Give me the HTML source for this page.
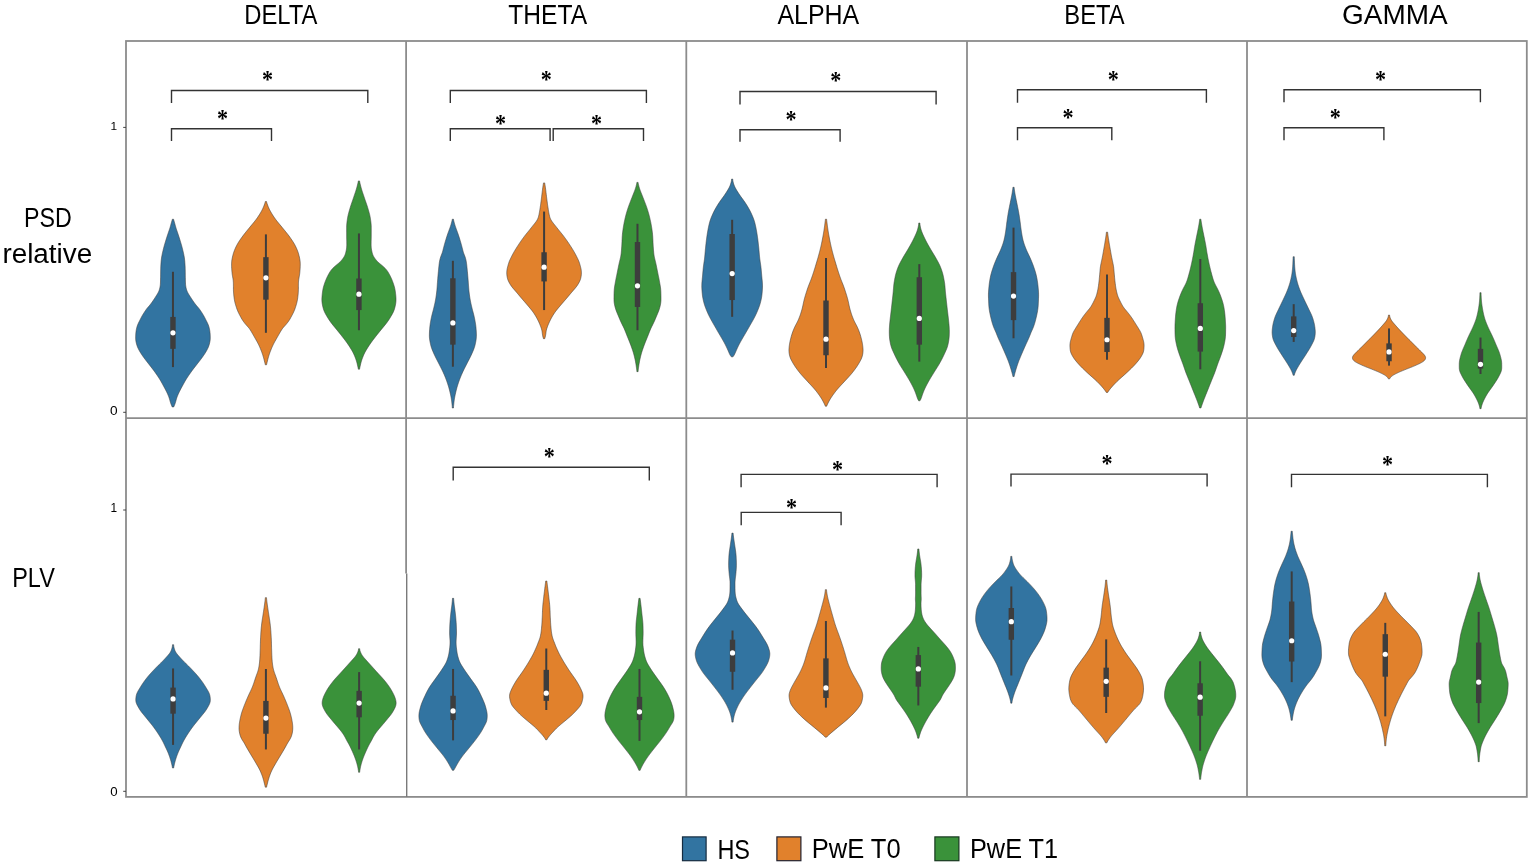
<!DOCTYPE html><html><head><meta charset="utf-8"><title>Violin plots</title><style>html,body{margin:0;padding:0;background:#fff;}svg{display:block;}</style></head><body>
<svg width="1535" height="866" viewBox="0 0 1535 866">
<rect x="0" y="0" width="1535" height="866" fill="#fff"/>
<path d="M173.56 219.23 L173.83 220.23 L174.12 221.23 L174.41 222.23 L174.69 223.23 L174.96 224.23 L175.30 225.48 L175.58 226.48 L175.86 227.48 L176.17 228.48 L176.50 229.48 L176.92 230.73 L177.27 231.73 L177.61 232.73 L177.95 233.73 L178.28 234.73 L178.68 235.98 L179.00 236.98 L179.32 237.98 L179.63 238.98 L179.94 239.98 L180.33 241.23 L180.63 242.23 L180.93 243.23 L181.23 244.23 L181.52 245.23 L181.87 246.48 L182.14 247.48 L182.40 248.48 L182.65 249.48 L182.89 250.48 L183.18 251.73 L183.41 252.73 L183.62 253.73 L183.82 254.73 L184.01 255.73 L184.23 256.98 L184.39 257.98 L184.52 258.98 L184.64 259.98 L184.74 260.98 L184.85 262.23 L184.93 263.23 L185.00 264.23 L185.06 265.23 L185.11 266.23 L185.16 267.23 L185.20 268.48 L185.23 269.48 L185.26 270.48 L185.27 271.48 L185.29 272.48 L185.30 273.73 L185.31 274.73 L185.32 275.73 L185.33 276.73 L185.34 277.73 L185.36 278.98 L185.37 279.98 L185.39 280.98 L185.42 281.98 L185.46 282.98 L185.54 284.23 L185.64 285.23 L185.78 286.23 L185.95 287.23 L186.17 288.23 L186.50 289.48 L186.82 290.48 L187.22 291.48 L187.70 292.48 L188.24 293.48 L188.99 294.73 L189.62 295.73 L190.26 296.73 L190.90 297.73 L191.54 298.73 L192.36 299.98 L193.03 300.98 L193.72 301.98 L194.44 302.98 L195.19 303.98 L196.20 305.23 L197.05 306.23 L197.92 307.23 L198.76 308.23 L199.53 309.23 L200.41 310.48 L201.08 311.48 L201.73 312.48 L202.37 313.48 L202.99 314.48 L203.58 315.48 L204.28 316.73 L204.80 317.73 L205.31 318.73 L205.81 319.73 L206.31 320.73 L206.94 321.98 L207.43 322.98 L207.89 323.98 L208.30 324.98 L208.66 325.98 L209.04 327.23 L209.29 328.23 L209.51 329.23 L209.70 330.23 L209.85 331.23 L210.01 332.48 L210.11 333.48 L210.18 334.48 L210.23 335.48 L210.26 336.48 L210.28 337.73 L210.25 338.73 L210.19 339.73 L210.07 340.73 L209.90 341.73 L209.62 342.98 L209.37 343.98 L209.08 344.98 L208.75 345.98 L208.38 346.98 L207.83 348.23 L207.35 349.23 L206.83 350.23 L206.28 351.23 L205.69 352.23 L204.91 353.48 L204.26 354.48 L203.59 355.48 L202.90 356.48 L202.18 357.48 L201.26 358.73 L200.50 359.73 L199.73 360.73 L198.96 361.73 L198.18 362.73 L197.40 363.73 L196.41 364.98 L195.63 365.98 L194.85 366.98 L194.07 367.98 L193.31 368.98 L192.38 370.23 L191.65 371.23 L190.93 372.23 L190.22 373.23 L189.52 374.23 L188.66 375.48 L187.99 376.48 L187.33 377.48 L186.68 378.48 L186.06 379.48 L185.31 380.73 L184.74 381.73 L184.18 382.73 L183.62 383.73 L183.07 384.73 L182.39 385.98 L181.84 386.98 L181.30 387.98 L180.77 388.98 L180.25 389.98 L179.62 391.23 L179.13 392.23 L178.66 393.23 L178.20 394.23 L177.77 395.23 L177.27 396.48 L176.92 397.48 L176.59 398.48 L176.30 399.48 L176.03 400.48 L175.68 401.73 L175.37 402.73 L175.04 403.73 L174.66 404.73 L174.25 405.73 L173.68 406.98 L172.23 406.98 L171.66 405.73 L171.25 404.73 L170.87 403.73 L170.54 402.73 L170.23 401.73 L169.88 400.48 L169.61 399.48 L169.32 398.48 L168.99 397.48 L168.64 396.48 L168.14 395.23 L167.71 394.23 L167.25 393.23 L166.78 392.23 L166.29 391.23 L165.66 389.98 L165.14 388.98 L164.61 387.98 L164.07 386.98 L163.52 385.98 L162.84 384.73 L162.29 383.73 L161.73 382.73 L161.17 381.73 L160.60 380.73 L159.85 379.48 L159.23 378.48 L158.58 377.48 L157.92 376.48 L157.25 375.48 L156.39 374.23 L155.69 373.23 L154.98 372.23 L154.26 371.23 L153.53 370.23 L152.60 368.98 L151.84 367.98 L151.06 366.98 L150.28 365.98 L149.50 364.98 L148.51 363.73 L147.73 362.73 L146.95 361.73 L146.18 360.73 L145.41 359.73 L144.65 358.73 L143.73 357.48 L143.01 356.48 L142.32 355.48 L141.65 354.48 L141.00 353.48 L140.22 352.23 L139.63 351.23 L139.08 350.23 L138.56 349.23 L138.08 348.23 L137.53 346.98 L137.16 345.98 L136.83 344.98 L136.54 343.98 L136.29 342.98 L136.01 341.73 L135.84 340.73 L135.72 339.73 L135.66 338.73 L135.63 337.73 L135.65 336.48 L135.68 335.48 L135.73 334.48 L135.80 333.48 L135.90 332.48 L136.06 331.23 L136.21 330.23 L136.40 329.23 L136.62 328.23 L136.87 327.23 L137.25 325.98 L137.61 324.98 L138.02 323.98 L138.48 322.98 L138.97 321.98 L139.60 320.73 L140.10 319.73 L140.60 318.73 L141.11 317.73 L141.63 316.73 L142.33 315.48 L142.92 314.48 L143.54 313.48 L144.18 312.48 L144.83 311.48 L145.50 310.48 L146.38 309.23 L147.15 308.23 L147.99 307.23 L148.86 306.23 L149.72 305.23 L150.72 303.98 L151.47 302.98 L152.19 301.98 L152.88 300.98 L153.55 299.98 L154.37 298.73 L155.01 297.73 L155.65 296.73 L156.29 295.73 L156.92 294.73 L157.67 293.48 L158.21 292.48 L158.69 291.48 L159.09 290.48 L159.41 289.48 L159.74 288.23 L159.96 287.23 L160.13 286.23 L160.27 285.23 L160.37 284.23 L160.45 282.98 L160.49 281.98 L160.52 280.98 L160.54 279.98 L160.55 278.98 L160.57 277.73 L160.58 276.73 L160.59 275.73 L160.60 274.73 L160.61 273.73 L160.62 272.48 L160.64 271.48 L160.65 270.48 L160.68 269.48 L160.71 268.48 L160.75 267.23 L160.80 266.23 L160.85 265.23 L160.91 264.23 L160.98 263.23 L161.06 262.23 L161.17 260.98 L161.27 259.98 L161.39 258.98 L161.52 257.98 L161.68 256.98 L161.90 255.73 L162.09 254.73 L162.29 253.73 L162.50 252.73 L162.73 251.73 L163.02 250.48 L163.26 249.48 L163.51 248.48 L163.77 247.48 L164.04 246.48 L164.39 245.23 L164.68 244.23 L164.98 243.23 L165.28 242.23 L165.58 241.23 L165.97 239.98 L166.28 238.98 L166.59 237.98 L166.91 236.98 L167.23 235.98 L167.63 234.73 L167.96 233.73 L168.30 232.73 L168.64 231.73 L168.99 230.73 L169.41 229.48 L169.74 228.48 L170.05 227.48 L170.33 226.48 L170.61 225.48 L170.95 224.23 L171.22 223.23 L171.50 222.23 L171.79 221.23 L172.08 220.23 L172.36 219.23 Z" fill="#3274a1" stroke="#3d3d3d" stroke-width="0.7" stroke-opacity="0.8"/>
<line x1="172.96" y1="271.77" x2="172.96" y2="367.10" stroke="#3d3d3d" stroke-width="2.0"/>
<rect x="170.26" y="316.93" width="5.4" height="31.92" fill="#3d3d3d"/>
<circle cx="172.96" cy="332.80" r="2.6" fill="#fff"/>
<path d="M266.51 201.54 L266.68 202.29 L266.97 203.29 L267.22 204.04 L267.58 205.04 L267.96 206.04 L268.26 206.79 L268.69 207.79 L269.14 208.79 L269.51 209.54 L270.02 210.54 L270.57 211.54 L271.00 212.29 L271.59 213.29 L272.20 214.29 L272.67 215.04 L273.31 216.04 L273.98 217.04 L274.49 217.79 L275.21 218.79 L275.76 219.54 L276.52 220.54 L277.32 221.54 L277.92 222.29 L278.75 223.29 L279.57 224.29 L280.20 225.04 L281.02 226.04 L281.84 227.04 L282.45 227.79 L283.27 228.79 L284.09 229.79 L284.71 230.54 L285.53 231.54 L286.34 232.54 L286.93 233.29 L287.72 234.29 L288.29 235.04 L289.04 236.04 L289.77 237.04 L290.30 237.79 L291.01 238.79 L291.71 239.79 L292.21 240.54 L292.87 241.54 L293.50 242.54 L293.95 243.29 L294.52 244.29 L295.05 245.29 L295.43 246.04 L295.92 247.04 L296.38 248.04 L296.72 248.79 L297.15 249.79 L297.45 250.54 L297.82 251.54 L298.17 252.54 L298.40 253.29 L298.68 254.29 L298.94 255.29 L299.12 256.04 L299.36 257.04 L299.57 258.04 L299.73 258.79 L299.90 259.79 L300.05 260.79 L300.14 261.54 L300.22 262.54 L300.26 263.54 L300.27 264.29 L300.26 265.29 L300.23 266.29 L300.20 267.04 L300.15 268.04 L300.11 268.79 L300.05 269.79 L299.98 270.79 L299.92 271.54 L299.83 272.54 L299.72 273.54 L299.62 274.29 L299.46 275.29 L299.29 276.29 L299.15 277.04 L298.97 278.04 L298.81 279.04 L298.70 279.79 L298.59 280.79 L298.51 281.79 L298.48 282.54 L298.45 283.54 L298.43 284.29 L298.42 285.29 L298.42 286.29 L298.41 287.04 L298.41 288.04 L298.40 289.04 L298.39 289.79 L298.36 290.79 L298.32 291.79 L298.28 292.54 L298.21 293.54 L298.12 294.54 L298.04 295.29 L297.92 296.29 L297.80 297.29 L297.69 298.04 L297.55 299.04 L297.43 299.79 L297.25 300.79 L297.04 301.79 L296.87 302.54 L296.62 303.54 L296.34 304.54 L296.11 305.29 L295.80 306.29 L295.48 307.29 L295.23 308.04 L294.88 309.04 L294.50 310.04 L294.20 310.79 L293.77 311.79 L293.30 312.79 L292.94 313.54 L292.43 314.54 L291.90 315.54 L291.50 316.29 L290.95 317.29 L290.54 318.04 L289.97 319.04 L289.36 320.04 L288.87 320.79 L288.16 321.79 L287.41 322.79 L286.81 323.54 L285.98 324.54 L285.10 325.54 L284.42 326.29 L283.52 327.29 L282.69 328.29 L282.13 329.04 L281.47 330.04 L280.86 331.04 L280.42 331.79 L279.84 332.79 L279.41 333.54 L278.83 334.54 L278.26 335.54 L277.83 336.29 L277.26 337.29 L276.69 338.29 L276.26 339.04 L275.68 340.04 L275.12 341.04 L274.71 341.79 L274.17 342.79 L273.65 343.79 L273.28 344.54 L272.80 345.54 L272.35 346.54 L272.01 347.29 L271.58 348.29 L271.27 349.04 L270.86 350.04 L270.47 351.04 L270.19 351.79 L269.83 352.79 L269.48 353.79 L269.24 354.54 L268.92 355.54 L268.62 356.54 L268.40 357.29 L268.12 358.29 L267.85 359.29 L267.66 360.04 L267.42 361.04 L267.17 362.04 L266.99 362.79 L266.75 363.79 L266.54 364.79 L265.29 364.79 L265.08 363.79 L264.84 362.79 L264.65 362.04 L264.41 361.04 L264.16 360.04 L263.97 359.29 L263.71 358.29 L263.43 357.29 L263.21 356.54 L262.91 355.54 L262.59 354.54 L262.34 353.79 L262.00 352.79 L261.64 351.79 L261.35 351.04 L260.96 350.04 L260.56 349.04 L260.24 348.29 L259.81 347.29 L259.48 346.54 L259.02 345.54 L258.54 344.54 L258.17 343.79 L257.65 342.79 L257.12 341.79 L256.70 341.04 L256.14 340.04 L255.57 339.04 L255.14 338.29 L254.56 337.29 L253.99 336.29 L253.56 335.54 L252.99 334.54 L252.42 333.54 L251.98 332.79 L251.40 331.79 L250.96 331.04 L250.36 330.04 L249.70 329.04 L249.14 328.29 L248.30 327.29 L247.40 326.29 L246.72 325.54 L245.85 324.54 L245.01 323.54 L244.42 322.79 L243.66 321.79 L242.96 320.79 L242.47 320.04 L241.86 319.04 L241.29 318.04 L240.87 317.29 L240.33 316.29 L239.93 315.54 L239.40 314.54 L238.89 313.54 L238.52 312.79 L238.05 311.79 L237.62 310.79 L237.32 310.04 L236.95 309.04 L236.60 308.04 L236.35 307.29 L236.02 306.29 L235.71 305.29 L235.49 304.54 L235.21 303.54 L234.95 302.54 L234.78 301.79 L234.57 300.79 L234.40 299.79 L234.28 299.04 L234.13 298.04 L234.03 297.29 L233.90 296.29 L233.78 295.29 L233.71 294.54 L233.62 293.54 L233.54 292.54 L233.50 291.79 L233.46 290.79 L233.44 289.79 L233.43 289.04 L233.42 288.04 L233.41 287.04 L233.41 286.29 L233.40 285.29 L233.39 284.29 L233.38 283.54 L233.35 282.54 L233.31 281.79 L233.23 280.79 L233.12 279.79 L233.02 279.04 L232.85 278.04 L232.67 277.04 L232.53 276.29 L232.36 275.29 L232.21 274.29 L232.11 273.54 L232.00 272.54 L231.91 271.54 L231.85 270.79 L231.78 269.79 L231.72 268.79 L231.67 268.04 L231.63 267.04 L231.60 266.29 L231.57 265.29 L231.56 264.29 L231.57 263.54 L231.61 262.54 L231.69 261.54 L231.77 260.79 L231.92 259.79 L232.10 258.79 L232.25 258.04 L232.47 257.04 L232.70 256.04 L232.88 255.29 L233.14 254.29 L233.43 253.29 L233.66 252.54 L234.00 251.54 L234.38 250.54 L234.68 249.79 L235.10 248.79 L235.44 248.04 L235.91 247.04 L236.39 246.04 L236.77 245.29 L237.31 244.29 L237.88 243.29 L238.32 242.54 L238.95 241.54 L239.61 240.54 L240.12 239.79 L240.81 238.79 L241.52 237.79 L242.06 237.04 L242.79 236.04 L243.54 235.04 L244.11 234.29 L244.89 233.29 L245.49 232.54 L246.30 231.54 L247.12 230.54 L247.73 229.79 L248.55 228.79 L249.37 227.79 L249.99 227.04 L250.80 226.04 L251.63 225.04 L252.25 224.29 L253.08 223.29 L253.90 222.29 L254.51 221.54 L255.30 220.54 L256.07 219.54 L256.62 218.79 L257.33 217.79 L257.85 217.04 L258.51 216.04 L259.16 215.04 L259.63 214.29 L260.24 213.29 L260.83 212.29 L261.25 211.54 L261.80 210.54 L262.32 209.54 L262.68 208.79 L263.14 207.79 L263.56 206.79 L263.86 206.04 L264.24 205.04 L264.60 204.04 L264.85 203.29 L265.14 202.29 L265.31 201.54 Z" fill="#e1812c" stroke="#3d3d3d" stroke-width="0.7" stroke-opacity="0.8"/>
<line x1="265.91" y1="234.37" x2="265.91" y2="332.80" stroke="#3d3d3d" stroke-width="2.0"/>
<rect x="263.21" y="257.17" width="5.4" height="42.50" fill="#3d3d3d"/>
<circle cx="265.91" cy="277.79" r="2.6" fill="#fff"/>
<path d="M359.54 180.93 L359.71 181.93 L359.92 182.93 L360.16 183.93 L360.40 184.93 L360.72 186.18 L360.99 187.18 L361.27 188.18 L361.56 189.18 L361.86 190.18 L362.26 191.43 L362.59 192.43 L362.93 193.43 L363.27 194.43 L363.61 195.43 L364.03 196.68 L364.37 197.68 L364.71 198.68 L365.04 199.68 L365.38 200.68 L365.81 201.93 L366.15 202.93 L366.49 203.93 L366.83 204.93 L367.16 205.93 L367.55 207.18 L367.86 208.18 L368.16 209.18 L368.45 210.18 L368.74 211.18 L369.09 212.43 L369.36 213.43 L369.61 214.43 L369.84 215.43 L370.10 216.68 L370.28 217.68 L370.44 218.68 L370.59 219.68 L370.72 220.68 L370.88 221.93 L370.99 222.93 L371.08 223.93 L371.16 224.93 L371.21 225.93 L371.24 227.18 L371.25 228.18 L371.26 229.18 L371.26 230.18 L371.26 231.18 L371.26 232.43 L371.26 233.43 L371.26 234.43 L371.25 235.43 L371.25 236.43 L371.24 237.68 L371.22 238.68 L371.19 239.68 L371.17 240.68 L371.14 241.68 L371.11 242.93 L371.10 243.93 L371.10 244.93 L371.13 245.93 L371.21 247.18 L371.31 248.18 L371.45 249.18 L371.63 250.18 L371.83 251.18 L372.12 252.43 L372.39 253.43 L372.71 254.43 L373.11 255.43 L373.61 256.43 L374.38 257.68 L375.09 258.68 L375.87 259.68 L376.70 260.68 L377.62 261.68 L378.95 262.93 L380.16 263.93 L381.41 264.93 L382.60 265.93 L383.71 266.93 L384.98 268.18 L385.90 269.18 L386.73 270.18 L387.46 271.18 L388.12 272.18 L388.86 273.43 L389.41 274.43 L389.94 275.43 L390.45 276.43 L391.05 277.68 L391.49 278.68 L391.92 279.68 L392.31 280.68 L392.69 281.68 L393.13 282.93 L393.48 283.93 L393.80 284.93 L394.11 285.93 L394.40 286.93 L394.71 288.18 L394.93 289.18 L395.11 290.18 L395.27 291.18 L395.41 292.18 L395.56 293.43 L395.68 294.43 L395.79 295.43 L395.88 296.43 L395.95 297.43 L396.01 298.68 L396.02 299.68 L395.99 300.68 L395.93 301.68 L395.82 302.68 L395.63 303.93 L395.44 304.93 L395.23 305.93 L395.00 306.93 L394.68 308.18 L394.40 309.18 L394.07 310.18 L393.68 311.18 L393.24 312.18 L392.62 313.43 L392.08 314.43 L391.51 315.43 L390.92 316.43 L390.32 317.43 L389.55 318.68 L388.91 319.68 L388.24 320.68 L387.54 321.68 L386.80 322.68 L385.84 323.93 L385.04 324.93 L384.23 325.93 L383.41 326.93 L382.59 327.93 L381.56 329.18 L380.75 330.18 L379.94 331.18 L379.13 332.18 L378.32 333.18 L377.32 334.43 L376.53 335.43 L375.74 336.43 L374.97 337.43 L374.00 338.68 L373.24 339.68 L372.48 340.68 L371.74 341.68 L371.02 342.68 L370.14 343.93 L369.46 344.93 L368.80 345.93 L368.15 346.93 L367.51 347.93 L366.74 349.18 L366.15 350.18 L365.58 351.18 L365.04 352.18 L364.54 353.18 L363.95 354.43 L363.51 355.43 L363.10 356.43 L362.70 357.43 L362.33 358.43 L361.89 359.68 L361.56 360.68 L361.26 361.68 L360.99 362.68 L360.73 363.68 L360.43 364.93 L360.20 365.93 L359.98 366.93 L359.77 367.93 L359.56 369.18 L358.33 369.18 L358.12 367.93 L357.91 366.93 L357.68 365.93 L357.45 364.93 L357.16 363.68 L356.90 362.68 L356.63 361.68 L356.33 360.68 L356.00 359.68 L355.56 358.43 L355.19 357.43 L354.79 356.43 L354.38 355.43 L353.94 354.43 L353.35 353.18 L352.85 352.18 L352.31 351.18 L351.74 350.18 L351.15 349.18 L350.37 347.93 L349.74 346.93 L349.09 345.93 L348.43 344.93 L347.75 343.93 L346.87 342.68 L346.15 341.68 L345.40 340.68 L344.65 339.68 L343.88 338.68 L342.92 337.43 L342.14 336.43 L341.36 335.43 L340.57 334.43 L339.57 333.18 L338.76 332.18 L337.95 331.18 L337.14 330.18 L336.32 329.18 L335.30 327.93 L334.48 326.93 L333.65 325.93 L332.84 324.93 L332.05 323.93 L331.09 322.68 L330.35 321.68 L329.65 320.68 L328.98 319.68 L328.33 318.68 L327.56 317.43 L326.97 316.43 L326.38 315.43 L325.81 314.43 L325.27 313.43 L324.65 312.18 L324.21 311.18 L323.82 310.18 L323.49 309.18 L323.20 308.18 L322.89 306.93 L322.65 305.93 L322.44 304.93 L322.26 303.93 L322.07 302.68 L321.96 301.68 L321.90 300.68 L321.87 299.68 L321.88 298.68 L321.94 297.43 L322.01 296.43 L322.10 295.43 L322.21 294.43 L322.32 293.43 L322.48 292.18 L322.62 291.18 L322.78 290.18 L322.96 289.18 L323.17 288.18 L323.49 286.93 L323.78 285.93 L324.09 284.93 L324.41 283.93 L324.75 282.93 L325.20 281.68 L325.57 280.68 L325.97 279.68 L326.39 278.68 L326.84 277.68 L327.44 276.43 L327.95 275.43 L328.47 274.43 L329.03 273.43 L329.77 272.18 L330.43 271.18 L331.16 270.18 L331.99 269.18 L332.91 268.18 L334.18 266.93 L335.29 265.93 L336.48 264.93 L337.73 263.93 L338.94 262.93 L340.27 261.68 L341.19 260.68 L342.02 259.68 L342.80 258.68 L343.51 257.68 L344.28 256.43 L344.77 255.43 L345.17 254.43 L345.49 253.43 L345.76 252.43 L346.06 251.18 L346.26 250.18 L346.44 249.18 L346.58 248.18 L346.68 247.18 L346.76 245.93 L346.79 244.93 L346.79 243.93 L346.77 242.93 L346.75 241.68 L346.72 240.68 L346.69 239.68 L346.67 238.68 L346.65 237.68 L346.64 236.43 L346.63 235.43 L346.63 234.43 L346.63 233.43 L346.63 232.43 L346.63 231.18 L346.63 230.18 L346.63 229.18 L346.64 228.18 L346.65 227.18 L346.68 225.93 L346.73 224.93 L346.80 223.93 L346.90 222.93 L347.01 221.93 L347.17 220.68 L347.30 219.68 L347.45 218.68 L347.61 217.68 L347.79 216.68 L348.05 215.43 L348.28 214.43 L348.53 213.43 L348.80 212.43 L349.15 211.18 L349.44 210.18 L349.73 209.18 L350.03 208.18 L350.33 207.18 L350.73 205.93 L351.06 204.93 L351.39 203.93 L351.74 202.93 L352.08 201.93 L352.50 200.68 L352.84 199.68 L353.18 198.68 L353.52 197.68 L353.86 196.68 L354.28 195.43 L354.62 194.43 L354.96 193.43 L355.30 192.43 L355.63 191.43 L356.03 190.18 L356.33 189.18 L356.62 188.18 L356.90 187.18 L357.17 186.18 L357.49 184.93 L357.73 183.93 L357.97 182.93 L358.18 181.93 L358.34 180.93 Z" fill="#3a923a" stroke="#3d3d3d" stroke-width="0.7" stroke-opacity="0.8"/>
<line x1="358.94" y1="233.46" x2="358.94" y2="330.25" stroke="#3d3d3d" stroke-width="2.0"/>
<rect x="356.24" y="278.52" width="5.4" height="31.56" fill="#3d3d3d"/>
<circle cx="358.94" cy="294.21" r="2.6" fill="#fff"/>
<path d="M453.48 219.23 L453.64 220.23 L453.87 221.23 L454.12 222.23 L454.39 223.23 L454.75 224.48 L455.06 225.48 L455.38 226.48 L455.72 227.48 L456.08 228.48 L456.53 229.73 L456.90 230.73 L457.27 231.73 L457.62 232.73 L458.06 233.98 L458.40 234.98 L458.73 235.98 L459.06 236.98 L459.38 237.98 L459.77 239.23 L460.07 240.23 L460.37 241.23 L460.67 242.23 L461.03 243.48 L461.31 244.48 L461.58 245.48 L461.85 246.48 L462.11 247.48 L462.43 248.73 L462.68 249.73 L462.94 250.73 L463.20 251.73 L463.50 252.73 L463.95 253.98 L464.35 254.98 L464.74 255.98 L465.10 256.98 L465.49 258.23 L465.76 259.23 L466.00 260.23 L466.20 261.23 L466.37 262.23 L466.55 263.48 L466.68 264.48 L466.80 265.48 L466.90 266.48 L467.03 267.73 L467.13 268.73 L467.22 269.73 L467.32 270.73 L467.41 271.73 L467.52 272.98 L467.61 273.98 L467.69 274.98 L467.78 275.98 L467.87 276.98 L467.97 278.23 L468.06 279.23 L468.14 280.23 L468.22 281.23 L468.32 282.48 L468.39 283.48 L468.46 284.48 L468.53 285.48 L468.60 286.48 L468.69 287.73 L468.77 288.73 L468.85 289.73 L468.95 290.73 L469.07 291.98 L469.19 292.98 L469.31 293.98 L469.45 294.98 L469.59 295.98 L469.78 297.23 L469.94 298.23 L470.11 299.23 L470.29 300.23 L470.48 301.23 L470.73 302.48 L470.95 303.48 L471.17 304.48 L471.40 305.48 L471.69 306.73 L471.93 307.73 L472.17 308.73 L472.42 309.73 L472.67 310.73 L473.00 311.98 L473.26 312.98 L473.52 313.98 L473.78 314.98 L474.08 316.23 L474.31 317.23 L474.52 318.23 L474.72 319.23 L474.91 320.23 L475.14 321.48 L475.31 322.48 L475.48 323.48 L475.63 324.48 L475.79 325.73 L475.91 326.73 L476.00 327.73 L476.08 328.73 L476.15 329.73 L476.23 330.98 L476.29 331.98 L476.33 332.98 L476.36 333.98 L476.38 334.98 L476.37 336.23 L476.34 337.23 L476.26 338.23 L476.15 339.23 L475.97 340.48 L475.80 341.48 L475.61 342.48 L475.41 343.48 L475.19 344.48 L474.88 345.73 L474.60 346.73 L474.28 347.73 L473.93 348.73 L473.45 349.98 L473.03 350.98 L472.60 351.98 L472.17 352.98 L471.72 353.98 L471.16 355.23 L470.69 356.23 L470.20 357.23 L469.70 358.23 L469.19 359.23 L468.55 360.48 L468.03 361.48 L467.51 362.48 L467.00 363.48 L466.36 364.73 L465.85 365.73 L465.34 366.73 L464.82 367.73 L464.31 368.73 L463.69 369.98 L463.21 370.98 L462.74 371.98 L462.29 372.98 L461.74 374.23 L461.31 375.23 L460.90 376.23 L460.49 377.23 L460.09 378.23 L459.62 379.48 L459.25 380.48 L458.89 381.48 L458.55 382.48 L458.21 383.48 L457.81 384.73 L457.50 385.73 L457.19 386.73 L456.90 387.73 L456.55 388.98 L456.29 389.98 L456.04 390.98 L455.81 391.98 L455.58 392.98 L455.31 394.23 L455.10 395.23 L454.90 396.23 L454.71 397.23 L454.50 398.48 L454.34 399.48 L454.20 400.48 L454.07 401.48 L453.95 402.48 L453.82 403.73 L453.71 404.73 L453.61 405.73 L453.53 406.73 L453.48 407.98 L452.28 407.98 L452.24 406.73 L452.15 405.73 L452.05 404.73 L451.94 403.73 L451.81 402.48 L451.69 401.48 L451.56 400.48 L451.42 399.48 L451.26 398.48 L451.05 397.23 L450.86 396.23 L450.66 395.23 L450.46 394.23 L450.18 392.98 L449.96 391.98 L449.72 390.98 L449.47 389.98 L449.21 388.98 L448.86 387.73 L448.57 386.73 L448.27 385.73 L447.95 384.73 L447.55 383.48 L447.21 382.48 L446.87 381.48 L446.51 380.48 L446.14 379.48 L445.67 378.23 L445.27 377.23 L444.87 376.23 L444.45 375.23 L444.02 374.23 L443.47 372.98 L443.02 371.98 L442.55 370.98 L442.07 369.98 L441.45 368.73 L440.94 367.73 L440.43 366.73 L439.91 365.73 L439.40 364.73 L438.76 363.48 L438.25 362.48 L437.73 361.48 L437.22 360.48 L436.57 359.23 L436.06 358.23 L435.56 357.23 L435.08 356.23 L434.61 355.23 L434.04 353.98 L433.59 352.98 L433.16 351.98 L432.73 350.98 L432.32 349.98 L431.83 348.73 L431.48 347.73 L431.16 346.73 L430.88 345.73 L430.58 344.48 L430.36 343.48 L430.15 342.48 L429.96 341.48 L429.79 340.48 L429.61 339.23 L429.50 338.23 L429.43 337.23 L429.39 336.23 L429.38 334.98 L429.40 333.98 L429.43 332.98 L429.48 331.98 L429.53 330.98 L429.61 329.73 L429.68 328.73 L429.76 327.73 L429.86 326.73 L429.97 325.73 L430.13 324.48 L430.28 323.48 L430.45 322.48 L430.62 321.48 L430.85 320.23 L431.04 319.23 L431.24 318.23 L431.46 317.23 L431.68 316.23 L431.99 314.98 L432.24 313.98 L432.50 312.98 L432.77 311.98 L433.09 310.73 L433.34 309.73 L433.59 308.73 L433.83 307.73 L434.07 306.73 L434.36 305.48 L434.59 304.48 L434.82 303.48 L435.03 302.48 L435.28 301.23 L435.47 300.23 L435.65 299.23 L435.82 298.23 L435.98 297.23 L436.17 295.98 L436.31 294.98 L436.45 293.98 L436.57 292.98 L436.69 291.98 L436.82 290.73 L436.91 289.73 L436.99 288.73 L437.07 287.73 L437.16 286.48 L437.23 285.48 L437.30 284.48 L437.37 283.48 L437.45 282.48 L437.54 281.23 L437.62 280.23 L437.70 279.23 L437.79 278.23 L437.89 276.98 L437.98 275.98 L438.07 274.98 L438.16 273.98 L438.24 272.98 L438.36 271.73 L438.45 270.73 L438.54 269.73 L438.63 268.73 L438.73 267.73 L438.86 266.48 L438.97 265.48 L439.08 264.48 L439.21 263.48 L439.39 262.23 L439.56 261.23 L439.76 260.23 L440.00 259.23 L440.27 258.23 L440.66 256.98 L441.02 255.98 L441.41 254.98 L441.81 253.98 L442.26 252.73 L442.56 251.73 L442.83 250.73 L443.08 249.73 L443.33 248.73 L443.65 247.48 L443.91 246.48 L444.18 245.48 L444.45 244.48 L444.73 243.48 L445.09 242.23 L445.39 241.23 L445.69 240.23 L445.99 239.23 L446.38 237.98 L446.70 236.98 L447.03 235.98 L447.36 234.98 L447.70 233.98 L448.14 232.73 L448.50 231.73 L448.86 230.73 L449.23 229.73 L449.69 228.48 L450.04 227.48 L450.38 226.48 L450.71 225.48 L451.01 224.48 L451.37 223.23 L451.64 222.23 L451.89 221.23 L452.12 220.23 L452.28 219.23 Z" fill="#3274a1" stroke="#3d3d3d" stroke-width="0.7" stroke-opacity="0.8"/>
<line x1="452.88" y1="260.82" x2="452.88" y2="366.73" stroke="#3d3d3d" stroke-width="2.0"/>
<rect x="450.18" y="278.26" width="5.4" height="66.40" fill="#3d3d3d"/>
<circle cx="452.88" cy="322.95" r="2.6" fill="#fff"/>
<path d="M544.69 182.93 L544.80 183.68 L544.92 184.43 L545.09 185.43 L545.21 186.18 L545.35 187.18 L545.46 187.93 L545.60 188.93 L545.69 189.68 L545.82 190.68 L545.91 191.43 L546.03 192.43 L546.12 193.18 L546.23 194.18 L546.32 194.93 L546.44 195.93 L546.53 196.68 L546.66 197.68 L546.75 198.43 L546.88 199.43 L546.98 200.18 L547.11 201.18 L547.20 201.93 L547.34 202.93 L547.44 203.68 L547.57 204.68 L547.68 205.43 L547.79 206.18 L547.94 207.18 L548.05 207.93 L548.21 208.93 L548.33 209.68 L548.49 210.68 L548.61 211.43 L548.78 212.43 L548.92 213.18 L549.11 214.18 L549.27 214.93 L549.50 215.93 L549.70 216.68 L550.02 217.68 L550.30 218.43 L550.76 219.43 L551.18 220.18 L551.81 221.18 L552.33 221.93 L553.09 222.93 L553.68 223.68 L554.48 224.68 L555.08 225.43 L555.88 226.43 L556.48 227.18 L557.07 227.93 L557.86 228.93 L558.46 229.68 L559.27 230.68 L559.88 231.43 L560.70 232.43 L561.31 233.18 L562.11 234.18 L562.70 234.93 L563.47 235.93 L564.04 236.68 L564.78 237.68 L565.33 238.43 L566.05 239.43 L566.59 240.18 L567.29 241.18 L567.81 241.93 L568.49 242.93 L568.99 243.68 L569.66 244.68 L570.15 245.43 L570.79 246.43 L571.27 247.18 L571.91 248.18 L572.37 248.93 L572.83 249.68 L573.44 250.68 L573.88 251.43 L574.45 252.43 L574.87 253.18 L575.41 254.18 L575.80 254.93 L576.32 255.93 L576.71 256.68 L577.21 257.68 L577.58 258.43 L578.05 259.43 L578.38 260.18 L578.80 261.18 L579.08 261.93 L579.43 262.93 L579.67 263.68 L579.96 264.68 L580.18 265.43 L580.44 266.43 L580.63 267.18 L580.87 268.18 L581.02 268.93 L581.19 269.93 L581.29 270.68 L581.38 271.68 L581.41 272.43 L581.41 273.18 L581.37 274.18 L581.30 274.93 L581.18 275.93 L581.07 276.68 L580.88 277.68 L580.70 278.43 L580.40 279.43 L580.13 280.18 L579.70 281.18 L579.33 281.93 L578.80 282.93 L578.38 283.68 L577.78 284.68 L577.30 285.43 L576.59 286.43 L576.01 287.18 L575.20 288.18 L574.56 288.93 L573.70 289.93 L573.05 290.68 L572.19 291.68 L571.54 292.43 L570.69 293.43 L570.06 294.18 L569.43 294.93 L568.61 295.93 L567.98 296.68 L567.13 297.68 L566.49 298.43 L565.63 299.43 L564.97 300.18 L564.11 301.18 L563.46 301.93 L562.60 302.93 L561.96 303.68 L561.11 304.68 L560.47 305.43 L559.63 306.43 L558.99 307.18 L558.15 308.18 L557.53 308.93 L556.73 309.93 L556.14 310.68 L555.39 311.68 L554.85 312.43 L554.17 313.43 L553.68 314.18 L553.05 315.18 L552.59 315.93 L552.15 316.68 L551.59 317.68 L551.18 318.43 L550.65 319.43 L550.27 320.18 L549.78 321.18 L549.42 321.93 L548.97 322.93 L548.65 323.68 L548.23 324.68 L547.93 325.43 L547.55 326.43 L547.27 327.18 L546.93 328.18 L546.69 328.93 L546.42 329.93 L546.25 330.68 L546.09 331.68 L546.00 332.43 L545.88 333.43 L545.77 334.18 L545.61 335.18 L545.46 335.93 L545.22 336.93 L545.02 337.68 L544.73 338.68 L543.44 338.68 L543.16 337.68 L542.95 336.93 L542.72 335.93 L542.57 335.18 L542.40 334.18 L542.30 333.43 L542.18 332.43 L542.08 331.68 L541.92 330.68 L541.76 329.93 L541.49 328.93 L541.25 328.18 L540.90 327.18 L540.63 326.43 L540.24 325.43 L539.94 324.68 L539.53 323.68 L539.21 322.93 L538.75 321.93 L538.40 321.18 L537.91 320.18 L537.53 319.43 L537.00 318.43 L536.59 317.68 L536.02 316.68 L535.58 315.93 L535.13 315.18 L534.50 314.18 L534.01 313.43 L533.32 312.43 L532.79 311.68 L532.04 310.68 L531.45 309.93 L530.64 308.93 L530.02 308.18 L529.19 307.18 L528.55 306.43 L527.70 305.43 L527.07 304.68 L526.22 303.68 L525.58 302.93 L524.72 301.93 L524.07 301.18 L523.20 300.18 L522.55 299.43 L521.69 298.43 L521.04 297.68 L520.20 296.68 L519.57 295.93 L518.74 294.93 L518.12 294.18 L517.49 293.43 L516.64 292.43 L515.99 291.68 L515.12 290.68 L514.47 289.93 L513.61 288.93 L512.98 288.18 L512.16 287.18 L511.59 286.43 L510.88 285.43 L510.40 284.68 L509.80 283.68 L509.37 282.93 L508.84 281.93 L508.48 281.18 L508.05 280.18 L507.77 279.43 L507.48 278.43 L507.30 277.68 L507.11 276.68 L506.99 275.93 L506.87 274.93 L506.81 274.18 L506.76 273.18 L506.76 272.43 L506.79 271.68 L506.88 270.68 L506.98 269.93 L507.16 268.93 L507.31 268.18 L507.54 267.18 L507.73 266.43 L508.00 265.43 L508.21 264.68 L508.51 263.68 L508.75 262.93 L509.09 261.93 L509.38 261.18 L509.79 260.18 L510.13 259.43 L510.60 258.43 L510.96 257.68 L511.47 256.68 L511.85 255.93 L512.37 254.93 L512.77 254.18 L513.31 253.18 L513.73 252.43 L514.30 251.43 L514.74 250.68 L515.34 249.68 L515.80 248.93 L516.27 248.18 L516.90 247.18 L517.38 246.43 L518.03 245.43 L518.52 244.68 L519.18 243.68 L519.69 242.93 L520.37 241.93 L520.89 241.18 L521.59 240.18 L522.12 239.43 L522.84 238.43 L523.39 237.68 L524.13 236.68 L524.70 235.93 L525.47 234.93 L526.06 234.18 L526.87 233.18 L527.48 232.43 L528.29 231.43 L528.91 230.68 L529.72 229.68 L530.32 228.93 L531.11 227.93 L531.70 227.18 L532.29 226.43 L533.09 225.43 L533.70 224.68 L534.50 223.68 L535.09 222.93 L535.84 221.93 L536.37 221.18 L537.00 220.18 L537.41 219.43 L537.87 218.43 L538.16 217.68 L538.47 216.68 L538.68 215.93 L538.91 214.93 L539.07 214.18 L539.26 213.18 L539.39 212.43 L539.56 211.43 L539.69 210.68 L539.85 209.68 L539.97 208.93 L540.12 207.93 L540.24 207.18 L540.39 206.18 L540.50 205.43 L540.60 204.68 L540.74 203.68 L540.84 202.93 L540.97 201.93 L541.07 201.18 L541.20 200.18 L541.30 199.43 L541.42 198.43 L541.52 197.68 L541.64 196.68 L541.73 195.93 L541.85 194.93 L541.94 194.18 L542.06 193.18 L542.15 192.43 L542.27 191.43 L542.36 190.68 L542.48 189.68 L542.58 188.93 L542.72 187.93 L542.82 187.18 L542.97 186.18 L543.09 185.43 L543.26 184.43 L543.38 183.68 L543.49 182.93 Z" fill="#e1812c" stroke="#3d3d3d" stroke-width="0.7" stroke-opacity="0.8"/>
<line x1="544.09" y1="211.57" x2="544.09" y2="310.08" stroke="#3d3d3d" stroke-width="2.0"/>
<rect x="541.39" y="252.25" width="5.4" height="29.19" fill="#3d3d3d"/>
<circle cx="544.09" cy="267.21" r="2.6" fill="#fff"/>
<path d="M638.08 182.38 L638.23 183.38 L638.44 184.38 L638.69 185.38 L638.95 186.38 L639.31 187.63 L639.62 188.63 L639.95 189.63 L640.30 190.63 L640.77 191.88 L641.16 192.88 L641.57 193.88 L641.97 194.88 L642.37 195.88 L642.86 197.13 L643.25 198.13 L643.64 199.13 L644.03 200.13 L644.52 201.38 L644.90 202.38 L645.29 203.38 L645.66 204.38 L646.13 205.63 L646.49 206.63 L646.83 207.63 L647.17 208.63 L647.49 209.63 L647.87 210.88 L648.17 211.88 L648.46 212.88 L648.74 213.88 L649.08 215.13 L649.34 216.13 L649.59 217.13 L649.83 218.13 L650.12 219.38 L650.34 220.38 L650.56 221.38 L650.77 222.38 L650.97 223.38 L651.20 224.63 L651.38 225.63 L651.54 226.63 L651.70 227.63 L651.88 228.88 L652.02 229.88 L652.15 230.88 L652.28 231.88 L652.40 232.88 L652.53 234.13 L652.62 235.13 L652.70 236.13 L652.77 237.13 L652.84 238.38 L652.89 239.38 L652.94 240.38 L652.98 241.38 L653.04 242.63 L653.09 243.63 L653.14 244.63 L653.20 245.63 L653.26 246.63 L653.34 247.88 L653.41 248.88 L653.48 249.88 L653.56 250.88 L653.67 252.13 L653.77 253.13 L653.89 254.13 L654.03 255.13 L654.24 256.38 L654.44 257.38 L654.67 258.38 L654.90 259.38 L655.15 260.38 L655.45 261.63 L655.69 262.63 L655.91 263.63 L656.13 264.63 L656.38 265.88 L656.58 266.88 L656.78 267.88 L656.98 268.88 L657.23 270.13 L657.43 271.13 L657.63 272.13 L657.83 273.13 L658.03 274.13 L658.29 275.38 L658.50 276.38 L658.71 277.38 L658.91 278.38 L659.16 279.63 L659.34 280.63 L659.52 281.63 L659.70 282.63 L659.87 283.63 L660.09 284.88 L660.25 285.88 L660.41 286.88 L660.54 287.88 L660.68 289.13 L660.76 290.13 L660.82 291.13 L660.87 292.13 L660.91 293.38 L660.94 294.38 L660.96 295.38 L660.98 296.38 L660.99 297.38 L661.00 298.63 L660.99 299.63 L660.96 300.63 L660.89 301.63 L660.74 302.88 L660.58 303.88 L660.39 304.88 L660.17 305.88 L659.86 307.13 L659.58 308.13 L659.27 309.13 L658.94 310.13 L658.58 311.13 L658.09 312.38 L657.68 313.38 L657.26 314.38 L656.84 315.38 L656.32 316.63 L655.90 317.63 L655.48 318.63 L655.05 319.63 L654.50 320.88 L654.04 321.88 L653.57 322.88 L653.09 323.88 L652.60 324.88 L651.98 326.13 L651.49 327.13 L651.01 328.13 L650.57 329.13 L650.05 330.38 L649.65 331.38 L649.25 332.38 L648.86 333.38 L648.46 334.38 L647.97 335.63 L647.57 336.63 L647.16 337.63 L646.75 338.63 L646.24 339.88 L645.83 340.88 L645.43 341.88 L645.03 342.88 L644.55 344.13 L644.18 345.13 L643.81 346.13 L643.45 347.13 L643.10 348.13 L642.67 349.38 L642.33 350.38 L642.01 351.38 L641.70 352.38 L641.34 353.63 L641.07 354.63 L640.81 355.63 L640.56 356.63 L640.26 357.88 L640.03 358.88 L639.81 359.88 L639.61 360.88 L639.42 361.88 L639.20 363.13 L639.04 364.13 L638.88 365.13 L638.74 366.13 L638.57 367.38 L638.43 368.38 L638.30 369.38 L638.18 370.38 L638.09 371.63 L636.88 371.63 L636.79 370.38 L636.67 369.38 L636.54 368.38 L636.40 367.38 L636.23 366.13 L636.09 365.13 L635.93 364.13 L635.77 363.13 L635.55 361.88 L635.36 360.88 L635.16 359.88 L634.94 358.88 L634.71 357.88 L634.41 356.63 L634.16 355.63 L633.90 354.63 L633.63 353.63 L633.27 352.38 L632.96 351.38 L632.64 350.38 L632.30 349.38 L631.87 348.13 L631.52 347.13 L631.16 346.13 L630.79 345.13 L630.42 344.13 L629.94 342.88 L629.54 341.88 L629.14 340.88 L628.73 339.88 L628.22 338.63 L627.81 337.63 L627.40 336.63 L627.00 335.63 L626.51 334.38 L626.11 333.38 L625.72 332.38 L625.32 331.38 L624.92 330.38 L624.40 329.13 L623.96 328.13 L623.48 327.13 L622.99 326.13 L622.37 324.88 L621.88 323.88 L621.40 322.88 L620.93 321.88 L620.47 320.88 L619.92 319.63 L619.49 318.63 L619.07 317.63 L618.65 316.63 L618.13 315.38 L617.71 314.38 L617.29 313.38 L616.88 312.38 L616.39 311.13 L616.03 310.13 L615.70 309.13 L615.39 308.13 L615.11 307.13 L614.80 305.88 L614.58 304.88 L614.39 303.88 L614.23 302.88 L614.08 301.63 L614.01 300.63 L613.98 299.63 L613.97 298.63 L613.98 297.38 L613.99 296.38 L614.01 295.38 L614.03 294.38 L614.06 293.38 L614.10 292.13 L614.15 291.13 L614.21 290.13 L614.29 289.13 L614.43 287.88 L614.56 286.88 L614.72 285.88 L614.88 284.88 L615.10 283.63 L615.27 282.63 L615.45 281.63 L615.63 280.63 L615.81 279.63 L616.06 278.38 L616.26 277.38 L616.47 276.38 L616.68 275.38 L616.94 274.13 L617.14 273.13 L617.34 272.13 L617.54 271.13 L617.74 270.13 L617.99 268.88 L618.19 267.88 L618.39 266.88 L618.59 265.88 L618.84 264.63 L619.06 263.63 L619.28 262.63 L619.52 261.63 L619.82 260.38 L620.07 259.38 L620.30 258.38 L620.53 257.38 L620.73 256.38 L620.94 255.13 L621.08 254.13 L621.20 253.13 L621.30 252.13 L621.41 250.88 L621.49 249.88 L621.56 248.88 L621.63 247.88 L621.71 246.63 L621.77 245.63 L621.83 244.63 L621.88 243.63 L621.93 242.63 L621.99 241.38 L622.03 240.38 L622.08 239.38 L622.13 238.38 L622.20 237.13 L622.27 236.13 L622.35 235.13 L622.44 234.13 L622.57 232.88 L622.69 231.88 L622.81 230.88 L622.95 229.88 L623.09 228.88 L623.27 227.63 L623.43 226.63 L623.59 225.63 L623.77 224.63 L624.00 223.38 L624.20 222.38 L624.41 221.38 L624.63 220.38 L624.85 219.38 L625.14 218.13 L625.38 217.13 L625.63 216.13 L625.89 215.13 L626.23 213.88 L626.51 212.88 L626.80 211.88 L627.10 210.88 L627.48 209.63 L627.80 208.63 L628.14 207.63 L628.48 206.63 L628.84 205.63 L629.30 204.38 L629.68 203.38 L630.07 202.38 L630.45 201.38 L630.94 200.13 L631.33 199.13 L631.72 198.13 L632.11 197.13 L632.60 195.88 L633.00 194.88 L633.40 193.88 L633.80 192.88 L634.20 191.88 L634.67 190.63 L635.02 189.63 L635.35 188.63 L635.66 187.63 L636.02 186.38 L636.28 185.38 L636.53 184.38 L636.74 183.38 L636.88 182.38 Z" fill="#3a923a" stroke="#3d3d3d" stroke-width="0.7" stroke-opacity="0.8"/>
<line x1="637.48" y1="223.79" x2="637.48" y2="330.25" stroke="#3d3d3d" stroke-width="2.0"/>
<rect x="634.78" y="242.03" width="5.4" height="64.94" fill="#3d3d3d"/>
<circle cx="637.48" cy="285.81" r="2.6" fill="#fff"/>
<path d="M732.75 179.10 L732.76 179.85 L732.89 180.85 L733.09 181.85 L733.35 182.85 L733.64 183.85 L733.97 184.85 L734.35 185.85 L734.79 186.85 L735.28 187.85 L735.84 188.85 L736.42 189.85 L737.03 190.85 L737.65 191.85 L738.29 192.85 L738.94 193.85 L739.61 194.85 L740.30 195.85 L741.01 196.85 L741.74 197.85 L742.47 198.85 L743.20 199.85 L743.92 200.85 L744.62 201.85 L745.29 202.85 L745.94 203.85 L746.57 204.85 L747.19 205.85 L747.79 206.85 L748.37 207.85 L748.94 208.85 L749.49 209.85 L750.02 210.85 L750.52 211.85 L751.00 212.85 L751.47 213.85 L751.81 214.60 L752.25 215.60 L752.68 216.60 L753.09 217.60 L753.47 218.60 L753.83 219.60 L754.16 220.60 L754.47 221.60 L754.75 222.60 L755.01 223.60 L755.25 224.60 L755.48 225.60 L755.70 226.60 L755.91 227.60 L756.10 228.60 L756.29 229.60 L756.47 230.60 L756.65 231.60 L756.82 232.60 L756.98 233.60 L757.14 234.60 L757.29 235.60 L757.43 236.60 L757.57 237.60 L757.71 238.60 L757.84 239.60 L757.96 240.60 L758.08 241.60 L758.20 242.60 L758.31 243.60 L758.42 244.60 L758.53 245.60 L758.63 246.60 L758.74 247.60 L758.84 248.60 L758.93 249.60 L759.00 250.35 L759.09 251.35 L759.17 252.35 L759.26 253.35 L759.35 254.35 L759.43 255.35 L759.53 256.35 L759.63 257.35 L759.74 258.35 L759.86 259.35 L760.00 260.35 L760.14 261.35 L760.29 262.35 L760.44 263.35 L760.59 264.35 L760.73 265.35 L760.86 266.35 L760.98 267.35 L761.09 268.35 L761.19 269.35 L761.28 270.35 L761.37 271.35 L761.46 272.35 L761.54 273.35 L761.63 274.35 L761.71 275.35 L761.80 276.35 L761.90 277.35 L761.99 278.35 L762.09 279.35 L762.19 280.35 L762.29 281.35 L762.37 282.35 L762.43 283.35 L762.48 284.35 L762.50 285.35 L762.50 286.10 L762.48 287.10 L762.45 288.10 L762.40 289.10 L762.34 290.10 L762.27 291.10 L762.19 292.10 L762.10 293.10 L762.01 294.10 L761.90 295.10 L761.77 296.10 L761.62 297.10 L761.44 298.10 L761.25 299.10 L761.03 300.10 L760.80 301.10 L760.55 302.10 L760.29 303.10 L760.00 304.10 L759.69 305.10 L759.35 306.10 L758.99 307.10 L758.62 308.10 L758.23 309.10 L757.83 310.10 L757.42 311.10 L757.00 312.10 L756.56 313.10 L756.10 314.10 L755.62 315.10 L755.13 316.10 L754.62 317.10 L754.10 318.10 L753.56 319.10 L753.02 320.10 L752.46 321.10 L752.04 321.85 L751.47 322.85 L750.90 323.85 L750.33 324.85 L749.76 325.85 L749.18 326.85 L748.61 327.85 L748.04 328.85 L747.47 329.85 L746.90 330.85 L746.32 331.85 L745.74 332.85 L745.15 333.85 L744.56 334.85 L743.97 335.85 L743.38 336.85 L742.80 337.85 L742.22 338.85 L741.64 339.85 L741.07 340.85 L740.51 341.85 L739.96 342.85 L739.43 343.85 L738.92 344.85 L738.42 345.85 L737.94 346.85 L737.46 347.85 L737.01 348.85 L736.56 349.85 L736.13 350.85 L735.70 351.85 L735.26 352.85 L734.82 353.85 L734.31 354.85 L733.70 355.85 L732.94 356.85 L731.36 356.85 L730.60 355.85 L729.99 354.85 L729.48 353.85 L729.04 352.85 L728.60 351.85 L728.18 350.85 L727.74 349.85 L727.30 348.85 L726.84 347.85 L726.37 346.85 L725.88 345.85 L725.39 344.85 L724.87 343.85 L724.34 342.85 L723.79 341.85 L723.23 340.85 L722.66 339.85 L722.09 338.85 L721.50 337.85 L720.92 336.85 L720.33 335.85 L719.74 334.85 L719.15 333.85 L718.56 332.85 L717.98 331.85 L717.40 330.85 L716.83 329.85 L716.26 328.85 L715.69 327.85 L715.12 326.85 L714.55 325.85 L713.97 324.85 L713.40 323.85 L712.83 322.85 L712.26 321.85 L711.84 321.10 L711.28 320.10 L710.74 319.10 L710.20 318.10 L709.68 317.10 L709.17 316.10 L708.68 315.10 L708.20 314.10 L707.75 313.10 L707.31 312.10 L706.88 311.10 L706.47 310.10 L706.07 309.10 L705.69 308.10 L705.31 307.10 L704.95 306.10 L704.61 305.10 L704.30 304.10 L704.01 303.10 L703.75 302.10 L703.50 301.10 L703.27 300.10 L703.05 299.10 L702.86 298.10 L702.68 297.10 L702.53 296.10 L702.40 295.10 L702.30 294.10 L702.20 293.10 L702.11 292.10 L702.03 291.10 L701.96 290.10 L701.90 289.10 L701.86 288.10 L701.82 287.10 L701.81 286.10 L701.81 285.35 L701.83 284.35 L701.87 283.35 L701.93 282.35 L702.02 281.35 L702.11 280.35 L702.21 279.35 L702.31 278.35 L702.41 277.35 L702.50 276.35 L702.59 275.35 L702.67 274.35 L702.76 273.35 L702.84 272.35 L702.93 271.35 L703.02 270.35 L703.12 269.35 L703.22 268.35 L703.33 267.35 L703.45 266.35 L703.58 265.35 L703.72 264.35 L703.86 263.35 L704.01 262.35 L704.16 261.35 L704.30 260.35 L704.44 259.35 L704.56 258.35 L704.67 257.35 L704.77 256.35 L704.87 255.35 L704.96 254.35 L705.04 253.35 L705.13 252.35 L705.21 251.35 L705.30 250.35 L705.37 249.60 L705.47 248.60 L705.57 247.60 L705.67 246.60 L705.77 245.60 L705.88 244.60 L705.99 243.60 L706.10 242.60 L706.22 241.60 L706.34 240.60 L706.47 239.60 L706.60 238.60 L706.73 237.60 L706.87 236.60 L707.02 235.60 L707.17 234.60 L707.32 233.60 L707.48 232.60 L707.65 231.60 L707.83 230.60 L708.01 229.60 L708.20 228.60 L708.40 227.60 L708.60 226.60 L708.82 225.60 L709.05 224.60 L709.29 223.60 L709.55 222.60 L709.83 221.60 L710.14 220.60 L710.47 219.60 L710.83 218.60 L711.22 217.60 L711.62 216.60 L712.05 215.60 L712.49 214.60 L712.83 213.85 L713.30 212.85 L713.78 211.85 L714.29 210.85 L714.81 209.85 L715.36 208.85 L715.93 207.85 L716.52 206.85 L717.12 205.85 L717.73 204.85 L718.36 203.85 L719.01 202.85 L719.69 201.85 L720.38 200.85 L721.10 199.85 L721.83 198.85 L722.56 197.85 L723.29 196.85 L724.00 195.85 L724.69 194.85 L725.36 193.85 L726.01 192.85 L726.65 191.85 L727.27 190.85 L727.88 189.85 L728.47 188.85 L729.02 187.85 L729.52 186.85 L729.95 185.85 L730.33 184.85 L730.66 183.85 L730.95 182.85 L731.21 181.85 L731.41 180.85 L731.54 179.85 L731.55 179.10 Z" fill="#3274a1" stroke="#3d3d3d" stroke-width="0.7" stroke-opacity="0.8"/>
<line x1="732.15" y1="219.78" x2="732.15" y2="316.82" stroke="#3d3d3d" stroke-width="2.0"/>
<rect x="729.45" y="234.01" width="5.4" height="66.03" fill="#3d3d3d"/>
<circle cx="732.15" cy="273.59" r="2.6" fill="#fff"/>
<path d="M826.60 219.23 L826.69 220.23 L826.80 221.23 L826.93 222.23 L827.06 223.23 L827.19 224.23 L827.35 225.48 L827.48 226.48 L827.62 227.48 L827.76 228.48 L827.91 229.48 L828.06 230.48 L828.26 231.73 L828.42 232.73 L828.59 233.73 L828.76 234.73 L828.94 235.73 L829.16 236.98 L829.34 237.98 L829.53 238.98 L829.73 239.98 L829.93 240.98 L830.13 241.98 L830.39 243.23 L830.61 244.23 L830.83 245.23 L831.05 246.23 L831.28 247.23 L831.58 248.48 L831.83 249.48 L832.08 250.48 L832.34 251.48 L832.60 252.48 L832.87 253.48 L833.20 254.73 L833.48 255.73 L833.76 256.73 L834.04 257.73 L834.33 258.73 L834.62 259.73 L834.99 260.98 L835.29 261.98 L835.59 262.98 L835.89 263.98 L836.19 264.98 L836.57 266.23 L836.87 267.23 L837.18 268.23 L837.49 269.23 L837.81 270.23 L838.13 271.23 L838.53 272.48 L838.86 273.48 L839.20 274.48 L839.54 275.48 L839.89 276.48 L840.33 277.73 L840.69 278.73 L841.06 279.73 L841.44 280.73 L841.84 281.73 L842.24 282.73 L842.74 283.98 L843.13 284.98 L843.50 285.98 L843.87 286.98 L844.23 287.98 L844.57 288.98 L844.99 290.23 L845.32 291.23 L845.64 292.23 L845.96 293.23 L846.28 294.23 L846.66 295.48 L846.96 296.48 L847.25 297.48 L847.53 298.48 L847.79 299.48 L848.04 300.48 L848.33 301.73 L848.55 302.73 L848.76 303.73 L848.96 304.73 L849.17 305.73 L849.45 306.98 L849.68 307.98 L849.94 308.98 L850.21 309.98 L850.50 310.98 L850.80 311.98 L851.20 313.23 L851.53 314.23 L851.88 315.23 L852.24 316.23 L852.61 317.23 L853.00 318.23 L853.52 319.48 L853.97 320.48 L854.45 321.48 L854.95 322.48 L855.47 323.48 L856.13 324.73 L856.65 325.73 L857.15 326.73 L857.62 327.73 L858.05 328.73 L858.46 329.73 L858.94 330.98 L859.31 331.98 L859.67 332.98 L860.00 333.98 L860.32 334.98 L860.69 336.23 L860.96 337.23 L861.23 338.23 L861.49 339.23 L861.73 340.23 L861.96 341.23 L862.21 342.48 L862.39 343.48 L862.55 344.48 L862.69 345.48 L862.81 346.48 L862.91 347.48 L863.01 348.73 L863.06 349.73 L863.06 350.73 L863.01 351.73 L862.92 352.73 L862.73 353.98 L862.53 354.98 L862.29 355.98 L862.00 356.98 L861.64 357.98 L861.22 358.98 L860.61 360.23 L860.08 361.23 L859.52 362.23 L858.95 363.23 L858.35 364.23 L857.58 365.48 L856.93 366.48 L856.25 367.48 L855.54 368.48 L854.81 369.48 L854.06 370.48 L853.09 371.73 L852.29 372.73 L851.47 373.73 L850.61 374.73 L849.73 375.73 L848.83 376.73 L847.68 377.98 L846.75 378.98 L845.82 379.98 L844.90 380.98 L843.98 381.98 L842.82 383.23 L841.90 384.23 L840.97 385.23 L840.04 386.23 L839.13 387.23 L838.24 388.23 L837.16 389.48 L836.34 390.48 L835.54 391.48 L834.77 392.48 L834.02 393.48 L833.11 394.73 L832.40 395.73 L831.72 396.73 L831.06 397.73 L830.43 398.73 L829.83 399.73 L829.12 400.98 L828.59 401.98 L828.08 402.98 L827.59 403.98 L827.13 404.98 L826.63 406.23 L825.37 406.23 L824.88 404.98 L824.42 403.98 L823.93 402.98 L823.42 401.98 L822.89 400.98 L822.18 399.73 L821.58 398.73 L820.95 397.73 L820.29 396.73 L819.61 395.73 L818.90 394.73 L817.99 393.48 L817.24 392.48 L816.47 391.48 L815.67 390.48 L814.84 389.48 L813.77 388.23 L812.88 387.23 L811.96 386.23 L811.04 385.23 L810.11 384.23 L809.18 383.23 L808.03 381.98 L807.11 380.98 L806.19 379.98 L805.26 378.98 L804.33 377.98 L803.18 376.73 L802.27 375.73 L801.39 374.73 L800.54 373.73 L799.72 372.73 L798.92 371.73 L797.95 370.48 L797.20 369.48 L796.47 368.48 L795.76 367.48 L795.08 366.48 L794.43 365.48 L793.65 364.23 L793.06 363.23 L792.49 362.23 L791.93 361.23 L791.40 360.23 L790.79 358.98 L790.37 357.98 L790.01 356.98 L789.72 355.98 L789.48 354.98 L789.28 353.98 L789.09 352.73 L788.99 351.73 L788.95 350.73 L788.95 349.73 L789.00 348.73 L789.10 347.48 L789.20 346.48 L789.32 345.48 L789.46 344.48 L789.62 343.48 L789.80 342.48 L790.05 341.23 L790.28 340.23 L790.52 339.23 L790.78 338.23 L791.04 337.23 L791.32 336.23 L791.69 334.98 L792.01 333.98 L792.34 332.98 L792.69 331.98 L793.06 330.98 L793.55 329.73 L793.95 328.73 L794.39 327.73 L794.86 326.73 L795.36 325.73 L795.88 324.73 L796.54 323.48 L797.06 322.48 L797.56 321.48 L798.04 320.48 L798.48 319.48 L799.00 318.23 L799.39 317.23 L799.77 316.23 L800.13 315.23 L800.47 314.23 L800.81 313.23 L801.21 311.98 L801.51 310.98 L801.80 309.98 L802.07 308.98 L802.32 307.98 L802.56 306.98 L802.83 305.73 L803.04 304.73 L803.25 303.73 L803.46 302.73 L803.68 301.73 L803.97 300.48 L804.22 299.48 L804.48 298.48 L804.76 297.48 L805.05 296.48 L805.35 295.48 L805.73 294.23 L806.05 293.23 L806.36 292.23 L806.69 291.23 L807.01 290.23 L807.43 288.98 L807.78 287.98 L808.14 286.98 L808.50 285.98 L808.88 284.98 L809.27 283.98 L809.76 282.73 L810.17 281.73 L810.56 280.73 L810.95 279.73 L811.32 278.73 L811.68 277.73 L812.12 276.48 L812.47 275.48 L812.81 274.48 L813.14 273.48 L813.48 272.48 L813.88 271.23 L814.20 270.23 L814.51 269.23 L814.83 268.23 L815.13 267.23 L815.44 266.23 L815.82 264.98 L816.12 263.98 L816.42 262.98 L816.72 261.98 L817.01 260.98 L817.38 259.73 L817.68 258.73 L817.97 257.73 L818.25 256.73 L818.53 255.73 L818.80 254.73 L819.14 253.48 L819.41 252.48 L819.67 251.48 L819.92 250.48 L820.18 249.48 L820.42 248.48 L820.72 247.23 L820.96 246.23 L821.18 245.23 L821.40 244.23 L821.62 243.23 L821.88 241.98 L822.08 240.98 L822.28 239.98 L822.47 238.98 L822.66 237.98 L822.85 236.98 L823.07 235.73 L823.25 234.73 L823.42 233.73 L823.58 232.73 L823.75 231.73 L823.94 230.48 L824.10 229.48 L824.25 228.48 L824.39 227.48 L824.53 226.48 L824.66 225.48 L824.82 224.23 L824.95 223.23 L825.07 222.23 L825.20 221.23 L825.32 220.23 L825.40 219.23 Z" fill="#e1812c" stroke="#3d3d3d" stroke-width="0.7" stroke-opacity="0.8"/>
<line x1="826.00" y1="258.09" x2="826.00" y2="368.01" stroke="#3d3d3d" stroke-width="2.0"/>
<rect x="823.30" y="300.52" width="5.4" height="54.72" fill="#3d3d3d"/>
<circle cx="826.00" cy="339.19" r="2.6" fill="#fff"/>
<path d="M919.91 223.06 L919.91 223.81 L920.01 224.81 L920.17 225.81 L920.37 226.81 L920.59 227.81 L920.84 228.81 L921.12 229.81 L921.44 230.81 L921.80 231.81 L922.20 232.81 L922.62 233.81 L923.06 234.81 L923.51 235.81 L923.97 236.81 L924.44 237.81 L924.93 238.81 L925.42 239.81 L925.92 240.81 L926.44 241.81 L926.98 242.81 L927.52 243.81 L928.07 244.81 L928.64 245.81 L929.21 246.81 L929.78 247.81 L930.36 248.81 L930.94 249.81 L931.54 250.81 L932.15 251.81 L932.76 252.81 L933.37 253.81 L933.98 254.81 L934.58 255.81 L935.17 256.81 L935.74 257.81 L936.17 258.56 L936.73 259.56 L937.28 260.56 L937.83 261.56 L938.36 262.56 L938.87 263.56 L939.37 264.56 L939.83 265.56 L940.27 266.56 L940.67 267.56 L941.05 268.56 L941.42 269.56 L941.76 270.56 L942.09 271.56 L942.40 272.56 L942.68 273.56 L942.95 274.56 L943.19 275.56 L943.42 276.56 L943.62 277.56 L943.81 278.56 L944.00 279.56 L944.18 280.56 L944.35 281.56 L944.52 282.56 L944.66 283.56 L944.78 284.56 L944.89 285.56 L944.98 286.56 L945.06 287.56 L945.14 288.56 L945.22 289.56 L945.30 290.56 L945.39 291.56 L945.48 292.56 L945.58 293.56 L945.65 294.31 L945.76 295.31 L945.87 296.31 L945.98 297.31 L946.10 298.31 L946.21 299.31 L946.31 300.31 L946.42 301.31 L946.53 302.31 L946.64 303.31 L946.75 304.31 L946.86 305.31 L946.97 306.31 L947.08 307.31 L947.20 308.31 L947.31 309.31 L947.43 310.31 L947.54 311.31 L947.66 312.31 L947.78 313.31 L947.90 314.31 L948.01 315.31 L948.13 316.31 L948.25 317.31 L948.36 318.31 L948.47 319.31 L948.58 320.31 L948.69 321.31 L948.79 322.31 L948.88 323.31 L948.98 324.31 L949.06 325.31 L949.13 326.31 L949.19 327.31 L949.24 328.31 L949.27 329.31 L949.30 330.06 L949.31 331.06 L949.32 332.06 L949.31 333.06 L949.28 334.06 L949.25 335.06 L949.21 336.06 L949.14 337.06 L949.06 338.06 L948.95 339.06 L948.82 340.06 L948.66 341.06 L948.48 342.06 L948.29 343.06 L948.08 344.06 L947.85 345.06 L947.59 346.06 L947.29 347.06 L946.94 348.06 L946.56 349.06 L946.14 350.06 L945.70 351.06 L945.25 352.06 L944.79 353.06 L944.33 354.06 L943.86 355.06 L943.39 356.06 L942.91 357.06 L942.41 358.06 L941.91 359.06 L941.39 360.06 L940.85 361.06 L940.31 362.06 L939.76 363.06 L939.19 364.06 L938.60 365.06 L938.15 365.81 L937.53 366.81 L936.90 367.81 L936.27 368.81 L935.64 369.81 L935.00 370.81 L934.38 371.81 L933.76 372.81 L933.14 373.81 L932.52 374.81 L931.91 375.81 L931.29 376.81 L930.69 377.81 L930.09 378.81 L929.51 379.81 L928.93 380.81 L928.37 381.81 L927.83 382.81 L927.29 383.81 L926.75 384.81 L926.23 385.81 L925.73 386.81 L925.24 387.81 L924.77 388.81 L924.32 389.81 L923.89 390.81 L923.49 391.81 L923.10 392.81 L922.73 393.81 L922.37 394.81 L922.03 395.81 L921.69 396.81 L921.35 397.81 L920.97 398.81 L920.51 399.81 L919.93 400.81 L918.69 400.81 L918.11 399.81 L917.65 398.81 L917.26 397.81 L916.93 396.81 L916.59 395.81 L916.24 394.81 L915.89 393.81 L915.52 392.81 L915.13 391.81 L914.73 390.81 L914.30 389.81 L913.85 388.81 L913.38 387.81 L912.89 386.81 L912.38 385.81 L911.86 384.81 L911.33 383.81 L910.79 382.81 L910.24 381.81 L909.68 380.81 L909.11 379.81 L908.53 378.81 L907.93 377.81 L907.32 376.81 L906.71 375.81 L906.10 374.81 L905.48 373.81 L904.86 372.81 L904.24 371.81 L903.61 370.81 L902.98 369.81 L902.35 368.81 L901.71 367.81 L901.09 366.81 L900.47 365.81 L900.02 365.06 L899.43 364.06 L898.86 363.06 L898.31 362.06 L897.76 361.06 L897.23 360.06 L896.71 359.06 L896.20 358.06 L895.71 357.06 L895.23 356.06 L894.75 355.06 L894.29 354.06 L893.83 353.06 L893.37 352.06 L892.92 351.06 L892.48 350.06 L892.06 349.06 L891.67 348.06 L891.33 347.06 L891.03 346.06 L890.76 345.06 L890.53 344.06 L890.32 343.06 L890.13 342.06 L889.96 341.06 L889.80 340.06 L889.67 339.06 L889.56 338.06 L889.47 337.06 L889.41 336.06 L889.37 335.06 L889.33 334.06 L889.31 333.06 L889.30 332.06 L889.30 331.06 L889.32 330.06 L889.34 329.31 L889.38 328.31 L889.43 327.31 L889.49 326.31 L889.56 325.31 L889.64 324.31 L889.73 323.31 L889.83 322.31 L889.93 321.31 L890.04 320.31 L890.15 319.31 L890.26 318.31 L890.37 317.31 L890.49 316.31 L890.60 315.31 L890.72 314.31 L890.84 313.31 L890.96 312.31 L891.08 311.31 L891.19 310.31 L891.31 309.31 L891.42 308.31 L891.53 307.31 L891.64 306.31 L891.76 305.31 L891.87 304.31 L891.98 303.31 L892.09 302.31 L892.19 301.31 L892.30 300.31 L892.41 299.31 L892.52 298.31 L892.63 297.31 L892.75 296.31 L892.86 295.31 L892.96 294.31 L893.04 293.56 L893.14 292.56 L893.23 291.56 L893.31 290.56 L893.39 289.56 L893.47 288.56 L893.55 287.56 L893.64 286.56 L893.73 285.56 L893.84 284.56 L893.96 283.56 L894.10 282.56 L894.27 281.56 L894.44 280.56 L894.62 279.56 L894.80 278.56 L895.00 277.56 L895.20 276.56 L895.42 275.56 L895.67 274.56 L895.94 273.56 L896.22 272.56 L896.53 271.56 L896.86 270.56 L897.20 269.56 L897.56 268.56 L897.95 267.56 L898.35 266.56 L898.79 265.56 L899.25 264.56 L899.74 263.56 L900.26 262.56 L900.79 261.56 L901.34 260.56 L901.89 259.56 L902.45 258.56 L902.87 257.81 L903.45 256.81 L904.04 255.81 L904.64 254.81 L905.25 253.81 L905.86 252.81 L906.47 251.81 L907.08 250.81 L907.67 249.81 L908.26 248.81 L908.84 247.81 L909.41 246.81 L909.98 245.81 L910.54 244.81 L911.10 243.81 L911.64 242.81 L912.17 241.81 L912.69 240.81 L913.20 239.81 L913.69 238.81 L914.17 237.81 L914.65 236.81 L915.11 235.81 L915.56 234.81 L916.00 233.81 L916.42 232.81 L916.82 231.81 L917.18 230.81 L917.50 229.81 L917.78 228.81 L918.02 227.81 L918.25 226.81 L918.45 225.81 L918.61 224.81 L918.71 223.81 L918.71 223.06 Z" fill="#3a923a" stroke="#3d3d3d" stroke-width="0.7" stroke-opacity="0.8"/>
<line x1="919.31" y1="264.11" x2="919.31" y2="361.62" stroke="#3d3d3d" stroke-width="2.0"/>
<rect x="916.61" y="277.24" width="5.4" height="67.42" fill="#3d3d3d"/>
<circle cx="919.31" cy="318.39" r="2.6" fill="#fff"/>
<path d="M1014.12 187.31 L1014.19 188.31 L1014.32 189.31 L1014.46 190.31 L1014.61 191.31 L1014.80 192.56 L1014.97 193.56 L1015.15 194.56 L1015.34 195.56 L1015.58 196.81 L1015.78 197.81 L1015.98 198.81 L1016.18 199.81 L1016.38 200.81 L1016.63 202.06 L1016.83 203.06 L1017.03 204.06 L1017.24 205.06 L1017.50 206.31 L1017.71 207.31 L1017.91 208.31 L1018.11 209.31 L1018.35 210.56 L1018.54 211.56 L1018.72 212.56 L1018.89 213.56 L1019.05 214.56 L1019.25 215.81 L1019.40 216.81 L1019.54 217.81 L1019.69 218.81 L1019.87 220.06 L1020.00 221.06 L1020.14 222.06 L1020.27 223.06 L1020.43 224.31 L1020.56 225.31 L1020.68 226.31 L1020.81 227.31 L1020.94 228.31 L1021.11 229.56 L1021.25 230.56 L1021.40 231.56 L1021.55 232.56 L1021.75 233.81 L1021.92 234.81 L1022.10 235.81 L1022.28 236.81 L1022.48 237.81 L1022.75 239.06 L1022.99 240.06 L1023.25 241.06 L1023.54 242.06 L1023.93 243.31 L1024.27 244.31 L1024.62 245.31 L1024.99 246.31 L1025.47 247.56 L1025.87 248.56 L1026.28 249.56 L1026.70 250.56 L1027.15 251.56 L1027.73 252.81 L1028.21 253.81 L1028.68 254.81 L1029.16 255.81 L1029.73 257.06 L1030.18 258.06 L1030.62 259.06 L1031.05 260.06 L1031.57 261.31 L1031.99 262.31 L1032.39 263.31 L1032.78 264.31 L1033.16 265.31 L1033.62 266.56 L1033.96 267.56 L1034.30 268.56 L1034.63 269.56 L1035.02 270.81 L1035.32 271.81 L1035.61 272.81 L1035.88 273.81 L1036.19 275.06 L1036.42 276.06 L1036.64 277.06 L1036.84 278.06 L1037.02 279.06 L1037.24 280.31 L1037.41 281.31 L1037.56 282.31 L1037.70 283.31 L1037.85 284.56 L1037.96 285.56 L1038.07 286.56 L1038.16 287.56 L1038.26 288.56 L1038.36 289.81 L1038.44 290.81 L1038.50 291.81 L1038.54 292.81 L1038.57 294.06 L1038.58 295.06 L1038.58 296.06 L1038.56 297.06 L1038.53 298.31 L1038.50 299.31 L1038.47 300.31 L1038.43 301.31 L1038.38 302.31 L1038.32 303.56 L1038.27 304.56 L1038.21 305.56 L1038.13 306.56 L1038.01 307.81 L1037.89 308.81 L1037.74 309.81 L1037.57 310.81 L1037.35 312.06 L1037.17 313.06 L1036.97 314.06 L1036.76 315.06 L1036.54 316.06 L1036.25 317.31 L1036.02 318.31 L1035.78 319.31 L1035.52 320.31 L1035.19 321.56 L1034.91 322.56 L1034.62 323.56 L1034.30 324.56 L1033.87 325.81 L1033.51 326.81 L1033.11 327.81 L1032.69 328.81 L1032.25 329.81 L1031.66 331.06 L1031.22 332.06 L1030.81 333.06 L1030.42 334.06 L1029.95 335.31 L1029.55 336.31 L1029.14 337.31 L1028.71 338.31 L1028.27 339.31 L1027.70 340.56 L1027.24 341.56 L1026.77 342.56 L1026.31 343.56 L1025.74 344.81 L1025.29 345.81 L1024.84 346.81 L1024.39 347.81 L1023.84 349.06 L1023.39 350.06 L1022.95 351.06 L1022.52 352.06 L1022.09 353.06 L1021.55 354.31 L1021.13 355.31 L1020.71 356.31 L1020.30 357.31 L1019.78 358.56 L1019.38 359.56 L1018.98 360.56 L1018.60 361.56 L1018.14 362.81 L1017.78 363.81 L1017.44 364.81 L1017.10 365.81 L1016.77 366.81 L1016.38 368.06 L1016.07 369.06 L1015.78 370.06 L1015.49 371.06 L1015.15 372.31 L1014.88 373.31 L1014.63 374.31 L1014.38 375.31 L1014.12 376.56 L1012.91 376.56 L1012.65 375.31 L1012.41 374.31 L1012.15 373.31 L1011.88 372.31 L1011.54 371.06 L1011.25 370.06 L1010.96 369.06 L1010.65 368.06 L1010.26 366.81 L1009.93 365.81 L1009.60 364.81 L1009.25 363.81 L1008.90 362.81 L1008.43 361.56 L1008.05 360.56 L1007.65 359.56 L1007.25 358.56 L1006.74 357.31 L1006.32 356.31 L1005.90 355.31 L1005.48 354.31 L1004.95 353.06 L1004.51 352.06 L1004.08 351.06 L1003.64 350.06 L1003.20 349.06 L1002.64 347.81 L1002.19 346.81 L1001.74 345.81 L1001.29 344.81 L1000.72 343.56 L1000.26 342.56 L999.79 341.56 L999.33 340.56 L998.76 339.31 L998.32 338.31 L997.89 337.31 L997.48 336.31 L997.09 335.31 L996.61 334.06 L996.22 333.06 L995.81 332.06 L995.37 331.06 L994.79 329.81 L994.34 328.81 L993.92 327.81 L993.53 326.81 L993.16 325.81 L992.73 324.56 L992.42 323.56 L992.12 322.56 L991.84 321.56 L991.51 320.31 L991.26 319.31 L991.01 318.31 L990.78 317.31 L990.50 316.06 L990.28 315.06 L990.07 314.06 L989.87 313.06 L989.68 312.06 L989.46 310.81 L989.29 309.81 L989.15 308.81 L989.02 307.81 L988.90 306.56 L988.82 305.56 L988.76 304.56 L988.71 303.56 L988.65 302.31 L988.61 301.31 L988.57 300.31 L988.53 299.31 L988.50 298.31 L988.47 297.06 L988.45 296.06 L988.45 295.06 L988.46 294.06 L988.49 292.81 L988.54 291.81 L988.60 290.81 L988.67 289.81 L988.78 288.56 L988.87 287.56 L988.97 286.56 L989.07 285.56 L989.18 284.56 L989.33 283.31 L989.47 282.31 L989.62 281.31 L989.79 280.31 L990.01 279.06 L990.20 278.06 L990.40 277.06 L990.61 276.06 L990.84 275.06 L991.15 273.81 L991.42 272.81 L991.71 271.81 L992.01 270.81 L992.41 269.56 L992.73 268.56 L993.07 267.56 L993.42 266.56 L993.87 265.31 L994.25 264.31 L994.64 263.31 L995.05 262.31 L995.46 261.31 L995.99 260.06 L996.41 259.06 L996.85 258.06 L997.30 257.06 L997.87 255.81 L998.35 254.81 L998.82 253.81 L999.30 252.81 L999.88 251.56 L1000.33 250.56 L1000.76 249.56 L1001.17 248.56 L1001.56 247.56 L1002.04 246.31 L1002.41 245.31 L1002.76 244.31 L1003.10 243.31 L1003.49 242.06 L1003.78 241.06 L1004.04 240.06 L1004.28 239.06 L1004.55 237.81 L1004.75 236.81 L1004.93 235.81 L1005.11 234.81 L1005.28 233.81 L1005.48 232.56 L1005.63 231.56 L1005.78 230.56 L1005.92 229.56 L1006.09 228.31 L1006.22 227.31 L1006.35 226.31 L1006.47 225.31 L1006.60 224.31 L1006.76 223.06 L1006.89 222.06 L1007.03 221.06 L1007.17 220.06 L1007.34 218.81 L1007.49 217.81 L1007.64 216.81 L1007.79 215.81 L1007.98 214.56 L1008.14 213.56 L1008.31 212.56 L1008.49 211.56 L1008.68 210.56 L1008.92 209.31 L1009.12 208.31 L1009.33 207.31 L1009.53 206.31 L1009.79 205.06 L1010.00 204.06 L1010.20 203.06 L1010.40 202.06 L1010.65 200.81 L1010.85 199.81 L1011.05 198.81 L1011.25 197.81 L1011.45 196.81 L1011.70 195.56 L1011.88 194.56 L1012.06 193.56 L1012.23 192.56 L1012.42 191.31 L1012.57 190.31 L1012.72 189.31 L1012.84 188.31 L1012.92 187.31 Z" fill="#3274a1" stroke="#3d3d3d" stroke-width="0.7" stroke-opacity="0.8"/>
<line x1="1013.52" y1="227.62" x2="1013.52" y2="338.28" stroke="#3d3d3d" stroke-width="2.0"/>
<rect x="1010.82" y="272.13" width="5.4" height="47.98" fill="#3d3d3d"/>
<circle cx="1013.52" cy="296.03" r="2.6" fill="#fff"/>
<path d="M1107.60 232.18 L1107.67 232.93 L1107.79 233.93 L1107.90 234.68 L1108.04 235.68 L1108.15 236.43 L1108.29 237.43 L1108.44 238.43 L1108.55 239.18 L1108.71 240.18 L1108.83 240.93 L1108.99 241.93 L1109.12 242.68 L1109.29 243.68 L1109.46 244.68 L1109.59 245.43 L1109.76 246.43 L1109.89 247.18 L1110.06 248.18 L1110.23 249.18 L1110.37 249.93 L1110.54 250.93 L1110.67 251.68 L1110.85 252.68 L1110.99 253.43 L1111.17 254.43 L1111.35 255.43 L1111.49 256.18 L1111.67 257.18 L1111.82 257.93 L1112.02 258.93 L1112.23 259.93 L1112.39 260.68 L1112.61 261.68 L1112.77 262.43 L1112.98 263.43 L1113.13 264.18 L1113.32 265.18 L1113.49 266.18 L1113.60 266.93 L1113.73 267.93 L1113.81 268.68 L1113.91 269.68 L1113.98 270.43 L1114.07 271.43 L1114.15 272.43 L1114.21 273.18 L1114.30 274.18 L1114.36 274.93 L1114.45 275.93 L1114.54 276.93 L1114.62 277.68 L1114.71 278.68 L1114.79 279.43 L1114.89 280.43 L1114.97 281.18 L1115.08 282.18 L1115.20 283.18 L1115.29 283.93 L1115.43 284.93 L1115.53 285.68 L1115.68 286.68 L1115.84 287.68 L1115.97 288.43 L1116.15 289.43 L1116.30 290.18 L1116.50 291.18 L1116.67 291.93 L1116.91 292.93 L1117.17 293.93 L1117.39 294.68 L1117.71 295.68 L1117.98 296.43 L1118.37 297.43 L1118.69 298.18 L1119.15 299.18 L1119.63 300.18 L1120.00 300.93 L1120.51 301.93 L1120.90 302.68 L1121.42 303.68 L1121.96 304.68 L1122.38 305.43 L1122.98 306.43 L1123.47 307.18 L1124.19 308.18 L1124.79 308.93 L1125.62 309.93 L1126.47 310.93 L1127.09 311.68 L1127.91 312.68 L1128.52 313.43 L1129.30 314.43 L1130.06 315.43 L1130.61 316.18 L1131.32 317.18 L1131.83 317.93 L1132.50 318.93 L1133.00 319.68 L1133.64 320.68 L1134.28 321.68 L1134.75 322.43 L1135.37 323.43 L1135.84 324.18 L1136.46 325.18 L1137.09 326.18 L1137.57 326.93 L1138.19 327.93 L1138.65 328.68 L1139.26 329.68 L1139.71 330.43 L1140.27 331.43 L1140.77 332.43 L1141.10 333.18 L1141.48 334.18 L1141.74 334.93 L1142.06 335.93 L1142.29 336.68 L1142.59 337.68 L1142.88 338.68 L1143.09 339.43 L1143.36 340.43 L1143.54 341.18 L1143.75 342.18 L1143.91 343.18 L1143.99 343.93 L1144.06 344.93 L1144.08 345.68 L1144.06 346.68 L1144.03 347.43 L1143.96 348.43 L1143.86 349.43 L1143.76 350.18 L1143.56 351.18 L1143.36 351.93 L1143.02 352.93 L1142.59 353.93 L1142.22 354.68 L1141.70 355.68 L1141.27 356.43 L1140.66 357.43 L1140.16 358.18 L1139.45 359.18 L1138.69 360.18 L1138.10 360.93 L1137.27 361.93 L1136.64 362.68 L1135.77 363.68 L1135.10 364.43 L1134.18 365.43 L1133.22 366.43 L1132.48 367.18 L1131.47 368.18 L1130.70 368.93 L1129.66 369.93 L1128.61 370.93 L1127.82 371.68 L1126.74 372.68 L1125.93 373.43 L1124.83 374.43 L1123.99 375.18 L1122.85 376.18 L1121.72 377.18 L1120.87 377.93 L1119.75 378.93 L1118.92 379.68 L1117.85 380.68 L1116.81 381.68 L1116.05 382.43 L1115.07 383.43 L1114.35 384.18 L1113.41 385.18 L1112.72 385.93 L1111.83 386.93 L1110.98 387.93 L1110.36 388.68 L1109.58 389.68 L1109.03 390.43 L1108.34 391.43 L1107.72 392.43 L1106.29 392.43 L1105.67 391.43 L1104.98 390.43 L1104.42 389.68 L1103.64 388.68 L1103.03 387.93 L1102.18 386.93 L1101.29 385.93 L1100.60 385.18 L1099.66 384.18 L1098.94 383.43 L1097.95 382.43 L1097.20 381.68 L1096.16 380.68 L1095.09 379.68 L1094.26 378.93 L1093.14 377.93 L1092.29 377.18 L1091.15 376.18 L1090.02 375.18 L1089.18 374.43 L1088.08 373.43 L1087.26 372.68 L1086.19 371.68 L1085.40 370.93 L1084.35 369.93 L1083.30 368.93 L1082.53 368.18 L1081.53 367.18 L1080.79 366.43 L1079.83 365.43 L1078.91 364.43 L1078.24 363.68 L1077.37 362.68 L1076.73 361.93 L1075.91 360.93 L1075.31 360.18 L1074.55 359.18 L1073.85 358.18 L1073.35 357.43 L1072.74 356.43 L1072.31 355.68 L1071.78 354.68 L1071.42 353.93 L1070.99 352.93 L1070.65 351.93 L1070.45 351.18 L1070.25 350.18 L1070.15 349.43 L1070.05 348.43 L1069.98 347.43 L1069.95 346.68 L1069.93 345.68 L1069.95 344.93 L1070.01 343.93 L1070.10 343.18 L1070.26 342.18 L1070.47 341.18 L1070.65 340.43 L1070.92 339.43 L1071.13 338.68 L1071.42 337.68 L1071.72 336.68 L1071.95 335.93 L1072.27 334.93 L1072.53 334.18 L1072.91 333.18 L1073.24 332.43 L1073.74 331.43 L1074.30 330.43 L1074.75 329.68 L1075.36 328.68 L1075.82 327.93 L1076.44 326.93 L1076.91 326.18 L1077.54 325.18 L1078.17 324.18 L1078.64 323.43 L1079.26 322.43 L1079.73 321.68 L1080.36 320.68 L1081.01 319.68 L1081.51 318.93 L1082.18 317.93 L1082.69 317.18 L1083.40 316.18 L1083.95 315.43 L1084.71 314.43 L1085.49 313.43 L1086.09 312.68 L1086.91 311.68 L1087.54 310.93 L1088.38 309.93 L1089.22 308.93 L1089.82 308.18 L1090.54 307.18 L1091.03 306.43 L1091.62 305.43 L1092.04 304.68 L1092.58 303.68 L1093.11 302.68 L1093.50 301.93 L1094.01 300.93 L1094.38 300.18 L1094.86 299.18 L1095.32 298.18 L1095.64 297.43 L1096.03 296.43 L1096.30 295.68 L1096.62 294.68 L1096.84 293.93 L1097.10 292.93 L1097.34 291.93 L1097.50 291.18 L1097.71 290.18 L1097.86 289.43 L1098.04 288.43 L1098.17 287.68 L1098.33 286.68 L1098.48 285.68 L1098.58 284.93 L1098.71 283.93 L1098.81 283.18 L1098.92 282.18 L1099.04 281.18 L1099.11 280.43 L1099.22 279.43 L1099.29 278.68 L1099.39 277.68 L1099.46 276.93 L1099.56 275.93 L1099.65 274.93 L1099.71 274.18 L1099.79 273.18 L1099.85 272.43 L1099.94 271.43 L1100.02 270.43 L1100.09 269.68 L1100.19 268.68 L1100.28 267.93 L1100.41 266.93 L1100.52 266.18 L1100.69 265.18 L1100.87 264.18 L1101.03 263.43 L1101.24 262.43 L1101.40 261.68 L1101.62 260.68 L1101.78 259.93 L1101.99 258.93 L1102.19 257.93 L1102.33 257.18 L1102.52 256.18 L1102.66 255.43 L1102.84 254.43 L1103.02 253.43 L1103.16 252.68 L1103.33 251.68 L1103.47 250.93 L1103.64 249.93 L1103.77 249.18 L1103.95 248.18 L1104.12 247.18 L1104.25 246.43 L1104.42 245.43 L1104.55 244.68 L1104.72 243.68 L1104.89 242.68 L1105.01 241.93 L1105.18 240.93 L1105.30 240.18 L1105.45 239.18 L1105.57 238.43 L1105.72 237.43 L1105.86 236.43 L1105.97 235.68 L1106.11 234.68 L1106.21 233.93 L1106.34 232.93 L1106.40 232.18 Z" fill="#e1812c" stroke="#3d3d3d" stroke-width="0.7" stroke-opacity="0.8"/>
<line x1="1107.00" y1="274.50" x2="1107.00" y2="359.80" stroke="#3d3d3d" stroke-width="2.0"/>
<rect x="1104.30" y="317.85" width="5.4" height="34.11" fill="#3d3d3d"/>
<circle cx="1107.00" cy="339.74" r="2.6" fill="#fff"/>
<path d="M1200.91 219.23 L1201.01 220.23 L1201.16 221.23 L1201.32 222.23 L1201.48 223.23 L1201.69 224.48 L1201.86 225.48 L1202.04 226.48 L1202.23 227.48 L1202.42 228.48 L1202.67 229.73 L1202.86 230.73 L1203.06 231.73 L1203.26 232.73 L1203.51 233.98 L1203.71 234.98 L1203.92 235.98 L1204.12 236.98 L1204.32 237.98 L1204.58 239.23 L1204.78 240.23 L1204.99 241.23 L1205.19 242.23 L1205.43 243.48 L1205.62 244.48 L1205.80 245.48 L1205.97 246.48 L1206.14 247.48 L1206.33 248.73 L1206.49 249.73 L1206.64 250.73 L1206.80 251.73 L1206.96 252.73 L1207.17 253.98 L1207.35 254.98 L1207.53 255.98 L1207.72 256.98 L1207.96 258.23 L1208.16 259.23 L1208.36 260.23 L1208.57 261.23 L1208.78 262.23 L1209.05 263.48 L1209.27 264.48 L1209.50 265.48 L1209.73 266.48 L1210.02 267.73 L1210.26 268.73 L1210.50 269.73 L1210.75 270.73 L1211.01 271.73 L1211.34 272.98 L1211.60 273.98 L1211.88 274.98 L1212.15 275.98 L1212.44 276.98 L1212.81 278.23 L1213.12 279.23 L1213.46 280.23 L1213.82 281.23 L1214.31 282.48 L1214.76 283.48 L1215.24 284.48 L1215.75 285.48 L1216.28 286.48 L1216.94 287.73 L1217.46 288.73 L1217.96 289.73 L1218.43 290.73 L1218.99 291.98 L1219.42 292.98 L1219.83 293.98 L1220.23 294.98 L1220.61 295.98 L1221.08 297.23 L1221.43 298.23 L1221.78 299.23 L1222.11 300.23 L1222.43 301.23 L1222.80 302.48 L1223.07 303.48 L1223.32 304.48 L1223.55 305.48 L1223.81 306.73 L1223.99 307.73 L1224.16 308.73 L1224.31 309.73 L1224.45 310.73 L1224.61 311.98 L1224.73 312.98 L1224.84 313.98 L1224.94 314.98 L1225.06 316.23 L1225.14 317.23 L1225.22 318.23 L1225.29 319.23 L1225.35 320.23 L1225.43 321.48 L1225.49 322.48 L1225.54 323.48 L1225.59 324.48 L1225.63 325.73 L1225.65 326.73 L1225.65 327.73 L1225.65 328.73 L1225.64 329.73 L1225.62 330.98 L1225.60 331.98 L1225.58 332.98 L1225.55 333.98 L1225.51 334.98 L1225.45 336.23 L1225.38 337.23 L1225.28 338.23 L1225.15 339.23 L1224.96 340.48 L1224.78 341.48 L1224.58 342.48 L1224.38 343.48 L1224.17 344.48 L1223.89 345.73 L1223.64 346.73 L1223.38 347.73 L1223.09 348.73 L1222.71 349.98 L1222.39 350.98 L1222.07 351.98 L1221.73 352.98 L1221.40 353.98 L1220.97 355.23 L1220.61 356.23 L1220.25 357.23 L1219.88 358.23 L1219.50 359.23 L1219.02 360.48 L1218.65 361.48 L1218.27 362.48 L1217.91 363.48 L1217.46 364.73 L1217.11 365.73 L1216.77 366.73 L1216.43 367.73 L1216.08 368.73 L1215.64 369.98 L1215.29 370.98 L1214.93 371.98 L1214.55 372.98 L1214.08 374.23 L1213.68 375.23 L1213.28 376.23 L1212.88 377.23 L1212.48 378.23 L1211.97 379.48 L1211.56 380.48 L1211.16 381.48 L1210.76 382.48 L1210.36 383.48 L1209.85 384.73 L1209.45 385.73 L1209.05 386.73 L1208.65 387.73 L1208.15 388.98 L1207.75 389.98 L1207.35 390.98 L1206.95 391.98 L1206.55 392.98 L1206.05 394.23 L1205.65 395.23 L1205.25 396.23 L1204.86 397.23 L1204.36 398.48 L1203.97 399.48 L1203.58 400.48 L1203.21 401.48 L1202.84 402.48 L1202.39 403.73 L1202.03 404.73 L1201.68 405.73 L1201.34 406.73 L1200.95 407.98 L1199.66 407.98 L1199.28 406.73 L1198.94 405.73 L1198.58 404.73 L1198.23 403.73 L1197.78 402.48 L1197.41 401.48 L1197.03 400.48 L1196.65 399.48 L1196.26 398.48 L1195.76 397.23 L1195.36 396.23 L1194.96 395.23 L1194.56 394.23 L1194.06 392.98 L1193.66 391.98 L1193.26 390.98 L1192.86 389.98 L1192.46 388.98 L1191.96 387.73 L1191.56 386.73 L1191.16 385.73 L1190.76 384.73 L1190.26 383.48 L1189.86 382.48 L1189.46 381.48 L1189.06 380.48 L1188.65 379.48 L1188.14 378.23 L1187.74 377.23 L1187.33 376.23 L1186.94 375.23 L1186.54 374.23 L1186.06 372.98 L1185.69 371.98 L1185.33 370.98 L1184.97 369.98 L1184.54 368.73 L1184.19 367.73 L1183.85 366.73 L1183.50 365.73 L1183.15 364.73 L1182.71 363.48 L1182.34 362.48 L1181.97 361.48 L1181.59 360.48 L1181.12 359.23 L1180.74 358.23 L1180.37 357.23 L1180.01 356.23 L1179.65 355.23 L1179.22 353.98 L1178.88 352.98 L1178.55 351.98 L1178.22 350.98 L1177.91 349.98 L1177.53 348.73 L1177.24 347.73 L1176.98 346.73 L1176.73 345.73 L1176.45 344.48 L1176.24 343.48 L1176.03 342.48 L1175.84 341.48 L1175.66 340.48 L1175.47 339.23 L1175.34 338.23 L1175.24 337.23 L1175.17 336.23 L1175.11 334.98 L1175.07 333.98 L1175.04 332.98 L1175.02 331.98 L1175.00 330.98 L1174.98 329.73 L1174.97 328.73 L1174.97 327.73 L1174.97 326.73 L1174.99 325.73 L1175.03 324.48 L1175.07 323.48 L1175.13 322.48 L1175.18 321.48 L1175.26 320.23 L1175.33 319.23 L1175.40 318.23 L1175.48 317.23 L1175.56 316.23 L1175.68 314.98 L1175.78 313.98 L1175.89 312.98 L1176.01 311.98 L1176.17 310.73 L1176.31 309.73 L1176.46 308.73 L1176.63 307.73 L1176.81 306.73 L1177.07 305.48 L1177.30 304.48 L1177.55 303.48 L1177.82 302.48 L1178.19 301.23 L1178.51 300.23 L1178.84 299.23 L1179.19 298.23 L1179.54 297.23 L1180.00 295.98 L1180.39 294.98 L1180.79 293.98 L1181.20 292.98 L1181.63 291.98 L1182.18 290.73 L1182.66 289.73 L1183.15 288.73 L1183.67 287.73 L1184.34 286.48 L1184.87 285.48 L1185.38 284.48 L1185.86 283.48 L1186.30 282.48 L1186.80 281.23 L1187.16 280.23 L1187.49 279.23 L1187.81 278.23 L1188.18 276.98 L1188.47 275.98 L1188.74 274.98 L1189.01 273.98 L1189.28 272.98 L1189.61 271.73 L1189.86 270.73 L1190.12 269.73 L1190.36 268.73 L1190.60 267.73 L1190.89 266.48 L1191.12 265.48 L1191.35 264.48 L1191.57 263.48 L1191.84 262.23 L1192.05 261.23 L1192.26 260.23 L1192.46 259.23 L1192.66 258.23 L1192.90 256.98 L1193.09 255.98 L1193.27 254.98 L1193.45 253.98 L1193.66 252.73 L1193.82 251.73 L1193.98 250.73 L1194.13 249.73 L1194.28 248.73 L1194.48 247.48 L1194.65 246.48 L1194.82 245.48 L1195.00 244.48 L1195.19 243.48 L1195.43 242.23 L1195.63 241.23 L1195.83 240.23 L1196.04 239.23 L1196.30 237.98 L1196.50 236.98 L1196.70 235.98 L1196.90 234.98 L1197.10 233.98 L1197.35 232.73 L1197.55 231.73 L1197.75 230.73 L1197.95 229.73 L1198.20 228.48 L1198.39 227.48 L1198.58 226.48 L1198.75 225.48 L1198.93 224.48 L1199.13 223.23 L1199.30 222.23 L1199.46 221.23 L1199.60 220.23 L1199.71 219.23 Z" fill="#3a923a" stroke="#3d3d3d" stroke-width="0.7" stroke-opacity="0.8"/>
<line x1="1200.31" y1="259.00" x2="1200.31" y2="369.29" stroke="#3d3d3d" stroke-width="2.0"/>
<rect x="1197.61" y="303.25" width="5.4" height="48.34" fill="#3d3d3d"/>
<circle cx="1200.31" cy="328.43" r="2.6" fill="#fff"/>
<path d="M1294.30 256.74 L1294.29 257.24 L1294.31 257.99 L1294.33 258.49 L1294.37 259.24 L1294.40 259.99 L1294.43 260.49 L1294.46 261.24 L1294.49 261.99 L1294.51 262.49 L1294.54 263.24 L1294.57 263.99 L1294.59 264.49 L1294.63 265.24 L1294.67 265.99 L1294.70 266.49 L1294.76 267.24 L1294.81 267.99 L1294.86 268.49 L1294.93 269.24 L1294.98 269.74 L1295.06 270.49 L1295.14 271.24 L1295.20 271.74 L1295.30 272.49 L1295.40 273.24 L1295.48 273.74 L1295.60 274.49 L1295.73 275.24 L1295.82 275.74 L1295.97 276.49 L1296.12 277.24 L1296.23 277.74 L1296.39 278.49 L1296.57 279.24 L1296.68 279.74 L1296.87 280.49 L1296.99 280.99 L1297.19 281.74 L1297.39 282.49 L1297.53 282.99 L1297.75 283.74 L1297.98 284.49 L1298.14 284.99 L1298.38 285.74 L1298.64 286.49 L1298.81 286.99 L1299.07 287.74 L1299.35 288.49 L1299.53 288.99 L1299.81 289.74 L1300.10 290.49 L1300.30 290.99 L1300.60 291.74 L1300.81 292.24 L1301.13 292.99 L1301.46 293.74 L1301.68 294.24 L1302.02 294.99 L1302.37 295.74 L1302.60 296.24 L1302.95 296.99 L1303.31 297.74 L1303.54 298.24 L1303.90 298.99 L1304.25 299.74 L1304.49 300.24 L1304.84 300.99 L1305.20 301.74 L1305.44 302.24 L1305.81 302.99 L1306.17 303.74 L1306.41 304.24 L1306.77 304.99 L1307.02 305.49 L1307.38 306.24 L1307.74 306.99 L1307.98 307.49 L1308.34 308.24 L1308.70 308.99 L1308.94 309.49 L1309.30 310.24 L1309.66 310.99 L1309.91 311.49 L1310.27 312.24 L1310.63 312.99 L1310.87 313.49 L1311.21 314.24 L1311.54 314.99 L1311.75 315.49 L1312.05 316.24 L1312.24 316.74 L1312.51 317.49 L1312.77 318.24 L1312.93 318.74 L1313.16 319.49 L1313.38 320.24 L1313.52 320.74 L1313.72 321.49 L1313.92 322.24 L1314.04 322.74 L1314.22 323.49 L1314.38 324.24 L1314.48 324.74 L1314.61 325.49 L1314.73 326.24 L1314.81 326.74 L1314.91 327.49 L1314.97 327.99 L1315.05 328.74 L1315.12 329.49 L1315.17 329.99 L1315.22 330.74 L1315.25 331.49 L1315.26 331.99 L1315.26 332.74 L1315.23 333.49 L1315.20 333.99 L1315.13 334.74 L1315.04 335.49 L1314.97 335.99 L1314.85 336.74 L1314.70 337.49 L1314.59 337.99 L1314.40 338.74 L1314.16 339.49 L1313.99 339.99 L1313.69 340.74 L1313.47 341.24 L1313.12 341.99 L1312.76 342.74 L1312.50 343.24 L1312.12 343.99 L1311.72 344.74 L1311.46 345.24 L1311.06 345.99 L1310.65 346.74 L1310.37 347.24 L1309.94 347.99 L1309.49 348.74 L1309.19 349.24 L1308.74 349.99 L1308.27 350.74 L1307.96 351.24 L1307.49 351.99 L1307.17 352.49 L1306.70 353.24 L1306.22 353.99 L1305.91 354.49 L1305.43 355.24 L1304.94 355.99 L1304.62 356.49 L1304.13 357.24 L1303.63 357.99 L1303.30 358.49 L1302.81 359.24 L1302.32 359.99 L1301.99 360.49 L1301.50 361.24 L1301.02 361.99 L1300.70 362.49 L1300.23 363.24 L1299.92 363.74 L1299.46 364.49 L1299.00 365.24 L1298.70 365.74 L1298.26 366.49 L1297.82 367.24 L1297.53 367.74 L1297.10 368.49 L1296.69 369.24 L1296.43 369.74 L1296.05 370.49 L1295.70 371.24 L1295.48 371.74 L1295.16 372.49 L1294.87 373.24 L1294.70 373.74 L1294.47 374.49 L1294.31 375.24 L1293.09 375.24 L1292.92 374.49 L1292.70 373.74 L1292.52 373.24 L1292.23 372.49 L1291.92 371.74 L1291.70 371.24 L1291.34 370.49 L1290.97 369.74 L1290.71 369.24 L1290.30 368.49 L1289.87 367.74 L1289.58 367.24 L1289.14 366.49 L1288.69 365.74 L1288.39 365.24 L1287.94 364.49 L1287.48 363.74 L1287.17 363.24 L1286.70 362.49 L1286.38 361.99 L1285.90 361.24 L1285.41 360.49 L1285.08 359.99 L1284.59 359.24 L1284.09 358.49 L1283.76 357.99 L1283.27 357.24 L1282.78 356.49 L1282.45 355.99 L1281.97 355.24 L1281.49 354.49 L1281.17 353.99 L1280.70 353.24 L1280.22 352.49 L1279.91 351.99 L1279.44 351.24 L1279.12 350.74 L1278.66 349.99 L1278.20 349.24 L1277.90 348.74 L1277.46 347.99 L1277.03 347.24 L1276.75 346.74 L1276.34 345.99 L1275.94 345.24 L1275.67 344.74 L1275.28 343.99 L1274.89 343.24 L1274.64 342.74 L1274.27 341.99 L1273.92 341.24 L1273.71 340.74 L1273.41 339.99 L1273.23 339.49 L1273.00 338.74 L1272.80 337.99 L1272.69 337.49 L1272.55 336.74 L1272.43 335.99 L1272.36 335.49 L1272.27 334.74 L1272.20 333.99 L1272.17 333.49 L1272.14 332.74 L1272.14 331.99 L1272.15 331.49 L1272.18 330.74 L1272.23 329.99 L1272.27 329.49 L1272.35 328.74 L1272.43 327.99 L1272.49 327.49 L1272.59 326.74 L1272.66 326.24 L1272.79 325.49 L1272.92 324.74 L1273.02 324.24 L1273.18 323.49 L1273.35 322.74 L1273.48 322.24 L1273.67 321.49 L1273.88 320.74 L1274.02 320.24 L1274.24 319.49 L1274.47 318.74 L1274.63 318.24 L1274.88 317.49 L1275.15 316.74 L1275.34 316.24 L1275.64 315.49 L1275.86 314.99 L1276.19 314.24 L1276.53 313.49 L1276.77 312.99 L1277.13 312.24 L1277.49 311.49 L1277.73 310.99 L1278.10 310.24 L1278.46 309.49 L1278.70 308.99 L1279.06 308.24 L1279.42 307.49 L1279.66 306.99 L1280.02 306.24 L1280.38 305.49 L1280.62 304.99 L1280.99 304.24 L1281.23 303.74 L1281.59 302.99 L1281.95 302.24 L1282.19 301.74 L1282.55 300.99 L1282.91 300.24 L1283.15 299.74 L1283.50 298.99 L1283.85 298.24 L1284.09 297.74 L1284.44 296.99 L1284.79 296.24 L1285.03 295.74 L1285.37 294.99 L1285.71 294.24 L1285.94 293.74 L1286.27 292.99 L1286.59 292.24 L1286.79 291.74 L1287.10 290.99 L1287.30 290.49 L1287.58 289.74 L1287.87 288.99 L1288.05 288.49 L1288.32 287.74 L1288.59 286.99 L1288.76 286.49 L1289.01 285.74 L1289.26 284.99 L1289.42 284.49 L1289.65 283.74 L1289.87 282.99 L1290.01 282.49 L1290.21 281.74 L1290.40 280.99 L1290.53 280.49 L1290.71 279.74 L1290.83 279.24 L1291.00 278.49 L1291.17 277.74 L1291.28 277.24 L1291.43 276.49 L1291.58 275.74 L1291.67 275.24 L1291.80 274.49 L1291.92 273.74 L1292.00 273.24 L1292.10 272.49 L1292.20 271.74 L1292.26 271.24 L1292.34 270.49 L1292.42 269.74 L1292.47 269.24 L1292.54 268.49 L1292.58 267.99 L1292.64 267.24 L1292.69 266.49 L1292.72 265.99 L1292.76 265.24 L1292.80 264.49 L1292.83 263.99 L1292.86 263.24 L1292.89 262.49 L1292.91 261.99 L1292.94 261.24 L1292.97 260.49 L1292.99 259.99 L1293.03 259.24 L1293.07 258.49 L1293.09 257.99 L1293.10 257.24 L1293.10 256.74 Z" fill="#3274a1" stroke="#3d3d3d" stroke-width="0.7" stroke-opacity="0.8"/>
<line x1="1293.70" y1="304.16" x2="1293.70" y2="341.92" stroke="#3d3d3d" stroke-width="2.0"/>
<rect x="1291.00" y="316.39" width="5.4" height="20.61" fill="#3d3d3d"/>
<circle cx="1293.70" cy="330.61" r="2.6" fill="#fff"/>
<path d="M1389.63 315.11 L1389.63 315.36 L1389.64 315.61 L1389.70 316.11 L1389.75 316.36 L1389.88 316.86 L1389.95 317.11 L1390.03 317.36 L1390.21 317.86 L1390.31 318.11 L1390.52 318.61 L1390.64 318.86 L1390.89 319.36 L1391.02 319.61 L1391.16 319.86 L1391.46 320.36 L1391.62 320.61 L1391.96 321.11 L1392.14 321.36 L1392.52 321.86 L1392.72 322.11 L1392.92 322.36 L1393.34 322.86 L1393.55 323.11 L1393.98 323.61 L1394.20 323.86 L1394.63 324.36 L1394.85 324.61 L1395.07 324.86 L1395.51 325.36 L1395.73 325.61 L1396.17 326.11 L1396.40 326.36 L1396.84 326.86 L1397.07 327.11 L1397.29 327.36 L1397.75 327.86 L1397.98 328.11 L1398.43 328.61 L1398.66 328.86 L1398.89 329.11 L1399.36 329.61 L1399.59 329.86 L1400.06 330.36 L1400.30 330.61 L1400.77 331.11 L1401.00 331.36 L1401.24 331.61 L1401.72 332.11 L1401.96 332.36 L1402.43 332.86 L1402.67 333.11 L1403.15 333.61 L1403.39 333.86 L1403.64 334.11 L1404.12 334.61 L1404.36 334.86 L1404.85 335.36 L1405.09 335.61 L1405.58 336.11 L1405.83 336.36 L1406.07 336.61 L1406.57 337.11 L1406.81 337.36 L1407.31 337.86 L1407.56 338.11 L1408.06 338.61 L1408.31 338.86 L1408.56 339.11 L1409.06 339.61 L1409.31 339.86 L1409.82 340.36 L1410.07 340.61 L1410.32 340.86 L1410.82 341.36 L1411.07 341.61 L1411.56 342.11 L1411.81 342.36 L1412.31 342.86 L1412.56 343.11 L1412.80 343.36 L1413.30 343.86 L1413.54 344.11 L1414.04 344.61 L1414.28 344.86 L1414.78 345.36 L1415.03 345.61 L1415.27 345.86 L1415.77 346.36 L1416.02 346.61 L1416.53 347.11 L1416.78 347.36 L1417.29 347.86 L1417.54 348.11 L1417.79 348.36 L1418.31 348.86 L1418.56 349.11 L1419.07 349.61 L1419.33 349.86 L1419.84 350.36 L1420.09 350.61 L1420.34 350.86 L1420.85 351.36 L1421.10 351.61 L1421.61 352.11 L1421.86 352.36 L1422.36 352.86 L1422.61 353.11 L1422.86 353.36 L1423.34 353.86 L1423.58 354.11 L1424.03 354.61 L1424.24 354.86 L1424.44 355.11 L1424.80 355.61 L1424.96 355.86 L1425.23 356.36 L1425.34 356.61 L1425.50 357.11 L1425.55 357.36 L1425.58 357.61 L1425.58 358.11 L1425.55 358.36 L1425.43 358.86 L1425.34 359.11 L1425.08 359.61 L1424.92 359.86 L1424.73 360.11 L1424.27 360.61 L1424.01 360.86 L1423.39 361.36 L1423.05 361.61 L1422.28 362.11 L1421.86 362.36 L1421.43 362.61 L1420.50 363.11 L1420.01 363.36 L1419.00 363.86 L1418.48 364.11 L1417.40 364.61 L1416.85 364.86 L1416.29 365.11 L1415.15 365.61 L1414.56 365.86 L1413.37 366.36 L1412.77 366.61 L1412.16 366.86 L1410.92 367.36 L1410.29 367.61 L1409.03 368.11 L1408.40 368.36 L1407.13 368.86 L1406.49 369.11 L1405.86 369.36 L1404.60 369.86 L1403.98 370.11 L1402.75 370.61 L1402.15 370.86 L1400.96 371.36 L1400.38 371.61 L1399.81 371.86 L1398.70 372.36 L1398.16 372.61 L1397.11 373.11 L1396.60 373.36 L1395.62 373.86 L1395.15 374.11 L1394.70 374.36 L1393.80 374.86 L1393.37 375.11 L1392.60 375.61 L1392.25 375.86 L1391.64 376.36 L1391.37 376.61 L1391.11 376.86 L1390.65 377.36 L1390.44 377.61 L1390.07 378.11 L1389.91 378.36 L1389.66 378.86 L1388.39 378.86 L1388.14 378.36 L1387.99 378.11 L1387.62 377.61 L1387.41 377.36 L1386.94 376.86 L1386.68 376.61 L1386.41 376.36 L1385.81 375.86 L1385.46 375.61 L1384.68 375.11 L1384.25 374.86 L1383.35 374.36 L1382.90 374.11 L1382.43 373.86 L1381.46 373.36 L1380.95 373.11 L1379.90 372.61 L1379.36 372.36 L1378.24 371.86 L1377.67 371.61 L1377.09 371.36 L1375.91 370.86 L1375.31 370.61 L1374.08 370.11 L1373.45 369.86 L1372.20 369.36 L1371.57 369.11 L1370.93 368.86 L1369.66 368.36 L1369.03 368.11 L1367.77 367.61 L1367.14 367.36 L1365.90 366.86 L1365.29 366.61 L1364.68 366.36 L1363.49 365.86 L1362.91 365.61 L1361.77 365.11 L1361.21 364.86 L1360.66 364.61 L1359.58 364.11 L1359.06 363.86 L1358.04 363.36 L1357.56 363.11 L1356.63 362.61 L1356.19 362.36 L1355.78 362.11 L1355.01 361.61 L1354.66 361.36 L1354.05 360.86 L1353.78 360.61 L1353.33 360.11 L1353.14 359.86 L1352.98 359.61 L1352.72 359.11 L1352.63 358.86 L1352.50 358.36 L1352.47 358.11 L1352.48 357.61 L1352.51 357.36 L1352.56 357.11 L1352.72 356.61 L1352.82 356.36 L1353.09 355.86 L1353.25 355.61 L1353.62 355.11 L1353.82 354.86 L1354.03 354.61 L1354.48 354.11 L1354.71 353.86 L1355.20 353.36 L1355.45 353.11 L1355.69 352.86 L1356.20 352.36 L1356.45 352.11 L1356.95 351.61 L1357.21 351.36 L1357.71 350.86 L1357.97 350.61 L1358.22 350.36 L1358.73 349.86 L1358.98 349.61 L1359.50 349.11 L1359.75 348.86 L1360.26 348.36 L1360.52 348.11 L1360.77 347.86 L1361.28 347.36 L1361.53 347.11 L1362.03 346.61 L1362.28 346.36 L1362.78 345.86 L1363.03 345.61 L1363.28 345.36 L1363.77 344.86 L1364.02 344.61 L1364.51 344.11 L1364.76 343.86 L1365.25 343.36 L1365.50 343.11 L1365.75 342.86 L1366.24 342.36 L1366.49 342.11 L1366.99 341.61 L1367.24 341.36 L1367.74 340.86 L1367.99 340.61 L1368.24 340.36 L1368.74 339.86 L1368.99 339.61 L1369.49 339.11 L1369.75 338.86 L1370.00 338.61 L1370.50 338.11 L1370.74 337.86 L1371.24 337.36 L1371.49 337.11 L1371.98 336.61 L1372.23 336.36 L1372.47 336.11 L1372.96 335.61 L1373.21 335.36 L1373.69 334.86 L1373.94 334.61 L1374.42 334.11 L1374.66 333.86 L1374.90 333.61 L1375.38 333.11 L1375.62 332.86 L1376.10 332.36 L1376.34 332.11 L1376.81 331.61 L1377.05 331.36 L1377.29 331.11 L1377.76 330.61 L1378.00 330.36 L1378.46 329.86 L1378.70 329.61 L1379.16 329.11 L1379.39 328.86 L1379.62 328.61 L1380.08 328.11 L1380.31 327.86 L1380.76 327.36 L1380.99 327.11 L1381.21 326.86 L1381.66 326.36 L1381.88 326.11 L1382.32 325.61 L1382.55 325.36 L1382.98 324.86 L1383.20 324.61 L1383.42 324.36 L1383.86 323.86 L1384.07 323.61 L1384.50 323.11 L1384.72 322.86 L1385.13 322.36 L1385.34 322.11 L1385.54 321.86 L1385.92 321.36 L1386.10 321.11 L1386.44 320.61 L1386.60 320.36 L1386.89 319.86 L1387.03 319.61 L1387.17 319.36 L1387.42 318.86 L1387.53 318.61 L1387.74 318.11 L1387.84 317.86 L1388.02 317.36 L1388.10 317.11 L1388.18 316.86 L1388.31 316.36 L1388.35 316.11 L1388.42 315.61 L1388.43 315.36 L1388.43 315.11 Z" fill="#e1812c" stroke="#3d3d3d" stroke-width="0.7" stroke-opacity="0.8"/>
<line x1="1389.03" y1="328.43" x2="1389.03" y2="365.64" stroke="#3d3d3d" stroke-width="2.0"/>
<rect x="1386.33" y="343.38" width="5.4" height="17.88" fill="#3d3d3d"/>
<circle cx="1389.03" cy="351.96" r="2.6" fill="#fff"/>
<path d="M1481.09 292.67 L1481.07 293.17 L1481.08 293.92 L1481.09 294.42 L1481.13 295.17 L1481.15 295.67 L1481.19 296.42 L1481.23 297.17 L1481.26 297.67 L1481.30 298.42 L1481.33 298.92 L1481.38 299.67 L1481.44 300.42 L1481.48 300.92 L1481.54 301.67 L1481.59 302.17 L1481.67 302.92 L1481.76 303.67 L1481.82 304.17 L1481.92 304.92 L1481.99 305.42 L1482.10 306.17 L1482.22 306.92 L1482.29 307.42 L1482.42 308.17 L1482.50 308.67 L1482.63 309.42 L1482.72 309.92 L1482.86 310.67 L1483.00 311.42 L1483.10 311.92 L1483.26 312.67 L1483.36 313.17 L1483.53 313.92 L1483.70 314.67 L1483.82 315.17 L1484.01 315.92 L1484.14 316.42 L1484.34 317.17 L1484.55 317.92 L1484.70 318.42 L1484.93 319.17 L1485.10 319.67 L1485.35 320.42 L1485.62 321.17 L1485.81 321.67 L1486.10 322.42 L1486.29 322.92 L1486.59 323.67 L1486.90 324.42 L1487.11 324.92 L1487.43 325.67 L1487.64 326.17 L1487.97 326.92 L1488.19 327.42 L1488.52 328.17 L1488.87 328.92 L1489.11 329.42 L1489.47 330.17 L1489.71 330.67 L1490.08 331.42 L1490.45 332.17 L1490.70 332.67 L1491.06 333.42 L1491.31 333.92 L1491.67 334.67 L1492.03 335.42 L1492.26 335.92 L1492.60 336.67 L1492.83 337.17 L1493.16 337.92 L1493.49 338.67 L1493.71 339.17 L1494.04 339.92 L1494.25 340.42 L1494.57 341.17 L1494.89 341.92 L1495.10 342.42 L1495.42 343.17 L1495.63 343.67 L1495.95 344.42 L1496.16 344.92 L1496.48 345.67 L1496.80 346.42 L1497.01 346.92 L1497.34 347.67 L1497.56 348.17 L1497.88 348.92 L1498.20 349.67 L1498.41 350.17 L1498.72 350.92 L1498.91 351.42 L1499.19 352.17 L1499.45 352.92 L1499.61 353.42 L1499.85 354.17 L1500.00 354.67 L1500.21 355.42 L1500.42 356.17 L1500.55 356.67 L1500.75 357.42 L1500.87 357.92 L1501.05 358.67 L1501.16 359.17 L1501.31 359.92 L1501.44 360.67 L1501.52 361.17 L1501.60 361.92 L1501.65 362.42 L1501.69 363.17 L1501.72 363.92 L1501.73 364.42 L1501.74 365.17 L1501.74 365.67 L1501.74 366.42 L1501.73 367.17 L1501.72 367.67 L1501.69 368.42 L1501.65 368.92 L1501.56 369.67 L1501.41 370.42 L1501.28 370.92 L1501.04 371.67 L1500.85 372.17 L1500.53 372.92 L1500.19 373.67 L1499.94 374.17 L1499.57 374.92 L1499.31 375.42 L1498.93 376.17 L1498.67 376.67 L1498.27 377.42 L1497.85 378.17 L1497.57 378.67 L1497.12 379.42 L1496.81 379.92 L1496.34 380.67 L1495.86 381.42 L1495.53 381.92 L1495.04 382.67 L1494.71 383.17 L1494.20 383.92 L1493.70 384.67 L1493.36 385.17 L1492.85 385.92 L1492.50 386.42 L1491.97 387.17 L1491.43 387.92 L1491.07 388.42 L1490.52 389.17 L1490.16 389.67 L1489.61 390.42 L1489.08 391.17 L1488.73 391.67 L1488.21 392.42 L1487.88 392.92 L1487.40 393.67 L1487.09 394.17 L1486.64 394.92 L1486.20 395.67 L1485.92 396.17 L1485.51 396.92 L1485.24 397.42 L1484.84 398.17 L1484.46 398.92 L1484.21 399.42 L1483.84 400.17 L1483.61 400.67 L1483.27 401.42 L1482.94 402.17 L1482.73 402.67 L1482.45 403.42 L1482.27 403.92 L1482.01 404.67 L1481.78 405.42 L1481.64 405.92 L1481.44 406.67 L1481.32 407.17 L1481.17 407.92 L1481.09 408.67 L1479.89 408.67 L1479.81 407.92 L1479.66 407.17 L1479.55 406.67 L1479.34 405.92 L1479.20 405.42 L1478.97 404.67 L1478.72 403.92 L1478.54 403.42 L1478.25 402.67 L1478.04 402.17 L1477.72 401.42 L1477.38 400.67 L1477.14 400.17 L1476.77 399.42 L1476.52 398.92 L1476.14 398.17 L1475.74 397.42 L1475.48 396.92 L1475.06 396.17 L1474.78 395.67 L1474.35 394.92 L1473.89 394.17 L1473.58 393.67 L1473.10 392.92 L1472.77 392.42 L1472.26 391.67 L1471.90 391.17 L1471.37 390.42 L1470.82 389.67 L1470.46 389.17 L1469.91 388.42 L1469.55 387.92 L1469.01 387.17 L1468.48 386.42 L1468.14 385.92 L1467.62 385.17 L1467.28 384.67 L1466.78 383.92 L1466.28 383.17 L1465.94 382.67 L1465.45 381.92 L1465.12 381.42 L1464.64 380.67 L1464.17 379.92 L1463.86 379.42 L1463.42 378.67 L1463.13 378.17 L1462.71 377.42 L1462.31 376.67 L1462.05 376.17 L1461.67 375.42 L1461.41 374.92 L1461.04 374.17 L1460.80 373.67 L1460.45 372.92 L1460.13 372.17 L1459.94 371.67 L1459.70 370.92 L1459.57 370.42 L1459.43 369.67 L1459.33 368.92 L1459.29 368.42 L1459.26 367.67 L1459.25 367.17 L1459.24 366.42 L1459.24 365.67 L1459.24 365.17 L1459.25 364.42 L1459.26 363.92 L1459.29 363.17 L1459.34 362.42 L1459.38 361.92 L1459.47 361.17 L1459.54 360.67 L1459.67 359.92 L1459.82 359.17 L1459.93 358.67 L1460.11 357.92 L1460.23 357.42 L1460.43 356.67 L1460.56 356.17 L1460.77 355.42 L1460.99 354.67 L1461.13 354.17 L1461.37 353.42 L1461.53 352.92 L1461.79 352.17 L1462.07 351.42 L1462.27 350.92 L1462.57 350.17 L1462.78 349.67 L1463.10 348.92 L1463.42 348.17 L1463.64 347.67 L1463.97 346.92 L1464.18 346.42 L1464.51 345.67 L1464.83 344.92 L1465.04 344.42 L1465.35 343.67 L1465.56 343.17 L1465.88 342.42 L1466.09 341.92 L1466.41 341.17 L1466.73 340.42 L1466.95 339.92 L1467.27 339.17 L1467.49 338.67 L1467.82 337.92 L1468.16 337.17 L1468.38 336.67 L1468.72 335.92 L1468.96 335.42 L1469.31 334.67 L1469.67 333.92 L1469.92 333.42 L1470.29 332.67 L1470.53 332.17 L1470.90 331.42 L1471.27 330.67 L1471.52 330.17 L1471.88 329.42 L1472.11 328.92 L1472.46 328.17 L1472.80 327.42 L1473.02 326.92 L1473.34 326.17 L1473.56 325.67 L1473.87 324.92 L1474.08 324.42 L1474.39 323.67 L1474.69 322.92 L1474.89 322.42 L1475.17 321.67 L1475.36 321.17 L1475.63 320.42 L1475.89 319.67 L1476.05 319.17 L1476.28 318.42 L1476.43 317.92 L1476.64 317.17 L1476.84 316.42 L1476.97 315.92 L1477.16 315.17 L1477.28 314.67 L1477.45 313.92 L1477.62 313.17 L1477.73 312.67 L1477.88 311.92 L1477.98 311.42 L1478.13 310.67 L1478.27 309.92 L1478.35 309.42 L1478.48 308.67 L1478.57 308.17 L1478.69 307.42 L1478.77 306.92 L1478.88 306.17 L1478.99 305.42 L1479.06 304.92 L1479.16 304.17 L1479.22 303.67 L1479.31 302.92 L1479.39 302.17 L1479.44 301.67 L1479.51 300.92 L1479.55 300.42 L1479.60 299.67 L1479.65 298.92 L1479.68 298.42 L1479.73 297.67 L1479.75 297.17 L1479.79 296.42 L1479.83 295.67 L1479.85 295.17 L1479.89 294.42 L1479.91 293.92 L1479.91 293.17 L1479.89 292.67 Z" fill="#3a923a" stroke="#3d3d3d" stroke-width="0.7" stroke-opacity="0.8"/>
<line x1="1480.49" y1="337.55" x2="1480.49" y2="374.03" stroke="#3d3d3d" stroke-width="2.0"/>
<rect x="1477.79" y="348.86" width="5.4" height="19.70" fill="#3d3d3d"/>
<circle cx="1480.49" cy="364.36" r="2.6" fill="#fff"/>
<path d="M173.66 644.72 L173.66 645.22 L173.72 645.97 L173.84 646.72 L174.00 647.47 L174.13 647.97 L174.34 648.72 L174.58 649.47 L174.85 650.22 L175.05 650.72 L175.40 651.47 L175.81 652.22 L176.29 652.97 L176.65 653.47 L177.23 654.22 L177.86 654.97 L178.50 655.72 L178.94 656.22 L179.61 656.97 L180.28 657.72 L180.97 658.47 L181.43 658.97 L182.14 659.72 L182.86 660.47 L183.60 661.22 L184.09 661.72 L184.84 662.47 L185.61 663.22 L186.37 663.97 L186.88 664.47 L187.64 665.22 L188.40 665.97 L189.15 666.72 L189.65 667.22 L190.38 667.97 L191.11 668.72 L191.82 669.47 L192.30 669.97 L193.01 670.72 L193.71 671.47 L194.41 672.22 L194.86 672.72 L195.55 673.47 L196.22 674.22 L196.88 674.97 L197.31 675.47 L197.94 676.22 L198.56 676.97 L199.16 677.72 L199.56 678.22 L200.14 678.97 L200.71 679.72 L201.27 680.47 L201.64 680.97 L202.18 681.72 L202.71 682.47 L203.22 683.22 L203.56 683.72 L204.05 684.47 L204.53 685.22 L205.00 685.97 L205.47 686.72 L205.78 687.22 L206.24 687.97 L206.70 688.72 L207.15 689.47 L207.45 689.97 L207.89 690.72 L208.31 691.47 L208.69 692.22 L208.93 692.72 L209.24 693.47 L209.51 694.22 L209.73 694.97 L209.86 695.47 L210.00 696.22 L210.12 696.97 L210.21 697.72 L210.26 698.22 L210.31 698.97 L210.34 699.72 L210.32 700.47 L210.28 700.97 L210.17 701.72 L209.99 702.47 L209.75 703.22 L209.55 703.72 L209.22 704.47 L208.85 705.22 L208.46 705.97 L208.19 706.47 L207.77 707.22 L207.34 707.97 L206.89 708.72 L206.59 709.22 L206.11 709.97 L205.60 710.72 L205.07 711.47 L204.69 711.97 L204.11 712.72 L203.52 713.47 L202.90 714.22 L202.49 714.72 L201.87 715.47 L201.25 716.22 L200.63 716.97 L200.22 717.47 L199.61 718.22 L199.01 718.97 L198.40 719.72 L198.00 720.22 L197.38 720.97 L196.77 721.72 L196.16 722.47 L195.76 722.97 L195.15 723.72 L194.55 724.47 L193.96 725.22 L193.57 725.72 L193.00 726.47 L192.44 727.22 L191.88 727.97 L191.34 728.72 L190.99 729.22 L190.46 729.97 L189.94 730.72 L189.43 731.47 L189.09 731.97 L188.59 732.72 L188.10 733.47 L187.61 734.22 L187.29 734.72 L186.81 735.47 L186.34 736.22 L185.88 736.97 L185.58 737.47 L185.13 738.22 L184.69 738.97 L184.27 739.72 L183.99 740.22 L183.58 740.97 L183.18 741.72 L182.80 742.47 L182.55 742.97 L182.19 743.72 L181.84 744.47 L181.50 745.22 L181.27 745.72 L180.92 746.47 L180.57 747.22 L180.21 747.97 L179.97 748.47 L179.61 749.22 L179.26 749.97 L178.92 750.72 L178.69 751.22 L178.37 751.97 L178.05 752.72 L177.74 753.47 L177.55 753.97 L177.26 754.72 L176.99 755.47 L176.72 756.22 L176.55 756.72 L176.30 757.47 L176.05 758.22 L175.82 758.97 L175.66 759.47 L175.44 760.22 L175.23 760.97 L175.02 761.72 L174.89 762.22 L174.70 762.97 L174.52 763.72 L174.35 764.47 L174.24 764.97 L174.08 765.72 L173.92 766.47 L173.78 767.22 L173.67 767.97 L172.45 767.97 L172.35 767.22 L172.21 766.47 L172.05 765.72 L171.89 764.97 L171.77 764.47 L171.60 763.72 L171.42 762.97 L171.23 762.22 L171.10 761.72 L170.90 760.97 L170.68 760.22 L170.46 759.47 L170.31 758.97 L170.07 758.22 L169.83 757.47 L169.58 756.72 L169.40 756.22 L169.14 755.47 L168.86 754.72 L168.58 753.97 L168.38 753.47 L168.08 752.72 L167.76 751.97 L167.43 751.22 L167.21 750.72 L166.87 749.97 L166.52 749.22 L166.16 748.47 L165.92 747.97 L165.56 747.22 L165.20 746.47 L164.86 745.72 L164.63 745.22 L164.28 744.47 L163.93 743.72 L163.58 742.97 L163.33 742.47 L162.94 741.72 L162.55 740.97 L162.14 740.22 L161.86 739.72 L161.43 738.97 L161.00 738.22 L160.55 737.47 L160.24 736.97 L159.78 736.22 L159.31 735.47 L158.84 734.72 L158.52 734.22 L158.03 733.47 L157.54 732.72 L157.04 731.97 L156.70 731.47 L156.19 730.72 L155.67 729.97 L155.14 729.22 L154.78 728.72 L154.24 727.97 L153.69 727.22 L153.13 726.47 L152.56 725.72 L152.17 725.22 L151.58 724.47 L150.98 723.72 L150.37 722.97 L149.96 722.47 L149.35 721.72 L148.74 720.97 L148.13 720.22 L147.73 719.72 L147.12 718.97 L146.51 718.22 L145.90 717.47 L145.49 716.97 L144.88 716.22 L144.26 715.47 L143.63 714.72 L143.22 714.22 L142.61 713.47 L142.01 712.72 L141.43 711.97 L141.06 711.47 L140.52 710.72 L140.02 709.97 L139.54 709.22 L139.23 708.72 L138.79 707.97 L138.36 707.22 L137.94 706.47 L137.67 705.97 L137.27 705.22 L136.90 704.47 L136.57 703.72 L136.38 703.22 L136.14 702.47 L135.96 701.72 L135.85 700.97 L135.81 700.47 L135.79 699.72 L135.81 698.97 L135.87 698.22 L135.92 697.72 L136.01 696.97 L136.12 696.22 L136.27 695.47 L136.39 694.97 L136.61 694.22 L136.88 693.47 L137.20 692.72 L137.44 692.22 L137.82 691.47 L138.24 690.72 L138.67 689.97 L138.97 689.47 L139.43 688.72 L139.89 687.97 L140.35 687.22 L140.66 686.72 L141.12 685.97 L141.59 685.22 L142.07 684.47 L142.57 683.72 L142.90 683.22 L143.42 682.47 L143.95 681.72 L144.49 680.97 L144.86 680.47 L145.42 679.72 L145.99 678.97 L146.57 678.22 L146.97 677.72 L147.57 676.97 L148.19 676.22 L148.82 675.47 L149.25 674.97 L149.91 674.22 L150.58 673.47 L151.26 672.72 L151.72 672.22 L152.42 671.47 L153.12 670.72 L153.83 669.97 L154.30 669.47 L155.02 668.72 L155.74 667.97 L156.48 667.22 L156.97 666.72 L157.72 665.97 L158.48 665.22 L159.25 664.47 L159.76 663.97 L160.52 663.22 L161.28 662.47 L162.03 661.72 L162.53 661.22 L163.26 660.47 L163.99 659.72 L164.69 658.97 L165.16 658.47 L165.84 657.72 L166.52 656.97 L167.19 656.22 L167.63 655.72 L168.27 654.97 L168.89 654.22 L169.48 653.47 L169.84 652.97 L170.32 652.22 L170.73 651.47 L171.08 650.72 L171.28 650.22 L171.55 649.47 L171.79 648.72 L172.00 647.97 L172.13 647.47 L172.29 646.72 L172.41 645.97 L172.47 645.22 L172.46 644.72 Z" fill="#3274a1" stroke="#3d3d3d" stroke-width="0.7" stroke-opacity="0.8"/>
<line x1="173.06" y1="668.44" x2="173.06" y2="744.89" stroke="#3d3d3d" stroke-width="2.0"/>
<rect x="170.36" y="687.59" width="5.4" height="26.09" fill="#3d3d3d"/>
<circle cx="173.06" cy="698.90" r="2.6" fill="#fff"/>
<path d="M266.51 597.66 L266.57 598.66 L266.68 599.66 L266.80 600.66 L266.92 601.66 L267.08 602.91 L267.20 603.91 L267.34 604.91 L267.48 605.91 L267.67 607.16 L267.82 608.16 L267.97 609.16 L268.12 610.16 L268.30 611.41 L268.45 612.41 L268.61 613.41 L268.76 614.41 L268.91 615.41 L269.11 616.66 L269.27 617.66 L269.42 618.66 L269.57 619.66 L269.75 620.91 L269.89 621.91 L270.02 622.91 L270.14 623.91 L270.29 625.16 L270.40 626.16 L270.50 627.16 L270.60 628.16 L270.72 629.41 L270.80 630.41 L270.88 631.41 L270.95 632.41 L271.02 633.41 L271.09 634.66 L271.14 635.66 L271.19 636.66 L271.24 637.66 L271.30 638.91 L271.34 639.91 L271.38 640.91 L271.41 641.91 L271.45 643.16 L271.48 644.16 L271.51 645.16 L271.54 646.16 L271.57 647.41 L271.60 648.41 L271.63 649.41 L271.67 650.41 L271.70 651.41 L271.74 652.66 L271.77 653.66 L271.81 654.66 L271.85 655.66 L271.90 656.91 L271.95 657.91 L272.01 658.91 L272.08 659.91 L272.18 661.16 L272.28 662.16 L272.40 663.16 L272.53 664.16 L272.71 665.41 L272.87 666.41 L273.04 667.41 L273.24 668.41 L273.47 669.41 L273.80 670.66 L274.11 671.66 L274.44 672.66 L274.80 673.66 L275.26 674.91 L275.62 675.91 L275.98 676.91 L276.32 677.91 L276.74 679.16 L277.07 680.16 L277.40 681.16 L277.73 682.16 L278.15 683.41 L278.50 684.41 L278.86 685.41 L279.24 686.41 L279.64 687.41 L280.18 688.66 L280.63 689.66 L281.09 690.66 L281.57 691.66 L282.17 692.91 L282.64 693.91 L283.10 694.91 L283.55 695.91 L284.11 697.16 L284.54 698.16 L284.98 699.16 L285.40 700.16 L285.83 701.16 L286.34 702.41 L286.75 703.41 L287.14 704.41 L287.53 705.41 L288.01 706.66 L288.40 707.66 L288.77 708.66 L289.14 709.66 L289.57 710.91 L289.90 711.91 L290.20 712.91 L290.48 713.91 L290.82 715.16 L291.07 716.16 L291.31 717.16 L291.53 718.16 L291.74 719.16 L291.98 720.41 L292.16 721.41 L292.33 722.41 L292.47 723.41 L292.61 724.66 L292.69 725.66 L292.75 726.66 L292.78 727.66 L292.76 728.91 L292.70 729.91 L292.60 730.91 L292.46 731.91 L292.23 733.16 L292.00 734.16 L291.73 735.16 L291.40 736.16 L291.00 737.16 L290.42 738.41 L289.87 739.41 L289.26 740.41 L288.61 741.41 L287.83 742.66 L287.25 743.66 L286.71 744.66 L286.17 745.66 L285.48 746.91 L284.92 747.91 L284.34 748.91 L283.75 749.91 L283.02 751.16 L282.43 752.16 L281.83 753.16 L281.24 754.16 L280.64 755.16 L279.88 756.41 L279.28 757.41 L278.67 758.41 L278.07 759.41 L277.32 760.66 L276.73 761.66 L276.14 762.66 L275.56 763.66 L274.82 764.91 L274.24 765.91 L273.67 766.91 L273.11 767.91 L272.45 769.16 L271.96 770.16 L271.50 771.16 L271.06 772.16 L270.65 773.16 L270.16 774.41 L269.78 775.41 L269.43 776.41 L269.10 777.41 L268.71 778.66 L268.42 779.66 L268.15 780.66 L267.89 781.66 L267.57 782.91 L267.32 783.91 L267.06 784.91 L266.82 785.91 L266.55 787.16 L265.27 787.16 L265.01 785.91 L264.76 784.91 L264.51 783.91 L264.26 782.91 L263.94 781.66 L263.68 780.66 L263.40 779.66 L263.12 778.66 L262.73 777.41 L262.40 776.41 L262.04 775.41 L261.67 774.41 L261.18 773.16 L260.77 772.16 L260.33 771.16 L259.87 770.16 L259.37 769.16 L258.71 767.91 L258.16 766.91 L257.58 765.91 L257.00 764.91 L256.27 763.66 L255.68 762.66 L255.10 761.66 L254.50 760.66 L253.76 759.41 L253.16 758.41 L252.55 757.41 L251.94 756.41 L251.19 755.16 L250.59 754.16 L249.99 753.16 L249.40 752.16 L248.81 751.16 L248.07 749.91 L247.49 748.91 L246.91 747.91 L246.34 746.91 L245.65 745.66 L245.11 744.66 L244.57 743.66 L244.00 742.66 L243.21 741.41 L242.57 740.41 L241.95 739.41 L241.41 738.41 L240.82 737.16 L240.43 736.16 L240.10 735.16 L239.82 734.16 L239.60 733.16 L239.37 731.91 L239.23 730.91 L239.12 729.91 L239.06 728.91 L239.05 727.66 L239.07 726.66 L239.13 725.66 L239.21 724.66 L239.35 723.41 L239.50 722.41 L239.66 721.41 L239.84 720.41 L240.08 719.16 L240.29 718.16 L240.52 717.16 L240.76 716.16 L241.01 715.16 L241.34 713.91 L241.62 712.91 L241.93 711.91 L242.25 710.91 L242.69 709.66 L243.05 708.66 L243.43 707.66 L243.81 706.66 L244.29 705.41 L244.68 704.41 L245.08 703.41 L245.48 702.41 L246.00 701.16 L246.42 700.16 L246.85 699.16 L247.28 698.16 L247.72 697.16 L248.27 695.91 L248.72 694.91 L249.19 693.91 L249.66 692.91 L250.26 691.66 L250.73 690.66 L251.20 689.66 L251.65 688.66 L252.18 687.41 L252.58 686.41 L252.96 685.41 L253.33 684.41 L253.68 683.41 L254.10 682.16 L254.43 681.16 L254.76 680.16 L255.08 679.16 L255.50 677.91 L255.85 676.91 L256.20 675.91 L256.57 674.91 L257.02 673.66 L257.38 672.66 L257.72 671.66 L258.02 670.66 L258.36 669.41 L258.59 668.41 L258.78 667.41 L258.96 666.41 L259.12 665.41 L259.30 664.16 L259.43 663.16 L259.54 662.16 L259.64 661.16 L259.75 659.91 L259.81 658.91 L259.87 657.91 L259.92 656.91 L259.98 655.66 L260.01 654.66 L260.05 653.66 L260.08 652.66 L260.13 651.41 L260.16 650.41 L260.19 649.41 L260.22 648.41 L260.25 647.41 L260.29 646.16 L260.31 645.16 L260.34 644.16 L260.37 643.16 L260.41 641.91 L260.45 640.91 L260.49 639.91 L260.53 638.91 L260.58 637.66 L260.63 636.66 L260.68 635.66 L260.74 634.66 L260.81 633.41 L260.87 632.41 L260.94 631.41 L261.02 630.41 L261.10 629.41 L261.22 628.16 L261.32 627.16 L261.43 626.16 L261.54 625.16 L261.68 623.91 L261.81 622.91 L261.93 621.91 L262.07 620.91 L262.25 619.66 L262.40 618.66 L262.56 617.66 L262.71 616.66 L262.91 615.41 L263.07 614.41 L263.22 613.41 L263.37 612.41 L263.52 611.41 L263.71 610.16 L263.86 609.16 L264.01 608.16 L264.16 607.16 L264.34 605.91 L264.48 604.91 L264.62 603.91 L264.75 602.91 L264.90 601.66 L265.02 600.66 L265.14 599.66 L265.25 598.66 L265.31 597.66 Z" fill="#e1812c" stroke="#3d3d3d" stroke-width="0.7" stroke-opacity="0.8"/>
<line x1="265.91" y1="668.99" x2="265.91" y2="749.45" stroke="#3d3d3d" stroke-width="2.0"/>
<rect x="263.21" y="700.91" width="5.4" height="32.83" fill="#3d3d3d"/>
<circle cx="265.91" cy="718.06" r="2.6" fill="#fff"/>
<path d="M359.73 648.74 L359.73 649.24 L359.84 649.99 L360.03 650.74 L360.27 651.49 L360.46 651.99 L360.78 652.74 L361.13 653.49 L361.52 654.24 L361.80 654.74 L362.27 655.49 L362.81 656.24 L363.39 656.99 L363.81 657.49 L364.46 658.24 L365.13 658.99 L365.80 659.74 L366.25 660.24 L366.92 660.99 L367.60 661.74 L368.27 662.49 L368.72 662.99 L369.40 663.74 L370.07 664.49 L370.75 665.24 L371.20 665.74 L371.87 666.49 L372.55 667.24 L373.22 667.99 L373.90 668.74 L374.35 669.24 L375.02 669.99 L375.70 670.74 L376.38 671.49 L376.83 671.99 L377.52 672.74 L378.21 673.49 L378.90 674.24 L379.36 674.74 L380.06 675.49 L380.75 676.24 L381.44 676.99 L381.90 677.49 L382.57 678.24 L383.23 678.99 L383.88 679.74 L384.30 680.24 L384.91 680.99 L385.52 681.74 L386.11 682.49 L386.49 682.99 L387.07 683.74 L387.63 684.49 L388.18 685.24 L388.71 685.99 L389.06 686.49 L389.57 687.24 L390.06 687.99 L390.54 688.74 L390.84 689.24 L391.28 689.99 L391.71 690.74 L392.13 691.49 L392.40 691.99 L392.80 692.74 L393.19 693.49 L393.56 694.24 L393.80 694.74 L394.15 695.49 L394.47 696.24 L394.77 696.99 L394.96 697.49 L395.21 698.24 L395.44 698.99 L395.64 699.74 L395.76 700.24 L395.91 700.99 L396.03 701.74 L396.10 702.49 L396.11 703.24 L396.08 703.74 L395.99 704.49 L395.84 705.24 L395.63 705.99 L395.46 706.49 L395.17 707.24 L394.84 707.99 L394.48 708.74 L394.22 709.24 L393.82 709.99 L393.41 710.74 L392.98 711.49 L392.68 711.99 L392.21 712.74 L391.71 713.49 L391.19 714.24 L390.82 714.74 L390.24 715.49 L389.65 716.24 L389.03 716.99 L388.62 717.49 L388.00 718.24 L387.37 718.99 L386.75 719.74 L386.14 720.49 L385.73 720.99 L385.11 721.74 L384.49 722.49 L383.86 723.24 L383.43 723.74 L382.78 724.49 L382.14 725.24 L381.49 725.99 L381.05 726.49 L380.41 727.24 L379.77 727.99 L379.13 728.74 L378.72 729.24 L378.10 729.99 L377.50 730.74 L376.91 731.49 L376.54 731.99 L375.99 732.74 L375.47 733.49 L374.97 734.24 L374.64 734.74 L374.18 735.49 L373.73 736.24 L373.30 736.99 L372.89 737.74 L372.63 738.24 L372.26 738.99 L371.88 739.74 L371.49 740.49 L371.22 740.99 L370.79 741.74 L370.36 742.49 L369.93 743.24 L369.65 743.74 L369.24 744.49 L368.84 745.24 L368.46 745.99 L368.21 746.49 L367.84 747.24 L367.48 747.99 L367.13 748.74 L366.89 749.24 L366.55 749.99 L366.21 750.74 L365.88 751.49 L365.66 751.99 L365.33 752.74 L365.00 753.49 L364.68 754.24 L364.37 754.99 L364.16 755.49 L363.86 756.24 L363.56 756.99 L363.27 757.74 L363.09 758.24 L362.82 758.99 L362.56 759.74 L362.31 760.49 L362.15 760.99 L361.91 761.74 L361.68 762.49 L361.46 763.24 L361.32 763.74 L361.12 764.49 L360.92 765.24 L360.74 765.99 L360.62 766.49 L360.46 767.24 L360.31 767.99 L360.17 768.74 L360.08 769.24 L359.96 769.99 L359.85 770.74 L359.76 771.49 L359.73 772.24 L358.53 772.24 L358.49 771.49 L358.41 770.74 L358.29 769.99 L358.17 769.24 L358.08 768.74 L357.94 767.99 L357.80 767.24 L357.63 766.49 L357.52 765.99 L357.33 765.24 L357.14 764.49 L356.93 763.74 L356.79 763.24 L356.57 762.49 L356.34 761.74 L356.11 760.99 L355.95 760.49 L355.70 759.74 L355.43 758.99 L355.16 758.24 L354.98 757.74 L354.69 756.99 L354.40 756.24 L354.09 755.49 L353.89 754.99 L353.57 754.24 L353.25 753.49 L352.93 752.74 L352.60 751.99 L352.38 751.49 L352.04 750.74 L351.70 749.99 L351.36 749.24 L351.13 748.74 L350.77 747.99 L350.41 747.24 L350.05 746.49 L349.79 745.99 L349.41 745.24 L349.01 744.49 L348.60 743.74 L348.32 743.24 L347.89 742.49 L347.46 741.74 L347.04 740.99 L346.76 740.49 L346.37 739.74 L346.00 738.99 L345.62 738.24 L345.36 737.74 L344.96 736.99 L344.53 736.24 L344.08 735.49 L343.61 734.74 L343.29 734.24 L342.79 733.49 L342.26 732.74 L341.72 731.99 L341.34 731.49 L340.75 730.74 L340.15 729.99 L339.54 729.24 L339.12 728.74 L338.49 727.99 L337.85 727.24 L337.20 726.49 L336.77 725.99 L336.12 725.24 L335.47 724.49 L334.82 723.74 L334.40 723.24 L333.76 722.49 L333.14 721.74 L332.52 720.99 L332.11 720.49 L331.50 719.74 L330.88 718.99 L330.26 718.24 L329.63 717.49 L329.22 716.99 L328.61 716.24 L328.01 715.49 L327.43 714.74 L327.07 714.24 L326.54 713.49 L326.04 712.74 L325.57 711.99 L325.27 711.49 L324.84 710.74 L324.43 709.99 L324.03 709.24 L323.78 708.74 L323.42 707.99 L323.09 707.24 L322.80 706.49 L322.63 705.99 L322.42 705.24 L322.26 704.49 L322.17 703.74 L322.15 703.24 L322.16 702.49 L322.23 701.74 L322.34 700.99 L322.49 700.24 L322.61 699.74 L322.81 698.99 L323.04 698.24 L323.30 697.49 L323.48 696.99 L323.78 696.24 L324.10 695.49 L324.45 694.74 L324.69 694.24 L325.07 693.49 L325.46 692.74 L325.85 691.99 L326.13 691.49 L326.54 690.74 L326.97 689.99 L327.41 689.24 L327.72 688.74 L328.19 687.99 L328.68 687.24 L329.19 686.49 L329.54 685.99 L330.08 685.24 L330.63 684.49 L331.19 683.74 L331.76 682.99 L332.15 682.49 L332.74 681.74 L333.34 680.99 L333.96 680.24 L334.38 679.74 L335.02 678.99 L335.68 678.24 L336.36 677.49 L336.81 676.99 L337.50 676.24 L338.19 675.49 L338.89 674.74 L339.35 674.24 L340.05 673.49 L340.74 672.74 L341.42 671.99 L341.87 671.49 L342.55 670.74 L343.23 669.99 L343.91 669.24 L344.36 668.74 L345.03 667.99 L345.71 667.24 L346.38 666.49 L347.06 665.74 L347.51 665.24 L348.18 664.49 L348.86 663.74 L349.53 662.99 L349.98 662.49 L350.66 661.74 L351.33 660.99 L352.01 660.24 L352.45 659.74 L353.13 658.99 L353.79 658.24 L354.44 657.49 L354.86 656.99 L355.45 656.24 L355.98 655.49 L356.45 654.74 L356.74 654.24 L357.12 653.49 L357.48 652.74 L357.79 651.99 L357.98 651.49 L358.23 650.74 L358.42 649.99 L358.52 649.24 L358.53 648.74 Z" fill="#3a923a" stroke="#3d3d3d" stroke-width="0.7" stroke-opacity="0.8"/>
<line x1="359.13" y1="672.09" x2="359.13" y2="749.45" stroke="#3d3d3d" stroke-width="2.0"/>
<rect x="356.43" y="690.88" width="5.4" height="26.45" fill="#3d3d3d"/>
<circle cx="359.13" cy="703.10" r="2.6" fill="#fff"/>
<path d="M453.66 598.35 L453.67 599.10 L453.74 600.10 L453.83 601.10 L453.93 602.10 L454.03 603.10 L454.14 604.10 L454.23 604.85 L454.35 605.85 L454.48 606.85 L454.62 607.85 L454.76 608.85 L454.89 609.85 L454.99 610.60 L455.12 611.60 L455.24 612.60 L455.36 613.60 L455.47 614.60 L455.57 615.60 L455.67 616.60 L455.74 617.35 L455.83 618.35 L455.92 619.35 L456.00 620.35 L456.08 621.35 L456.14 622.35 L456.19 623.10 L456.24 624.10 L456.29 625.10 L456.33 626.10 L456.37 627.10 L456.41 628.10 L456.44 628.85 L456.47 629.85 L456.49 630.85 L456.51 631.85 L456.51 632.85 L456.50 633.85 L456.47 634.85 L456.44 635.60 L456.39 636.60 L456.32 637.60 L456.26 638.60 L456.20 639.60 L456.15 640.60 L456.12 641.35 L456.10 642.35 L456.11 643.35 L456.15 644.35 L456.21 645.35 L456.28 646.35 L456.38 647.35 L456.46 648.10 L456.58 649.10 L456.70 650.10 L456.84 651.10 L456.98 652.10 L457.15 653.10 L457.29 653.85 L457.50 654.85 L457.73 655.85 L457.99 656.85 L458.27 657.85 L458.57 658.85 L458.82 659.60 L459.18 660.60 L459.58 661.60 L460.04 662.60 L460.55 663.60 L461.11 664.60 L461.72 665.60 L462.19 666.35 L462.83 667.35 L463.48 668.35 L464.14 669.35 L464.79 670.35 L465.46 671.35 L465.97 672.10 L466.66 673.10 L467.36 674.10 L468.08 675.10 L468.79 676.10 L469.51 677.10 L470.23 678.10 L470.76 678.85 L471.48 679.85 L472.20 680.85 L472.93 681.85 L473.66 682.85 L474.38 683.85 L474.92 684.60 L475.60 685.60 L476.27 686.60 L476.89 687.60 L477.49 688.60 L478.06 689.60 L478.47 690.35 L478.99 691.35 L479.50 692.35 L479.99 693.35 L480.47 694.35 L480.94 695.35 L481.40 696.35 L481.74 697.10 L482.19 698.10 L482.64 699.10 L483.08 700.10 L483.51 701.10 L483.93 702.10 L484.23 702.85 L484.61 703.85 L484.96 704.85 L485.27 705.85 L485.57 706.85 L485.85 707.85 L486.12 708.85 L486.31 709.60 L486.56 710.60 L486.77 711.60 L486.95 712.60 L487.09 713.60 L487.18 714.60 L487.21 715.35 L487.21 716.35 L487.18 717.35 L487.10 718.35 L486.98 719.35 L486.80 720.35 L486.61 721.10 L486.27 722.10 L485.85 723.10 L485.36 724.10 L484.83 725.10 L484.30 726.10 L483.77 727.10 L483.38 727.85 L482.85 728.85 L482.31 729.85 L481.74 730.85 L481.14 731.85 L480.51 732.85 L480.02 733.60 L479.35 734.60 L478.65 735.60 L477.94 736.60 L477.22 737.60 L476.48 738.60 L475.74 739.60 L475.17 740.35 L474.40 741.35 L473.62 742.35 L472.82 743.35 L472.01 744.35 L471.19 745.35 L470.58 746.10 L469.76 747.10 L468.95 748.10 L468.13 749.10 L467.31 750.10 L466.48 751.10 L465.86 751.85 L465.03 752.85 L464.22 753.85 L463.42 754.85 L462.65 755.85 L461.91 756.85 L461.19 757.85 L460.68 758.60 L460.01 759.60 L459.37 760.60 L458.74 761.60 L458.14 762.60 L457.55 763.60 L457.13 764.35 L456.57 765.35 L456.02 766.35 L455.47 767.35 L454.91 768.35 L454.33 769.35 L453.73 770.35 L452.39 770.35 L451.79 769.35 L451.22 768.35 L450.65 767.35 L450.10 766.35 L449.55 765.35 L449.00 764.35 L448.57 763.60 L447.99 762.60 L447.38 761.60 L446.76 760.60 L446.11 759.60 L445.45 758.60 L444.93 757.85 L444.22 756.85 L443.48 755.85 L442.71 754.85 L441.91 753.85 L441.09 752.85 L440.27 751.85 L439.64 751.10 L438.82 750.10 L437.99 749.10 L437.18 748.10 L436.36 747.10 L435.55 746.10 L434.93 745.35 L434.12 744.35 L433.31 743.35 L432.51 742.35 L431.72 741.35 L430.96 740.35 L430.39 739.60 L429.64 738.60 L428.91 737.60 L428.19 736.60 L427.47 735.60 L426.78 734.60 L426.10 733.60 L425.61 732.85 L424.99 731.85 L424.39 730.85 L423.82 729.85 L423.27 728.85 L422.74 727.85 L422.35 727.10 L421.83 726.10 L421.29 725.10 L420.76 724.10 L420.27 723.10 L419.85 722.10 L419.52 721.10 L419.33 720.35 L419.15 719.35 L419.02 718.35 L418.95 717.35 L418.91 716.35 L418.92 715.35 L418.95 714.60 L419.04 713.60 L419.17 712.60 L419.35 711.60 L419.57 710.60 L419.81 709.60 L420.01 708.85 L420.28 707.85 L420.56 706.85 L420.85 705.85 L421.17 704.85 L421.52 703.85 L421.90 702.85 L422.20 702.10 L422.61 701.10 L423.05 700.10 L423.49 699.10 L423.94 698.10 L424.39 697.10 L424.73 696.35 L425.19 695.35 L425.65 694.35 L426.13 693.35 L426.63 692.35 L427.13 691.35 L427.66 690.35 L428.07 689.60 L428.64 688.60 L429.23 687.60 L429.86 686.60 L430.52 685.60 L431.21 684.60 L431.74 683.85 L432.46 682.85 L433.19 681.85 L433.92 680.85 L434.65 679.85 L435.36 678.85 L435.90 678.10 L436.62 677.10 L437.33 676.10 L438.05 675.10 L438.76 674.10 L439.47 673.10 L440.16 672.10 L440.67 671.35 L441.33 670.35 L441.99 669.35 L442.64 668.35 L443.30 667.35 L443.94 666.35 L444.41 665.60 L445.01 664.60 L445.58 663.60 L446.09 662.60 L446.55 661.60 L446.95 660.60 L447.31 659.60 L447.55 658.85 L447.86 657.85 L448.14 656.85 L448.39 655.85 L448.63 654.85 L448.84 653.85 L448.97 653.10 L449.14 652.10 L449.29 651.10 L449.43 650.10 L449.55 649.10 L449.67 648.10 L449.75 647.35 L449.84 646.35 L449.92 645.35 L449.98 644.35 L450.01 643.35 L450.02 642.35 L450.01 641.35 L449.98 640.60 L449.93 639.60 L449.87 638.60 L449.80 637.60 L449.74 636.60 L449.68 635.60 L449.65 634.85 L449.62 633.85 L449.61 632.85 L449.62 631.85 L449.63 630.85 L449.66 629.85 L449.69 628.85 L449.71 628.10 L449.75 627.10 L449.79 626.10 L449.84 625.10 L449.88 624.10 L449.94 623.10 L449.98 622.35 L450.05 621.35 L450.13 620.35 L450.21 619.35 L450.30 618.35 L450.39 617.35 L450.46 616.60 L450.56 615.60 L450.66 614.60 L450.77 613.60 L450.88 612.60 L451.01 611.60 L451.13 610.60 L451.23 609.85 L451.37 608.85 L451.51 607.85 L451.65 606.85 L451.78 605.85 L451.90 604.85 L451.99 604.10 L452.09 603.10 L452.19 602.10 L452.29 601.10 L452.38 600.10 L452.45 599.10 L452.46 598.35 Z" fill="#3274a1" stroke="#3d3d3d" stroke-width="0.7" stroke-opacity="0.8"/>
<line x1="453.06" y1="668.94" x2="453.06" y2="740.36" stroke="#3d3d3d" stroke-width="2.0"/>
<rect x="450.36" y="695.76" width="5.4" height="24.26" fill="#3d3d3d"/>
<circle cx="453.06" cy="710.90" r="2.6" fill="#fff"/>
<path d="M546.88 581.02 L546.94 581.77 L547.06 582.77 L547.16 583.52 L547.29 584.52 L547.38 585.27 L547.51 586.27 L547.60 587.02 L547.72 588.02 L547.82 588.77 L547.94 589.77 L548.07 590.77 L548.16 591.52 L548.29 592.52 L548.38 593.27 L548.50 594.27 L548.59 595.02 L548.71 596.02 L548.79 596.77 L548.91 597.77 L548.99 598.52 L549.10 599.52 L549.22 600.52 L549.30 601.27 L549.41 602.27 L549.50 603.02 L549.60 604.02 L549.67 604.77 L549.76 605.77 L549.82 606.52 L549.89 607.52 L549.94 608.27 L549.99 609.27 L550.04 610.27 L550.07 611.02 L550.10 612.02 L550.13 612.77 L550.17 613.77 L550.19 614.52 L550.23 615.52 L550.26 616.27 L550.31 617.27 L550.34 618.02 L550.39 619.02 L550.45 620.02 L550.49 620.77 L550.55 621.77 L550.59 622.52 L550.66 623.52 L550.71 624.27 L550.78 625.27 L550.84 626.02 L550.92 627.02 L551.01 628.02 L551.08 628.77 L551.19 629.77 L551.27 630.52 L551.39 631.52 L551.49 632.27 L551.64 633.27 L551.76 634.02 L551.94 635.02 L552.09 635.77 L552.33 636.77 L552.61 637.77 L552.85 638.52 L553.19 639.52 L553.46 640.27 L553.84 641.27 L554.13 642.02 L554.52 643.02 L554.82 643.77 L555.21 644.77 L555.52 645.52 L555.92 646.52 L556.34 647.52 L556.66 648.27 L557.10 649.27 L557.44 650.02 L557.90 651.02 L558.25 651.77 L558.73 652.77 L559.10 653.52 L559.61 654.52 L560.00 655.27 L560.54 656.27 L561.08 657.27 L561.51 658.02 L562.08 659.02 L562.51 659.77 L563.10 660.77 L563.54 661.52 L564.14 662.52 L564.59 663.27 L565.20 664.27 L565.83 665.27 L566.30 666.02 L566.94 667.02 L567.42 667.77 L568.07 668.77 L568.56 669.52 L569.23 670.52 L569.73 671.27 L570.41 672.27 L570.93 673.02 L571.64 674.02 L572.36 675.02 L572.90 675.77 L573.62 676.77 L574.16 677.52 L574.85 678.52 L575.36 679.27 L576.01 680.27 L576.49 681.02 L577.10 682.02 L577.56 682.77 L578.14 683.77 L578.72 684.77 L579.13 685.52 L579.67 686.52 L580.05 687.27 L580.54 688.27 L580.89 689.02 L581.34 690.02 L581.66 690.77 L582.08 691.77 L582.36 692.52 L582.68 693.52 L582.89 694.52 L582.98 695.27 L583.01 696.27 L582.97 697.02 L582.86 698.02 L582.74 698.77 L582.55 699.77 L582.38 700.52 L582.13 701.52 L581.82 702.52 L581.55 703.27 L581.11 704.27 L580.71 705.02 L580.07 706.02 L579.53 706.77 L578.73 707.77 L578.09 708.52 L577.20 709.52 L576.52 710.27 L575.59 711.27 L574.63 712.27 L573.90 713.02 L572.89 714.02 L572.11 714.77 L571.03 715.77 L570.20 716.52 L569.06 717.52 L568.18 718.27 L566.99 719.27 L566.09 720.02 L564.88 721.02 L563.67 722.02 L562.76 722.77 L561.55 723.77 L560.66 724.52 L559.49 725.52 L558.62 726.27 L557.50 727.27 L556.70 728.02 L555.69 729.02 L554.99 729.77 L554.09 730.77 L553.17 731.77 L552.46 732.52 L551.51 733.52 L550.82 734.27 L549.95 735.27 L549.33 736.02 L548.56 737.02 L548.03 737.77 L547.40 738.77 L546.90 739.77 L545.66 739.77 L545.15 738.77 L544.53 737.77 L544.00 737.02 L543.22 736.02 L542.60 735.27 L541.73 734.27 L541.04 733.52 L540.09 732.52 L539.38 731.77 L538.47 730.77 L537.57 729.77 L536.86 729.02 L535.86 728.02 L535.05 727.27 L533.93 726.27 L533.07 725.52 L531.90 724.52 L531.00 723.77 L529.80 722.77 L528.89 722.02 L527.67 721.02 L526.46 720.02 L525.56 719.27 L524.37 718.27 L523.50 717.52 L522.36 716.52 L521.53 715.77 L520.45 714.77 L519.67 714.02 L518.66 713.02 L517.92 712.27 L516.97 711.27 L516.04 710.27 L515.36 709.52 L514.47 708.52 L513.83 707.77 L513.03 706.77 L512.48 706.02 L511.84 705.02 L511.44 704.27 L511.00 703.27 L510.73 702.52 L510.43 701.52 L510.17 700.52 L510.00 699.77 L509.81 698.77 L509.69 698.02 L509.58 697.02 L509.55 696.27 L509.57 695.27 L509.66 694.52 L509.88 693.52 L510.20 692.52 L510.48 691.77 L510.89 690.77 L511.22 690.02 L511.66 689.02 L512.01 688.27 L512.50 687.27 L512.88 686.52 L513.42 685.52 L513.84 684.77 L514.41 683.77 L515.00 682.77 L515.45 682.02 L516.07 681.02 L516.54 680.27 L517.19 679.27 L517.70 678.52 L518.40 677.52 L518.93 676.77 L519.65 675.77 L520.19 675.02 L520.91 674.02 L521.62 673.02 L522.14 672.27 L522.82 671.27 L523.33 670.52 L523.99 669.52 L524.48 668.77 L525.14 667.77 L525.62 667.02 L526.26 666.02 L526.73 665.27 L527.35 664.27 L527.96 663.27 L528.42 662.52 L529.01 661.52 L529.46 660.77 L530.04 659.77 L530.48 659.02 L531.05 658.02 L531.47 657.27 L532.02 656.27 L532.55 655.27 L532.94 654.52 L533.45 653.52 L533.82 652.77 L534.30 651.77 L534.66 651.02 L535.12 650.02 L535.45 649.27 L535.89 648.27 L536.21 647.52 L536.63 646.52 L537.04 645.52 L537.34 644.77 L537.74 643.77 L538.03 643.02 L538.42 642.02 L538.72 641.27 L539.09 640.27 L539.37 639.52 L539.71 638.52 L539.94 637.77 L540.22 636.77 L540.46 635.77 L540.62 635.02 L540.80 634.02 L540.92 633.27 L541.06 632.27 L541.16 631.52 L541.28 630.52 L541.37 629.77 L541.47 628.77 L541.54 628.02 L541.63 627.02 L541.71 626.02 L541.77 625.27 L541.85 624.27 L541.90 623.52 L541.96 622.52 L542.01 621.77 L542.07 620.77 L542.11 620.02 L542.16 619.02 L542.21 618.02 L542.25 617.27 L542.29 616.27 L542.32 615.52 L542.36 614.52 L542.39 613.77 L542.42 612.77 L542.45 612.02 L542.49 611.02 L542.52 610.27 L542.56 609.27 L542.62 608.27 L542.66 607.52 L542.73 606.52 L542.79 605.77 L542.88 604.77 L542.96 604.02 L543.06 603.02 L543.14 602.27 L543.25 601.27 L543.34 600.52 L543.45 599.52 L543.56 598.52 L543.65 597.77 L543.76 596.77 L543.85 596.02 L543.96 595.02 L544.05 594.27 L544.17 593.27 L544.27 592.52 L544.39 591.52 L544.48 590.77 L544.61 589.77 L544.74 588.77 L544.83 588.02 L544.95 587.02 L545.05 586.27 L545.17 585.27 L545.26 584.52 L545.39 583.52 L545.49 582.77 L545.61 581.77 L545.68 581.02 Z" fill="#e1812c" stroke="#3d3d3d" stroke-width="0.7" stroke-opacity="0.8"/>
<line x1="546.28" y1="648.51" x2="546.28" y2="709.99" stroke="#3d3d3d" stroke-width="2.0"/>
<rect x="543.58" y="669.86" width="5.4" height="31.01" fill="#3d3d3d"/>
<circle cx="546.28" cy="693.21" r="2.6" fill="#fff"/>
<path d="M640.09 598.35 L640.17 599.10 L640.30 600.10 L640.44 601.10 L640.57 602.10 L640.69 603.10 L640.81 604.10 L640.90 604.85 L641.02 605.85 L641.14 606.85 L641.25 607.85 L641.36 608.85 L641.47 609.85 L641.56 610.60 L641.67 611.60 L641.78 612.60 L641.88 613.60 L641.99 614.60 L642.10 615.60 L642.22 616.60 L642.30 617.35 L642.42 618.35 L642.54 619.35 L642.64 620.35 L642.74 621.35 L642.83 622.35 L642.88 623.10 L642.94 624.10 L642.98 625.10 L643.01 626.10 L643.04 627.10 L643.07 628.10 L643.08 628.85 L643.10 629.85 L643.12 630.85 L643.13 631.85 L643.13 632.85 L643.12 633.85 L643.11 634.85 L643.09 635.60 L643.05 636.60 L643.02 637.60 L642.98 638.60 L642.94 639.60 L642.91 640.60 L642.90 641.35 L642.89 642.35 L642.91 643.35 L642.95 644.35 L643.01 645.35 L643.10 646.35 L643.21 647.35 L643.30 648.10 L643.43 649.10 L643.57 650.10 L643.71 651.10 L643.87 652.10 L644.05 653.10 L644.20 653.85 L644.42 654.85 L644.66 655.85 L644.93 656.85 L645.22 657.85 L645.53 658.85 L645.78 659.60 L646.15 660.60 L646.55 661.60 L647.01 662.60 L647.51 663.60 L648.07 664.60 L648.66 665.60 L649.12 666.35 L649.74 667.35 L650.38 668.35 L651.03 669.35 L651.68 670.35 L652.34 671.35 L652.85 672.10 L653.54 673.10 L654.24 674.10 L654.96 675.10 L655.67 676.10 L656.39 677.10 L657.11 678.10 L657.64 678.85 L658.36 679.85 L659.08 680.85 L659.80 681.85 L660.52 682.85 L661.24 683.85 L661.77 684.60 L662.46 685.60 L663.13 686.60 L663.78 687.60 L664.40 688.60 L665.00 689.60 L665.45 690.35 L666.02 691.35 L666.58 692.35 L667.12 693.35 L667.64 694.35 L668.14 695.35 L668.62 696.35 L668.97 697.10 L669.43 698.10 L669.87 699.10 L670.30 700.10 L670.71 701.10 L671.11 702.10 L671.39 702.85 L671.74 703.85 L672.06 704.85 L672.35 705.85 L672.62 706.85 L672.88 707.85 L673.12 708.85 L673.30 709.60 L673.52 710.60 L673.71 711.60 L673.87 712.60 L673.99 713.60 L674.07 714.60 L674.09 715.35 L674.08 716.35 L674.02 717.35 L673.90 718.35 L673.73 719.35 L673.46 720.35 L673.19 721.10 L672.74 722.10 L672.19 723.10 L671.56 724.10 L670.91 725.10 L670.28 726.10 L669.67 727.10 L669.23 727.85 L668.64 728.85 L668.04 729.85 L667.42 730.85 L666.78 731.85 L666.12 732.85 L665.61 733.60 L664.92 734.60 L664.21 735.60 L663.48 736.60 L662.75 737.60 L662.01 738.60 L661.25 739.60 L660.68 740.35 L659.90 741.35 L659.11 742.35 L658.30 743.35 L657.49 744.35 L656.68 745.35 L656.07 746.10 L655.26 747.10 L654.46 748.10 L653.67 749.10 L652.88 750.10 L652.09 751.10 L651.50 751.85 L650.73 752.85 L649.96 753.85 L649.20 754.85 L648.47 755.85 L647.76 756.85 L647.07 757.85 L646.57 758.60 L645.92 759.60 L645.28 760.60 L644.66 761.60 L644.06 762.60 L643.47 763.60 L643.04 764.35 L642.49 765.35 L641.96 766.35 L641.45 767.35 L640.97 768.35 L640.52 769.35 L640.13 770.35 L638.85 770.35 L638.46 769.35 L638.01 768.35 L637.53 767.35 L637.03 766.35 L636.50 765.35 L635.94 764.35 L635.51 763.60 L634.93 762.60 L634.32 761.60 L633.70 760.60 L633.07 759.60 L632.41 758.60 L631.91 757.85 L631.22 756.85 L630.51 755.85 L629.78 754.85 L629.03 753.85 L628.26 752.85 L627.48 751.85 L626.89 751.10 L626.10 750.10 L625.31 749.10 L624.52 748.10 L623.72 747.10 L622.91 746.10 L622.31 745.35 L621.49 744.35 L620.68 743.35 L619.88 742.35 L619.08 741.35 L618.30 740.35 L617.73 739.60 L616.98 738.60 L616.23 737.60 L615.50 736.60 L614.78 735.60 L614.07 734.60 L613.37 733.60 L612.86 732.85 L612.20 731.85 L611.56 730.85 L610.95 729.85 L610.35 728.85 L609.76 727.85 L609.31 727.10 L608.71 726.10 L608.07 725.10 L607.42 724.10 L606.79 723.10 L606.24 722.10 L605.79 721.10 L605.52 720.35 L605.26 719.35 L605.08 718.35 L604.97 717.35 L604.90 716.35 L604.89 715.35 L604.92 714.60 L604.99 713.60 L605.11 712.60 L605.27 711.60 L605.47 710.60 L605.68 709.60 L605.86 708.85 L606.10 707.85 L606.36 706.85 L606.63 705.85 L606.92 704.85 L607.24 703.85 L607.60 702.85 L607.88 702.10 L608.27 701.10 L608.69 700.10 L609.12 699.10 L609.56 698.10 L610.01 697.10 L610.36 696.35 L610.84 695.35 L611.34 694.35 L611.86 693.35 L612.41 692.35 L612.96 691.35 L613.54 690.35 L613.98 689.60 L614.58 688.60 L615.20 687.60 L615.85 686.60 L616.52 685.60 L617.21 684.60 L617.74 683.85 L618.46 682.85 L619.18 681.85 L619.90 680.85 L620.62 679.85 L621.34 678.85 L621.88 678.10 L622.59 677.10 L623.31 676.10 L624.03 675.10 L624.74 674.10 L625.44 673.10 L626.13 672.10 L626.64 671.35 L627.30 670.35 L627.95 669.35 L628.60 668.35 L629.24 667.35 L629.87 666.35 L630.33 665.60 L630.92 664.60 L631.47 663.60 L631.98 662.60 L632.43 661.60 L632.83 660.60 L633.20 659.60 L633.45 658.85 L633.76 657.85 L634.05 656.85 L634.32 655.85 L634.56 654.85 L634.78 653.85 L634.93 653.10 L635.11 652.10 L635.27 651.10 L635.42 650.10 L635.56 649.10 L635.69 648.10 L635.77 647.35 L635.88 646.35 L635.97 645.35 L636.03 644.35 L636.07 643.35 L636.09 642.35 L636.09 641.35 L636.07 640.60 L636.04 639.60 L636.01 638.60 L635.97 637.60 L635.93 636.60 L635.89 635.60 L635.88 634.85 L635.86 633.85 L635.85 632.85 L635.86 631.85 L635.87 630.85 L635.88 629.85 L635.90 628.85 L635.92 628.10 L635.94 627.10 L635.97 626.10 L636.01 625.10 L636.05 624.10 L636.10 623.10 L636.16 622.35 L636.24 621.35 L636.34 620.35 L636.45 619.35 L636.56 618.35 L636.68 617.35 L636.77 616.60 L636.88 615.60 L636.99 614.60 L637.10 613.60 L637.21 612.60 L637.32 611.60 L637.43 610.60 L637.51 609.85 L637.62 608.85 L637.73 607.85 L637.85 606.85 L637.96 605.85 L638.08 604.85 L638.17 604.10 L638.29 603.10 L638.42 602.10 L638.55 601.10 L638.69 600.10 L638.81 599.10 L638.89 598.35 Z" fill="#3a923a" stroke="#3d3d3d" stroke-width="0.7" stroke-opacity="0.8"/>
<line x1="639.49" y1="668.94" x2="639.49" y2="740.91" stroke="#3d3d3d" stroke-width="2.0"/>
<rect x="636.79" y="696.85" width="5.4" height="23.17" fill="#3d3d3d"/>
<circle cx="639.49" cy="711.81" r="2.6" fill="#fff"/>
<path d="M733.12 533.11 L733.18 534.11 L733.29 535.11 L733.42 536.11 L733.55 537.11 L733.72 538.36 L733.87 539.36 L734.02 540.36 L734.17 541.36 L734.36 542.61 L734.51 543.61 L734.65 544.61 L734.80 545.61 L734.94 546.61 L735.13 547.86 L735.28 548.86 L735.42 549.86 L735.57 550.86 L735.73 552.11 L735.85 553.11 L735.95 554.11 L736.04 555.11 L736.11 556.11 L736.19 557.36 L736.24 558.36 L736.29 559.36 L736.34 560.36 L736.38 561.61 L736.40 562.61 L736.42 563.61 L736.42 564.61 L736.40 565.61 L736.36 566.86 L736.31 567.86 L736.25 568.86 L736.18 569.86 L736.09 571.11 L736.01 572.11 L735.92 573.11 L735.83 574.11 L735.73 575.11 L735.58 576.36 L735.46 577.36 L735.33 578.36 L735.22 579.36 L735.11 580.61 L735.04 581.61 L735.01 582.61 L734.99 583.61 L734.99 584.61 L734.99 585.86 L735.00 586.86 L735.01 587.86 L735.02 588.86 L735.04 590.11 L735.07 591.11 L735.11 592.11 L735.19 593.11 L735.29 594.11 L735.49 595.36 L735.68 596.36 L735.91 597.36 L736.16 598.36 L736.52 599.61 L736.84 600.61 L737.21 601.61 L737.66 602.61 L738.19 603.61 L738.95 604.86 L739.63 605.86 L740.34 606.86 L741.08 607.86 L742.01 609.11 L742.75 610.11 L743.50 611.11 L744.27 612.11 L745.06 613.11 L746.06 614.36 L746.88 615.36 L747.70 616.36 L748.52 617.36 L749.54 618.61 L750.34 619.61 L751.15 620.61 L751.95 621.61 L752.75 622.61 L753.74 623.86 L754.53 624.86 L755.30 625.86 L756.05 626.86 L756.96 628.11 L757.66 629.11 L758.35 630.11 L759.01 631.11 L759.83 632.36 L760.47 633.36 L761.09 634.36 L761.71 635.36 L762.32 636.36 L763.08 637.61 L763.70 638.61 L764.32 639.61 L764.94 640.61 L765.70 641.86 L766.28 642.86 L766.82 643.86 L767.32 644.86 L767.76 645.86 L768.25 647.11 L768.60 648.11 L768.93 649.11 L769.23 650.11 L769.53 651.36 L769.70 652.36 L769.80 653.36 L769.81 654.36 L769.76 655.36 L769.60 656.61 L769.41 657.61 L769.18 658.61 L768.92 659.61 L768.53 660.86 L768.17 661.86 L767.75 662.86 L767.27 663.86 L766.76 664.86 L766.07 666.11 L765.49 667.11 L764.90 668.11 L764.29 669.11 L763.51 670.36 L762.87 671.36 L762.19 672.36 L761.48 673.36 L760.73 674.36 L759.77 675.61 L758.97 676.61 L758.15 677.61 L757.33 678.61 L756.30 679.86 L755.49 680.86 L754.69 681.86 L753.90 682.86 L753.11 683.86 L752.12 685.11 L751.34 686.11 L750.56 687.11 L749.79 688.11 L748.84 689.36 L748.07 690.36 L747.31 691.36 L746.56 692.36 L745.82 693.36 L744.91 694.61 L744.21 695.61 L743.53 696.61 L742.86 697.61 L742.04 698.86 L741.40 699.86 L740.77 700.86 L740.17 701.86 L739.58 702.86 L738.89 704.11 L738.36 705.11 L737.87 706.11 L737.39 707.11 L736.83 708.36 L736.40 709.36 L735.98 710.36 L735.59 711.36 L735.22 712.36 L734.80 713.61 L734.51 714.61 L734.24 715.61 L734.00 716.61 L733.73 717.86 L733.53 718.86 L733.36 719.86 L733.21 720.86 L733.12 722.11 L731.92 722.11 L731.83 720.86 L731.68 719.86 L731.50 718.86 L731.30 717.86 L731.03 716.61 L730.79 715.61 L730.52 714.61 L730.23 713.61 L729.81 712.36 L729.44 711.36 L729.05 710.36 L728.64 709.36 L728.20 708.36 L727.64 707.11 L727.17 706.11 L726.67 705.11 L726.14 704.11 L725.45 702.86 L724.87 701.86 L724.26 700.86 L723.63 699.86 L722.99 698.86 L722.17 697.61 L721.50 696.61 L720.82 695.61 L720.12 694.61 L719.21 693.36 L718.47 692.36 L717.72 691.36 L716.96 690.36 L716.20 689.36 L715.24 688.11 L714.47 687.11 L713.69 686.11 L712.91 685.11 L711.93 683.86 L711.14 682.86 L710.34 681.86 L709.54 680.86 L708.73 679.86 L707.70 678.61 L706.88 677.61 L706.06 676.61 L705.27 675.61 L704.30 674.36 L703.55 673.36 L702.84 672.36 L702.16 671.36 L701.52 670.36 L700.74 669.11 L700.14 668.11 L699.54 667.11 L698.97 666.11 L698.27 664.86 L697.76 663.86 L697.28 662.86 L696.86 661.86 L696.50 660.86 L696.11 659.61 L695.85 658.61 L695.62 657.61 L695.44 656.61 L695.28 655.36 L695.22 654.36 L695.23 653.36 L695.33 652.36 L695.50 651.36 L695.80 650.11 L696.10 649.11 L696.43 648.11 L696.78 647.11 L697.27 645.86 L697.71 644.86 L698.21 643.86 L698.75 642.86 L699.33 641.86 L700.09 640.61 L700.71 639.61 L701.33 638.61 L701.95 637.61 L702.71 636.36 L703.32 635.36 L703.94 634.36 L704.57 633.36 L705.20 632.36 L706.02 631.11 L706.68 630.11 L707.37 629.11 L708.07 628.11 L708.98 626.86 L709.73 625.86 L710.50 624.86 L711.29 623.86 L712.28 622.61 L713.08 621.61 L713.88 620.61 L714.69 619.61 L715.49 618.61 L716.51 617.36 L717.33 616.36 L718.15 615.36 L718.97 614.36 L719.98 613.11 L720.76 612.11 L721.53 611.11 L722.28 610.11 L723.02 609.11 L723.95 607.86 L724.69 606.86 L725.40 605.86 L726.08 604.86 L726.84 603.61 L727.37 602.61 L727.82 601.61 L728.19 600.61 L728.52 599.61 L728.87 598.36 L729.12 597.36 L729.35 596.36 L729.55 595.36 L729.74 594.11 L729.85 593.11 L729.92 592.11 L729.96 591.11 L729.99 590.11 L730.01 588.86 L730.02 587.86 L730.03 586.86 L730.04 585.86 L730.04 584.61 L730.04 583.61 L730.03 582.61 L729.99 581.61 L729.92 580.61 L729.81 579.36 L729.70 578.36 L729.57 577.36 L729.45 576.36 L729.30 575.11 L729.20 574.11 L729.11 573.11 L729.02 572.11 L728.94 571.11 L728.85 569.86 L728.78 568.86 L728.72 567.86 L728.67 566.86 L728.63 565.61 L728.61 564.61 L728.61 563.61 L728.63 562.61 L728.65 561.61 L728.70 560.36 L728.74 559.36 L728.79 558.36 L728.84 557.36 L728.92 556.11 L728.99 555.11 L729.08 554.11 L729.18 553.11 L729.30 552.11 L729.46 550.86 L729.61 549.86 L729.76 548.86 L729.90 547.86 L730.09 546.61 L730.23 545.61 L730.38 544.61 L730.53 543.61 L730.67 542.61 L730.86 541.36 L731.02 540.36 L731.17 539.36 L731.31 538.36 L731.48 537.11 L731.61 536.11 L731.74 535.11 L731.85 534.11 L731.92 533.11 Z" fill="#3274a1" stroke="#3d3d3d" stroke-width="0.7" stroke-opacity="0.8"/>
<line x1="732.52" y1="630.52" x2="732.52" y2="689.75" stroke="#3d3d3d" stroke-width="2.0"/>
<rect x="729.82" y="639.64" width="5.4" height="32.11" fill="#3d3d3d"/>
<circle cx="732.52" cy="652.95" r="2.6" fill="#fff"/>
<path d="M826.51 589.66 L826.55 590.41 L826.62 591.16 L826.72 591.91 L826.87 592.91 L826.99 593.66 L827.12 594.41 L827.30 595.41 L827.44 596.16 L827.59 596.91 L827.76 597.66 L827.99 598.66 L828.18 599.41 L828.37 600.16 L828.62 601.16 L828.82 601.91 L829.01 602.66 L829.28 603.66 L829.48 604.41 L829.68 605.16 L829.88 605.91 L830.15 606.91 L830.35 607.66 L830.56 608.41 L830.83 609.41 L831.04 610.16 L831.25 610.91 L831.46 611.66 L831.75 612.66 L831.96 613.41 L832.17 614.16 L832.45 615.16 L832.67 615.91 L832.88 616.66 L833.16 617.66 L833.37 618.41 L833.58 619.16 L833.80 619.91 L834.08 620.91 L834.30 621.66 L834.52 622.41 L834.83 623.41 L835.06 624.16 L835.30 624.91 L835.63 625.91 L835.89 626.66 L836.15 627.41 L836.42 628.16 L836.78 629.16 L837.06 629.91 L837.33 630.66 L837.71 631.66 L837.98 632.41 L838.26 633.16 L838.54 633.91 L838.90 634.91 L839.18 635.66 L839.44 636.41 L839.80 637.41 L840.06 638.16 L840.33 638.91 L840.67 639.91 L840.93 640.66 L841.18 641.41 L841.43 642.16 L841.76 643.16 L842.00 643.91 L842.25 644.66 L842.58 645.66 L842.82 646.41 L843.06 647.16 L843.38 648.16 L843.61 648.91 L843.84 649.66 L844.07 650.41 L844.38 651.41 L844.61 652.16 L844.83 652.91 L845.12 653.91 L845.34 654.66 L845.55 655.41 L845.77 656.16 L846.05 657.16 L846.26 657.91 L846.48 658.66 L846.77 659.66 L847.00 660.41 L847.24 661.16 L847.57 662.16 L847.82 662.91 L848.09 663.66 L848.37 664.41 L848.75 665.41 L849.05 666.16 L849.37 666.91 L849.80 667.91 L850.13 668.66 L850.47 669.41 L850.95 670.41 L851.31 671.16 L851.69 671.91 L852.07 672.66 L852.59 673.66 L853.00 674.41 L853.41 675.16 L853.98 676.16 L854.41 676.91 L854.84 677.66 L855.27 678.41 L855.84 679.41 L856.27 680.16 L856.70 680.91 L857.27 681.91 L857.69 682.66 L858.11 683.41 L858.67 684.41 L859.09 685.16 L859.50 685.91 L859.90 686.66 L860.40 687.66 L860.76 688.41 L861.10 689.16 L861.51 690.16 L861.80 690.91 L862.05 691.66 L862.35 692.66 L862.53 693.41 L862.66 694.16 L862.73 694.91 L862.75 695.91 L862.71 696.66 L862.64 697.41 L862.50 698.41 L862.38 699.16 L862.23 699.91 L862.07 700.66 L861.81 701.66 L861.57 702.41 L861.29 703.16 L860.82 704.16 L860.40 704.91 L859.92 705.66 L859.23 706.66 L858.67 707.41 L858.10 708.16 L857.51 708.91 L856.71 709.91 L856.08 710.66 L855.43 711.41 L854.53 712.41 L853.83 713.16 L853.10 713.91 L852.10 714.91 L851.33 715.66 L850.55 716.41 L849.75 717.16 L848.68 718.16 L847.86 718.91 L847.02 719.66 L845.87 720.66 L844.99 721.41 L844.09 722.16 L843.18 722.91 L841.96 723.91 L841.03 724.66 L840.11 725.41 L838.88 726.41 L837.97 727.16 L837.07 727.91 L835.87 728.91 L834.97 729.66 L834.08 730.41 L833.19 731.16 L832.01 732.16 L831.12 732.91 L830.25 733.66 L829.10 734.66 L828.28 735.41 L827.51 736.16 L826.53 737.16 L825.29 737.16 L824.32 736.16 L823.54 735.41 L822.73 734.66 L821.58 733.66 L820.70 732.91 L819.82 732.16 L818.64 731.16 L817.74 730.41 L816.85 729.66 L815.96 728.91 L814.76 727.91 L813.85 727.16 L812.94 726.41 L811.72 725.41 L810.79 724.66 L809.87 723.91 L808.64 722.91 L807.73 722.16 L806.84 721.41 L805.95 720.66 L804.81 719.66 L803.97 718.91 L803.15 718.16 L802.07 717.16 L801.28 716.41 L800.50 715.66 L799.73 714.91 L798.73 713.91 L798.00 713.16 L797.29 712.41 L796.39 711.41 L795.74 710.66 L795.12 709.91 L794.31 708.91 L793.72 708.16 L793.15 707.41 L792.60 706.66 L791.90 705.66 L791.43 704.91 L791.01 704.16 L790.54 703.16 L790.25 702.41 L790.01 701.66 L789.75 700.66 L789.59 699.91 L789.45 699.16 L789.32 698.41 L789.19 697.41 L789.12 696.66 L789.08 695.91 L789.10 694.91 L789.17 694.16 L789.30 693.41 L789.47 692.66 L789.77 691.66 L790.03 690.91 L790.31 690.16 L790.72 689.16 L791.06 688.41 L791.42 687.66 L791.93 686.66 L792.33 685.91 L792.74 685.16 L793.15 684.41 L793.71 683.41 L794.13 682.66 L794.56 681.91 L795.13 680.91 L795.56 680.16 L795.99 679.41 L796.56 678.41 L796.99 677.66 L797.42 676.91 L797.85 676.16 L798.41 675.16 L798.83 674.41 L799.23 673.66 L799.76 672.66 L800.14 671.91 L800.51 671.16 L800.88 670.41 L801.35 669.41 L801.69 668.66 L802.03 667.91 L802.46 666.91 L802.77 666.16 L803.07 665.41 L803.46 664.41 L803.73 663.66 L804.00 662.91 L804.26 662.16 L804.59 661.16 L804.82 660.41 L805.05 659.66 L805.35 658.66 L805.56 657.91 L805.78 657.16 L806.06 656.16 L806.27 655.41 L806.49 654.66 L806.70 653.91 L807.00 652.91 L807.22 652.16 L807.45 651.41 L807.75 650.41 L807.98 649.66 L808.21 648.91 L808.45 648.16 L808.77 647.16 L809.01 646.41 L809.25 645.66 L809.58 644.66 L809.82 643.91 L810.07 643.16 L810.40 642.16 L810.65 641.41 L810.90 640.66 L811.15 639.91 L811.50 638.91 L811.76 638.16 L812.02 637.41 L812.38 636.41 L812.65 635.66 L812.92 634.91 L813.29 633.91 L813.56 633.16 L813.84 632.41 L814.12 631.66 L814.49 630.66 L814.77 629.91 L815.04 629.16 L815.41 628.16 L815.67 627.41 L815.93 626.66 L816.19 625.91 L816.52 624.91 L816.76 624.16 L817.00 623.41 L817.30 622.41 L817.52 621.66 L817.74 620.91 L818.03 619.91 L818.24 619.16 L818.45 618.41 L818.66 617.66 L818.95 616.66 L819.16 615.91 L819.37 615.16 L819.65 614.16 L819.87 613.41 L820.08 612.66 L820.36 611.66 L820.57 610.91 L820.78 610.16 L820.99 609.41 L821.27 608.41 L821.47 607.66 L821.68 606.91 L821.95 605.91 L822.15 605.16 L822.35 604.41 L822.55 603.66 L822.81 602.66 L823.01 601.91 L823.20 601.16 L823.46 600.16 L823.65 599.41 L823.83 598.66 L824.07 597.66 L824.23 596.91 L824.38 596.16 L824.53 595.41 L824.71 594.41 L824.83 593.66 L824.95 592.91 L825.10 591.91 L825.20 591.16 L825.28 590.41 L825.31 589.66 Z" fill="#e1812c" stroke="#3d3d3d" stroke-width="0.7" stroke-opacity="0.8"/>
<line x1="825.91" y1="621.03" x2="825.91" y2="707.62" stroke="#3d3d3d" stroke-width="2.0"/>
<rect x="823.21" y="658.37" width="5.4" height="39.58" fill="#3d3d3d"/>
<circle cx="825.91" cy="687.92" r="2.6" fill="#fff"/>
<path d="M918.92 548.98 L918.96 549.98 L919.05 550.98 L919.17 551.98 L919.29 552.98 L919.45 554.23 L919.59 555.23 L919.75 556.23 L919.91 557.23 L920.12 558.48 L920.30 559.48 L920.48 560.48 L920.64 561.48 L920.79 562.48 L920.96 563.73 L921.07 564.73 L921.17 565.73 L921.26 566.73 L921.36 567.98 L921.43 568.98 L921.49 569.98 L921.55 570.98 L921.61 572.23 L921.64 573.23 L921.66 574.23 L921.67 575.23 L921.65 576.23 L921.58 577.48 L921.51 578.48 L921.42 579.48 L921.33 580.48 L921.22 581.73 L921.15 582.73 L921.10 583.73 L921.07 584.73 L921.06 585.98 L921.06 586.98 L921.06 587.98 L921.06 588.98 L921.06 589.98 L921.06 591.23 L921.06 592.23 L921.06 593.23 L921.08 594.23 L921.11 595.48 L921.15 596.48 L921.20 597.48 L921.23 598.48 L921.22 599.48 L921.15 600.73 L921.08 601.73 L921.04 602.73 L921.01 603.73 L921.01 604.98 L921.03 605.98 L921.07 606.98 L921.12 607.98 L921.21 609.23 L921.30 610.23 L921.41 611.23 L921.53 612.23 L921.70 613.23 L921.95 614.48 L922.20 615.48 L922.49 616.48 L922.83 617.48 L923.34 618.73 L923.82 619.73 L924.36 620.73 L924.97 621.73 L925.80 622.98 L926.54 623.98 L927.34 624.98 L928.20 625.98 L929.10 626.98 L930.24 628.23 L931.15 629.23 L932.06 630.23 L932.97 631.23 L934.10 632.48 L935.01 633.48 L935.90 634.48 L936.78 635.48 L937.87 636.73 L938.74 637.73 L939.61 638.73 L940.49 639.73 L941.38 640.73 L942.51 641.98 L943.43 642.98 L944.34 643.98 L945.23 644.98 L946.31 646.23 L947.14 647.23 L947.95 648.23 L948.71 649.23 L949.44 650.23 L950.27 651.48 L950.88 652.48 L951.44 653.48 L951.96 654.48 L952.56 655.73 L952.99 656.73 L953.40 657.73 L953.78 658.73 L954.23 659.98 L954.55 660.98 L954.82 661.98 L955.03 662.98 L955.19 663.98 L955.32 665.23 L955.38 666.23 L955.42 667.23 L955.43 668.23 L955.40 669.48 L955.33 670.48 L955.22 671.48 L955.06 672.48 L954.82 673.73 L954.57 674.73 L954.28 675.73 L953.93 676.73 L953.52 677.73 L952.93 678.98 L952.41 679.98 L951.85 680.98 L951.26 681.98 L950.48 683.23 L949.83 684.23 L949.17 685.23 L948.50 686.23 L947.66 687.48 L946.97 688.48 L946.28 689.48 L945.59 690.48 L944.90 691.48 L944.07 692.73 L943.43 693.73 L942.82 694.73 L942.26 695.73 L941.64 696.98 L941.19 697.98 L940.70 698.98 L940.11 699.98 L939.44 700.98 L938.55 702.23 L937.83 703.23 L937.11 704.23 L936.38 705.23 L935.48 706.48 L934.75 707.48 L934.03 708.48 L933.31 709.48 L932.44 710.73 L931.75 711.73 L931.08 712.73 L930.42 713.73 L929.78 714.73 L928.99 715.98 L928.38 716.98 L927.77 717.98 L927.18 718.98 L926.46 720.23 L925.90 721.23 L925.35 722.23 L924.82 723.23 L924.16 724.48 L923.65 725.48 L923.15 726.48 L922.66 727.48 L922.19 728.48 L921.62 729.73 L921.20 730.73 L920.81 731.73 L920.45 732.73 L920.03 733.98 L919.71 734.98 L919.42 735.98 L919.16 736.98 L918.93 738.23 L917.71 738.23 L917.48 736.98 L917.22 735.98 L916.93 734.98 L916.61 733.98 L916.19 732.73 L915.83 731.73 L915.44 730.73 L915.02 729.73 L914.45 728.48 L913.98 727.48 L913.49 726.48 L912.99 725.48 L912.48 724.48 L911.82 723.23 L911.29 722.23 L910.74 721.23 L910.18 720.23 L909.46 718.98 L908.87 717.98 L908.26 716.98 L907.65 715.98 L906.86 714.73 L906.22 713.73 L905.56 712.73 L904.89 711.73 L904.20 710.73 L903.32 709.48 L902.61 708.48 L901.89 707.48 L901.16 706.48 L900.25 705.23 L899.53 704.23 L898.81 703.23 L898.09 702.23 L897.20 700.98 L896.53 699.98 L895.94 698.98 L895.45 697.98 L895.00 696.98 L894.38 695.73 L893.82 694.73 L893.21 693.73 L892.57 692.73 L891.74 691.48 L891.05 690.48 L890.36 689.48 L889.67 688.48 L888.98 687.48 L888.14 686.23 L887.47 685.23 L886.81 684.23 L886.16 683.23 L885.38 681.98 L884.79 680.98 L884.23 679.98 L883.71 678.98 L883.12 677.73 L882.71 676.73 L882.36 675.73 L882.07 674.73 L881.82 673.73 L881.58 672.48 L881.42 671.48 L881.31 670.48 L881.24 669.48 L881.21 668.23 L881.22 667.23 L881.26 666.23 L881.32 665.23 L881.45 663.98 L881.61 662.98 L881.82 661.98 L882.09 660.98 L882.41 659.98 L882.86 658.73 L883.24 657.73 L883.65 656.73 L884.08 655.73 L884.68 654.48 L885.20 653.48 L885.76 652.48 L886.37 651.48 L887.20 650.23 L887.93 649.23 L888.69 648.23 L889.49 647.23 L890.33 646.23 L891.41 644.98 L892.30 643.98 L893.21 642.98 L894.13 641.98 L895.26 640.73 L896.15 639.73 L897.03 638.73 L897.90 637.73 L898.76 636.73 L899.86 635.48 L900.74 634.48 L901.63 633.48 L902.54 632.48 L903.67 631.23 L904.58 630.23 L905.49 629.23 L906.40 628.23 L907.54 626.98 L908.44 625.98 L909.29 624.98 L910.10 623.98 L910.83 622.98 L911.67 621.73 L912.27 620.73 L912.82 619.73 L913.30 618.73 L913.81 617.48 L914.15 616.48 L914.44 615.48 L914.69 614.48 L914.94 613.23 L915.11 612.23 L915.23 611.23 L915.34 610.23 L915.43 609.23 L915.52 607.98 L915.57 606.98 L915.61 605.98 L915.63 604.98 L915.63 603.73 L915.60 602.73 L915.56 601.73 L915.49 600.73 L915.42 599.48 L915.41 598.48 L915.44 597.48 L915.49 596.48 L915.53 595.48 L915.56 594.23 L915.58 593.23 L915.58 592.23 L915.58 591.23 L915.58 589.98 L915.58 588.98 L915.58 587.98 L915.58 586.98 L915.58 585.98 L915.57 584.73 L915.54 583.73 L915.49 582.73 L915.42 581.73 L915.31 580.48 L915.22 579.48 L915.13 578.48 L915.05 577.48 L914.99 576.23 L914.97 575.23 L914.98 574.23 L915.00 573.23 L915.03 572.23 L915.09 570.98 L915.15 569.98 L915.21 568.98 L915.28 567.98 L915.38 566.73 L915.47 565.73 L915.57 564.73 L915.68 563.73 L915.85 562.48 L916.00 561.48 L916.16 560.48 L916.34 559.48 L916.51 558.48 L916.73 557.23 L916.89 556.23 L917.04 555.23 L917.18 554.23 L917.35 552.98 L917.47 551.98 L917.59 550.98 L917.68 549.98 L917.72 548.98 Z" fill="#3a923a" stroke="#3d3d3d" stroke-width="0.7" stroke-opacity="0.8"/>
<line x1="918.32" y1="646.93" x2="918.32" y2="705.44" stroke="#3d3d3d" stroke-width="2.0"/>
<rect x="915.62" y="655.09" width="5.4" height="31.56" fill="#3d3d3d"/>
<circle cx="918.32" cy="668.95" r="2.6" fill="#fff"/>
<path d="M1011.93 556.38 L1011.92 557.13 L1011.98 557.88 L1012.08 558.63 L1012.25 559.63 L1012.40 560.38 L1012.56 561.13 L1012.74 561.88 L1013.01 562.88 L1013.25 563.63 L1013.51 564.38 L1013.92 565.38 L1014.28 566.13 L1014.68 566.88 L1015.12 567.63 L1015.73 568.63 L1016.22 569.38 L1016.73 570.13 L1017.44 571.13 L1017.99 571.88 L1018.56 572.63 L1019.15 573.38 L1019.98 574.38 L1020.65 575.13 L1021.35 575.88 L1022.08 576.63 L1023.09 577.63 L1023.87 578.38 L1024.66 579.13 L1025.71 580.13 L1026.49 580.88 L1027.25 581.63 L1028.00 582.38 L1028.98 583.38 L1029.69 584.13 L1030.40 584.88 L1031.33 585.88 L1032.03 586.63 L1032.71 587.38 L1033.38 588.13 L1034.26 589.13 L1034.89 589.88 L1035.51 590.63 L1036.31 591.63 L1036.89 592.38 L1037.46 593.13 L1038.01 593.88 L1038.74 594.88 L1039.26 595.63 L1039.78 596.38 L1040.27 597.13 L1040.91 598.13 L1041.37 598.88 L1041.80 599.63 L1042.35 600.63 L1042.75 601.38 L1043.13 602.13 L1043.51 602.88 L1044.00 603.88 L1044.35 604.63 L1044.68 605.38 L1045.10 606.38 L1045.38 607.13 L1045.63 607.88 L1045.85 608.63 L1046.10 609.63 L1046.25 610.38 L1046.37 611.13 L1046.48 611.88 L1046.61 612.88 L1046.70 613.63 L1046.78 614.38 L1046.88 615.38 L1046.93 616.13 L1046.98 616.88 L1047.02 617.63 L1047.04 618.63 L1047.03 619.38 L1047.00 620.13 L1046.91 621.13 L1046.82 621.88 L1046.69 622.63 L1046.55 623.38 L1046.33 624.38 L1046.14 625.13 L1045.95 625.88 L1045.68 626.88 L1045.47 627.63 L1045.25 628.38 L1045.02 629.13 L1044.69 630.13 L1044.42 630.88 L1044.13 631.63 L1043.82 632.38 L1043.39 633.38 L1043.05 634.13 L1042.71 634.88 L1042.23 635.88 L1041.87 636.63 L1041.49 637.38 L1041.11 638.13 L1040.59 639.13 L1040.18 639.88 L1039.76 640.63 L1039.18 641.63 L1038.74 642.38 L1038.29 643.13 L1037.83 643.88 L1037.23 644.88 L1036.77 645.63 L1036.31 646.38 L1035.70 647.38 L1035.23 648.13 L1034.77 648.88 L1034.29 649.63 L1033.66 650.63 L1033.19 651.38 L1032.72 652.13 L1032.25 652.88 L1031.63 653.88 L1031.18 654.63 L1030.74 655.38 L1030.16 656.38 L1029.73 657.13 L1029.31 657.88 L1028.89 658.63 L1028.34 659.63 L1027.93 660.38 L1027.54 661.13 L1027.02 662.13 L1026.64 662.88 L1026.27 663.63 L1025.92 664.38 L1025.46 665.38 L1025.13 666.13 L1024.81 666.88 L1024.50 667.63 L1024.10 668.63 L1023.80 669.38 L1023.51 670.13 L1023.13 671.13 L1022.84 671.88 L1022.55 672.63 L1022.25 673.38 L1021.86 674.38 L1021.56 675.13 L1021.26 675.88 L1020.86 676.88 L1020.56 677.63 L1020.26 678.38 L1019.96 679.13 L1019.56 680.13 L1019.26 680.88 L1018.96 681.63 L1018.56 682.63 L1018.26 683.38 L1017.95 684.13 L1017.64 684.88 L1017.23 685.88 L1016.92 686.63 L1016.61 687.38 L1016.31 688.13 L1015.90 689.13 L1015.61 689.88 L1015.32 690.63 L1014.95 691.63 L1014.68 692.38 L1014.42 693.13 L1014.17 693.88 L1013.84 694.88 L1013.60 695.63 L1013.36 696.38 L1013.07 697.38 L1012.86 698.13 L1012.66 698.88 L1012.48 699.63 L1012.26 700.63 L1012.12 701.38 L1012.00 702.13 L1011.93 703.13 L1010.73 703.13 L1010.65 702.13 L1010.53 701.38 L1010.39 700.63 L1010.17 699.63 L1009.99 698.88 L1009.80 698.13 L1009.59 697.38 L1009.29 696.38 L1009.06 695.63 L1008.82 694.88 L1008.49 693.88 L1008.23 693.13 L1007.97 692.38 L1007.70 691.63 L1007.33 690.63 L1007.04 689.88 L1006.75 689.13 L1006.35 688.13 L1006.04 687.38 L1005.73 686.63 L1005.42 685.88 L1005.01 684.88 L1004.70 684.13 L1004.40 683.38 L1004.10 682.63 L1003.69 681.63 L1003.39 680.88 L1003.09 680.13 L1002.69 679.13 L1002.39 678.38 L1002.09 677.63 L1001.79 676.88 L1001.39 675.88 L1001.09 675.13 L1000.80 674.38 L1000.40 673.38 L1000.11 672.63 L999.82 671.88 L999.53 671.13 L999.14 670.13 L998.85 669.38 L998.55 668.63 L998.15 667.63 L997.84 666.88 L997.52 666.13 L997.19 665.38 L996.74 664.38 L996.38 663.63 L996.01 662.88 L995.64 662.13 L995.12 661.13 L994.72 660.38 L994.32 659.63 L993.77 658.63 L993.35 657.88 L992.92 657.13 L992.50 656.38 L991.92 655.38 L991.47 654.63 L991.02 653.88 L990.41 652.88 L989.94 652.13 L989.47 651.38 L988.99 650.63 L988.36 649.63 L987.89 648.88 L987.42 648.13 L986.96 647.38 L986.34 646.38 L985.88 645.63 L985.43 644.88 L984.82 643.88 L984.37 643.13 L983.92 642.38 L983.47 641.63 L982.90 640.63 L982.47 639.88 L982.07 639.13 L981.54 638.13 L981.16 637.38 L980.79 636.63 L980.42 635.88 L979.95 634.88 L979.60 634.13 L979.26 633.38 L978.83 632.38 L978.53 631.63 L978.24 630.88 L977.97 630.13 L977.64 629.13 L977.40 628.38 L977.19 627.63 L976.97 626.88 L976.70 625.88 L976.51 625.13 L976.33 624.38 L976.10 623.38 L975.96 622.63 L975.84 621.88 L975.74 621.13 L975.66 620.13 L975.63 619.38 L975.62 618.63 L975.64 617.63 L975.67 616.88 L975.72 616.13 L975.78 615.38 L975.87 614.38 L975.95 613.63 L976.04 612.88 L976.17 611.88 L976.28 611.13 L976.41 610.38 L976.56 609.63 L976.80 608.63 L977.02 607.88 L977.27 607.13 L977.55 606.38 L977.97 605.38 L978.31 604.63 L978.66 603.88 L979.14 602.88 L979.52 602.13 L979.91 601.38 L980.30 600.63 L980.85 599.63 L981.29 598.88 L981.74 598.13 L982.38 597.13 L982.88 596.38 L983.39 595.63 L983.92 594.88 L984.64 593.88 L985.19 593.13 L985.76 592.38 L986.34 591.63 L987.14 590.63 L987.76 589.88 L988.40 589.13 L989.27 588.13 L989.94 587.38 L990.63 586.63 L991.32 585.88 L992.25 584.88 L992.96 584.13 L993.68 583.38 L994.65 582.38 L995.40 581.63 L996.16 580.88 L996.94 580.13 L997.99 579.13 L998.78 578.38 L999.56 577.63 L1000.58 576.63 L1001.31 575.88 L1002.01 575.13 L1002.67 574.38 L1003.51 573.38 L1004.10 572.63 L1004.67 571.88 L1005.22 571.13 L1005.92 570.13 L1006.43 569.38 L1006.92 568.63 L1007.54 567.63 L1007.97 566.88 L1008.37 566.13 L1008.73 565.38 L1009.14 564.38 L1009.41 563.63 L1009.64 562.88 L1009.91 561.88 L1010.09 561.13 L1010.25 560.38 L1010.40 559.63 L1010.57 558.63 L1010.67 557.88 L1010.73 557.13 L1010.73 556.38 Z" fill="#3274a1" stroke="#3d3d3d" stroke-width="0.7" stroke-opacity="0.8"/>
<line x1="1011.33" y1="586.48" x2="1011.33" y2="675.50" stroke="#3d3d3d" stroke-width="2.0"/>
<rect x="1008.63" y="608.01" width="5.4" height="31.74" fill="#3d3d3d"/>
<circle cx="1011.33" cy="621.69" r="2.6" fill="#fff"/>
<path d="M1106.78 580.10 L1106.80 580.85 L1106.87 581.85 L1106.94 582.60 L1107.04 583.60 L1107.14 584.60 L1107.22 585.35 L1107.33 586.35 L1107.45 587.35 L1107.54 588.10 L1107.68 589.10 L1107.82 590.10 L1107.93 590.85 L1108.08 591.85 L1108.19 592.60 L1108.34 593.60 L1108.49 594.60 L1108.61 595.35 L1108.76 596.35 L1108.91 597.35 L1109.02 598.10 L1109.18 599.10 L1109.34 600.10 L1109.46 600.85 L1109.61 601.85 L1109.73 602.60 L1109.88 603.60 L1110.02 604.60 L1110.12 605.35 L1110.25 606.35 L1110.37 607.35 L1110.45 608.10 L1110.55 609.10 L1110.65 610.10 L1110.72 610.85 L1110.81 611.85 L1110.88 612.60 L1110.98 613.60 L1111.09 614.60 L1111.17 615.35 L1111.29 616.35 L1111.41 617.35 L1111.50 618.10 L1111.64 619.10 L1111.78 620.10 L1111.89 620.85 L1112.05 621.85 L1112.17 622.60 L1112.35 623.60 L1112.56 624.60 L1112.73 625.35 L1112.97 626.35 L1113.25 627.35 L1113.48 628.10 L1113.81 629.10 L1114.16 630.10 L1114.43 630.85 L1114.80 631.85 L1115.08 632.60 L1115.46 633.60 L1115.86 634.60 L1116.16 635.35 L1116.57 636.35 L1117.00 637.35 L1117.33 638.10 L1117.78 639.10 L1118.25 640.10 L1118.61 640.85 L1119.10 641.85 L1119.48 642.60 L1120.00 643.60 L1120.54 644.60 L1120.96 645.35 L1121.53 646.35 L1122.13 647.35 L1122.58 648.10 L1123.20 649.10 L1123.84 650.10 L1124.32 650.85 L1124.97 651.85 L1125.47 652.60 L1126.15 653.60 L1126.85 654.60 L1127.39 655.35 L1128.11 656.35 L1128.85 657.35 L1129.40 658.10 L1130.14 659.10 L1130.87 660.10 L1131.41 660.85 L1132.14 661.85 L1132.69 662.60 L1133.43 663.60 L1134.16 664.60 L1134.71 665.35 L1135.43 666.35 L1136.13 667.35 L1136.64 668.10 L1137.29 669.10 L1137.90 670.10 L1138.35 670.85 L1138.93 671.85 L1139.35 672.60 L1139.91 673.60 L1140.43 674.60 L1140.81 675.35 L1141.27 676.35 L1141.67 677.35 L1141.93 678.10 L1142.23 679.10 L1142.48 680.10 L1142.64 680.85 L1142.83 681.85 L1142.96 682.60 L1143.12 683.60 L1143.26 684.60 L1143.35 685.35 L1143.44 686.35 L1143.51 687.35 L1143.53 688.10 L1143.53 689.10 L1143.50 690.10 L1143.45 690.85 L1143.36 691.85 L1143.27 692.60 L1143.13 693.60 L1142.98 694.60 L1142.85 695.35 L1142.66 696.35 L1142.44 697.35 L1142.26 698.10 L1141.98 699.10 L1141.64 700.10 L1141.34 700.85 L1140.88 701.85 L1140.48 702.60 L1139.83 703.60 L1139.04 704.60 L1138.36 705.35 L1137.35 706.35 L1136.30 707.35 L1135.53 708.10 L1134.55 709.10 L1133.63 710.10 L1132.97 710.85 L1132.11 711.85 L1131.47 712.60 L1130.64 713.60 L1129.80 714.60 L1129.18 715.35 L1128.35 716.35 L1127.52 717.35 L1126.89 718.10 L1126.06 719.10 L1125.22 720.10 L1124.60 720.85 L1123.77 721.85 L1123.14 722.60 L1122.30 723.60 L1121.46 724.60 L1120.82 725.35 L1119.96 726.35 L1119.09 727.35 L1118.42 728.10 L1117.54 729.10 L1116.64 730.10 L1115.96 730.85 L1115.05 731.85 L1114.36 732.60 L1113.45 733.60 L1112.54 734.60 L1111.89 735.35 L1111.05 736.35 L1110.27 737.35 L1109.71 738.10 L1109.01 739.10 L1108.35 740.10 L1107.89 740.85 L1107.33 741.85 L1106.88 742.85 L1105.49 742.85 L1105.03 741.85 L1104.48 740.85 L1104.02 740.10 L1103.35 739.10 L1102.65 738.10 L1102.10 737.35 L1101.31 736.35 L1100.48 735.35 L1099.82 734.60 L1098.92 733.60 L1098.00 732.60 L1097.32 731.85 L1096.41 730.85 L1095.73 730.10 L1094.83 729.10 L1093.94 728.10 L1093.28 727.35 L1092.41 726.35 L1091.55 725.35 L1090.91 724.60 L1090.06 723.60 L1089.22 722.60 L1088.60 721.85 L1087.77 720.85 L1087.14 720.10 L1086.31 719.10 L1085.47 718.10 L1084.85 717.35 L1084.01 716.35 L1083.18 715.35 L1082.56 714.60 L1081.73 713.60 L1080.89 712.60 L1080.26 711.85 L1079.40 710.85 L1078.73 710.10 L1077.82 709.10 L1076.84 708.10 L1076.07 707.35 L1075.02 706.35 L1074.01 705.35 L1073.32 704.60 L1072.53 703.60 L1071.89 702.60 L1071.48 701.85 L1071.02 700.85 L1070.72 700.10 L1070.39 699.10 L1070.10 698.10 L1069.92 697.35 L1069.71 696.35 L1069.52 695.35 L1069.39 694.60 L1069.23 693.60 L1069.09 692.60 L1069.01 691.85 L1068.92 690.85 L1068.87 690.10 L1068.83 689.10 L1068.84 688.10 L1068.86 687.35 L1068.92 686.35 L1069.02 685.35 L1069.10 684.60 L1069.24 683.60 L1069.40 682.60 L1069.53 681.85 L1069.73 680.85 L1069.89 680.10 L1070.13 679.10 L1070.43 678.10 L1070.70 677.35 L1071.10 676.35 L1071.56 675.35 L1071.93 674.60 L1072.46 673.60 L1073.01 672.60 L1073.44 671.85 L1074.02 670.85 L1074.46 670.10 L1075.08 669.10 L1075.73 668.10 L1076.23 667.35 L1076.93 666.35 L1077.65 665.35 L1078.20 664.60 L1078.94 663.60 L1079.67 662.60 L1080.22 661.85 L1080.95 660.85 L1081.50 660.10 L1082.23 659.10 L1082.97 658.10 L1083.52 657.35 L1084.25 656.35 L1084.98 655.35 L1085.51 654.60 L1086.21 653.60 L1086.89 652.60 L1087.39 651.85 L1088.05 650.85 L1088.53 650.10 L1089.16 649.10 L1089.78 648.10 L1090.24 647.35 L1090.83 646.35 L1091.41 645.35 L1091.82 644.60 L1092.37 643.60 L1092.89 642.60 L1093.27 641.85 L1093.76 640.85 L1094.12 640.10 L1094.59 639.10 L1095.04 638.10 L1095.37 637.35 L1095.80 636.35 L1096.21 635.35 L1096.51 634.60 L1096.90 633.60 L1097.29 632.60 L1097.57 631.85 L1097.94 630.85 L1098.21 630.10 L1098.56 629.10 L1098.88 628.10 L1099.11 627.35 L1099.39 626.35 L1099.64 625.35 L1099.81 624.60 L1100.01 623.60 L1100.19 622.60 L1100.32 621.85 L1100.48 620.85 L1100.59 620.10 L1100.73 619.10 L1100.86 618.10 L1100.96 617.35 L1101.08 616.35 L1101.20 615.35 L1101.28 614.60 L1101.38 613.60 L1101.48 612.60 L1101.55 611.85 L1101.65 610.85 L1101.72 610.10 L1101.81 609.10 L1101.92 608.10 L1102.00 607.35 L1102.12 606.35 L1102.24 605.35 L1102.34 604.60 L1102.49 603.60 L1102.64 602.60 L1102.75 601.85 L1102.91 600.85 L1103.03 600.10 L1103.19 599.10 L1103.34 598.10 L1103.46 597.35 L1103.61 596.35 L1103.76 595.35 L1103.87 594.60 L1104.02 593.60 L1104.17 592.60 L1104.28 591.85 L1104.43 590.85 L1104.54 590.10 L1104.69 589.10 L1104.82 588.10 L1104.92 587.35 L1105.04 586.35 L1105.15 585.35 L1105.23 584.60 L1105.33 583.60 L1105.43 582.60 L1105.50 581.85 L1105.57 580.85 L1105.58 580.10 Z" fill="#e1812c" stroke="#3d3d3d" stroke-width="0.7" stroke-opacity="0.8"/>
<line x1="1106.18" y1="639.38" x2="1106.18" y2="713.00" stroke="#3d3d3d" stroke-width="2.0"/>
<rect x="1103.48" y="667.66" width="5.4" height="29.19" fill="#3d3d3d"/>
<circle cx="1106.18" cy="681.34" r="2.6" fill="#fff"/>
<path d="M1200.73 632.09 L1200.73 632.84 L1200.81 633.59 L1200.94 634.34 L1201.16 635.34 L1201.35 636.09 L1201.56 636.84 L1201.86 637.84 L1202.12 638.59 L1202.41 639.34 L1202.74 640.09 L1203.22 641.09 L1203.62 641.84 L1204.03 642.59 L1204.61 643.59 L1205.06 644.34 L1205.52 645.09 L1205.99 645.84 L1206.65 646.84 L1207.16 647.59 L1207.69 648.34 L1208.43 649.34 L1208.99 650.09 L1209.57 650.84 L1210.16 651.59 L1210.96 652.59 L1211.56 653.34 L1212.16 654.09 L1212.96 655.09 L1213.56 655.84 L1214.16 656.59 L1214.97 657.59 L1215.57 658.34 L1216.18 659.09 L1216.79 659.84 L1217.60 660.84 L1218.20 661.59 L1218.80 662.34 L1219.59 663.34 L1220.18 664.09 L1220.75 664.84 L1221.32 665.59 L1222.07 666.59 L1222.62 667.34 L1223.17 668.09 L1223.89 669.09 L1224.42 669.84 L1224.95 670.59 L1225.47 671.34 L1226.16 672.34 L1226.68 673.09 L1227.21 673.84 L1227.96 674.84 L1228.57 675.59 L1229.21 676.34 L1229.84 677.09 L1230.64 678.09 L1231.18 678.84 L1231.67 679.59 L1232.26 680.59 L1232.65 681.34 L1233.00 682.09 L1233.41 683.09 L1233.68 683.84 L1233.92 684.59 L1234.14 685.34 L1234.42 686.34 L1234.61 687.09 L1234.80 687.84 L1235.02 688.84 L1235.18 689.59 L1235.32 690.34 L1235.43 691.09 L1235.57 692.09 L1235.65 692.84 L1235.71 693.59 L1235.75 694.59 L1235.77 695.34 L1235.75 696.09 L1235.71 696.84 L1235.60 697.84 L1235.48 698.59 L1235.31 699.34 L1235.03 700.34 L1234.78 701.09 L1234.52 701.84 L1234.26 702.59 L1233.90 703.59 L1233.62 704.34 L1233.31 705.09 L1232.86 706.09 L1232.48 706.84 L1232.08 707.59 L1231.53 708.59 L1231.10 709.34 L1230.66 710.09 L1230.22 710.84 L1229.64 711.84 L1229.19 712.59 L1228.74 713.34 L1228.12 714.34 L1227.64 715.09 L1227.16 715.84 L1226.67 716.59 L1226.01 717.59 L1225.52 718.34 L1225.03 719.09 L1224.38 720.09 L1223.90 720.84 L1223.43 721.59 L1222.96 722.34 L1222.34 723.34 L1221.88 724.09 L1221.42 724.84 L1220.81 725.84 L1220.36 726.59 L1219.91 727.34 L1219.47 728.09 L1218.90 729.09 L1218.47 729.84 L1218.06 730.59 L1217.52 731.59 L1217.12 732.34 L1216.72 733.09 L1216.21 734.09 L1215.82 734.84 L1215.44 735.59 L1215.07 736.34 L1214.57 737.34 L1214.20 738.09 L1213.84 738.84 L1213.35 739.84 L1212.98 740.59 L1212.62 741.34 L1212.26 742.09 L1211.78 743.09 L1211.43 743.84 L1211.07 744.59 L1210.61 745.59 L1210.26 746.34 L1209.92 747.09 L1209.58 747.84 L1209.13 748.84 L1208.80 749.59 L1208.46 750.34 L1208.02 751.34 L1207.69 752.09 L1207.37 752.84 L1207.05 753.59 L1206.63 754.59 L1206.33 755.34 L1206.03 756.09 L1205.66 757.09 L1205.38 757.84 L1205.11 758.59 L1204.77 759.59 L1204.52 760.34 L1204.27 761.09 L1204.03 761.84 L1203.72 762.84 L1203.49 763.59 L1203.28 764.34 L1203.00 765.34 L1202.81 766.09 L1202.63 766.84 L1202.46 767.59 L1202.25 768.59 L1202.10 769.34 L1201.96 770.09 L1201.77 771.09 L1201.64 771.84 L1201.51 772.59 L1201.39 773.34 L1201.24 774.34 L1201.14 775.09 L1201.04 775.84 L1200.92 776.84 L1200.83 777.59 L1200.76 778.34 L1200.72 779.34 L1199.53 779.34 L1199.49 778.34 L1199.42 777.59 L1199.33 776.84 L1199.21 775.84 L1199.11 775.09 L1199.01 774.34 L1198.86 773.34 L1198.74 772.59 L1198.62 771.84 L1198.48 771.09 L1198.30 770.09 L1198.15 769.34 L1198.00 768.59 L1197.79 767.59 L1197.62 766.84 L1197.44 766.09 L1197.25 765.34 L1196.98 764.34 L1196.76 763.59 L1196.53 762.84 L1196.22 761.84 L1195.98 761.09 L1195.74 760.34 L1195.49 759.59 L1195.14 758.59 L1194.87 757.84 L1194.60 757.09 L1194.22 756.09 L1193.92 755.34 L1193.62 754.59 L1193.20 753.59 L1192.88 752.84 L1192.56 752.09 L1192.23 751.34 L1191.79 750.34 L1191.46 749.59 L1191.12 748.84 L1190.67 747.84 L1190.33 747.09 L1189.99 746.34 L1189.65 745.59 L1189.18 744.59 L1188.83 743.84 L1188.47 743.09 L1187.99 742.09 L1187.63 741.34 L1187.27 740.59 L1186.91 739.84 L1186.42 738.84 L1186.05 738.09 L1185.68 737.34 L1185.18 736.34 L1184.81 735.59 L1184.43 734.84 L1184.05 734.09 L1183.53 733.09 L1183.14 732.34 L1182.74 731.59 L1182.19 730.59 L1181.78 729.84 L1181.35 729.09 L1180.78 728.09 L1180.34 727.34 L1179.89 726.59 L1179.44 725.84 L1178.83 724.84 L1178.37 724.09 L1177.91 723.34 L1177.29 722.34 L1176.82 721.59 L1176.35 720.84 L1175.87 720.09 L1175.23 719.09 L1174.73 718.34 L1174.24 717.59 L1173.58 716.59 L1173.09 715.84 L1172.61 715.09 L1172.14 714.34 L1171.52 713.34 L1171.06 712.59 L1170.62 711.84 L1170.03 710.84 L1169.59 710.09 L1169.15 709.34 L1168.72 708.59 L1168.17 707.59 L1167.77 706.84 L1167.40 706.09 L1166.94 705.09 L1166.63 704.34 L1166.35 703.59 L1165.99 702.59 L1165.73 701.84 L1165.47 701.09 L1165.22 700.34 L1164.94 699.34 L1164.77 698.59 L1164.65 697.84 L1164.54 696.84 L1164.50 696.09 L1164.49 695.34 L1164.50 694.59 L1164.55 693.59 L1164.61 692.84 L1164.69 692.09 L1164.82 691.09 L1164.94 690.34 L1165.08 689.59 L1165.23 688.84 L1165.45 687.84 L1165.64 687.09 L1165.83 686.34 L1166.11 685.34 L1166.33 684.59 L1166.58 683.84 L1166.84 683.09 L1167.25 682.09 L1167.60 681.34 L1167.99 680.59 L1168.58 679.59 L1169.07 678.84 L1169.61 678.09 L1170.41 677.09 L1171.04 676.34 L1171.68 675.59 L1172.29 674.84 L1173.04 673.84 L1173.57 673.09 L1174.09 672.34 L1174.78 671.34 L1175.30 670.59 L1175.83 669.84 L1176.36 669.09 L1177.09 668.09 L1177.63 667.34 L1178.19 666.59 L1178.93 665.59 L1179.50 664.84 L1180.08 664.09 L1180.66 663.34 L1181.45 662.34 L1182.05 661.59 L1182.65 660.84 L1183.46 659.84 L1184.07 659.09 L1184.68 658.34 L1185.29 657.59 L1186.09 656.59 L1186.69 655.84 L1187.29 655.09 L1188.09 654.09 L1188.69 653.34 L1189.29 652.59 L1190.09 651.59 L1190.68 650.84 L1191.26 650.09 L1191.83 649.34 L1192.56 648.34 L1193.09 647.59 L1193.60 646.84 L1194.26 645.84 L1194.73 645.09 L1195.19 644.34 L1195.64 643.59 L1196.22 642.59 L1196.63 641.84 L1197.03 641.09 L1197.51 640.09 L1197.84 639.34 L1198.13 638.59 L1198.39 637.84 L1198.70 636.84 L1198.90 636.09 L1199.09 635.34 L1199.31 634.34 L1199.44 633.59 L1199.52 632.84 L1199.53 632.09 Z" fill="#3a923a" stroke="#3d3d3d" stroke-width="0.7" stroke-opacity="0.8"/>
<line x1="1200.13" y1="661.27" x2="1200.13" y2="750.76" stroke="#3d3d3d" stroke-width="2.0"/>
<rect x="1197.43" y="683.27" width="5.4" height="32.47" fill="#3d3d3d"/>
<circle cx="1200.13" cy="697.13" r="2.6" fill="#fff"/>
<path d="M1292.29 531.28 L1292.34 532.28 L1292.44 533.28 L1292.54 534.28 L1292.65 535.28 L1292.79 536.53 L1292.90 537.53 L1293.02 538.53 L1293.16 539.53 L1293.34 540.78 L1293.51 541.78 L1293.69 542.78 L1293.89 543.78 L1294.11 544.78 L1294.40 546.03 L1294.65 547.03 L1294.92 548.03 L1295.22 549.03 L1295.61 550.28 L1295.95 551.28 L1296.30 552.28 L1296.66 553.28 L1297.04 554.28 L1297.52 555.53 L1297.93 556.53 L1298.36 557.53 L1298.80 558.53 L1299.37 559.78 L1299.84 560.78 L1300.30 561.78 L1300.77 562.78 L1301.22 563.78 L1301.78 565.03 L1302.22 566.03 L1302.67 567.03 L1303.11 568.03 L1303.65 569.28 L1304.07 570.28 L1304.47 571.28 L1304.87 572.28 L1305.24 573.28 L1305.68 574.53 L1306.02 575.53 L1306.35 576.53 L1306.67 577.53 L1307.05 578.78 L1307.34 579.78 L1307.61 580.78 L1307.87 581.78 L1308.10 582.78 L1308.38 584.03 L1308.59 585.03 L1308.78 586.03 L1308.97 587.03 L1309.19 588.28 L1309.35 589.28 L1309.51 590.28 L1309.66 591.28 L1309.81 592.28 L1309.98 593.53 L1310.11 594.53 L1310.24 595.53 L1310.36 596.53 L1310.51 597.78 L1310.62 598.78 L1310.72 599.78 L1310.82 600.78 L1310.91 601.78 L1311.01 603.03 L1311.09 604.03 L1311.16 605.03 L1311.23 606.03 L1311.33 607.28 L1311.41 608.28 L1311.51 609.28 L1311.62 610.28 L1311.74 611.28 L1311.92 612.53 L1312.07 613.53 L1312.25 614.53 L1312.44 615.53 L1312.69 616.78 L1312.91 617.78 L1313.14 618.78 L1313.40 619.78 L1313.68 620.78 L1314.07 622.03 L1314.41 623.03 L1314.77 624.03 L1315.13 625.03 L1315.59 626.28 L1315.95 627.28 L1316.29 628.28 L1316.64 629.28 L1317.06 630.53 L1317.40 631.53 L1317.74 632.53 L1318.07 633.53 L1318.38 634.53 L1318.76 635.78 L1319.04 636.78 L1319.32 637.78 L1319.58 638.78 L1319.90 640.03 L1320.15 641.03 L1320.39 642.03 L1320.60 643.03 L1320.79 644.03 L1320.98 645.28 L1321.10 646.28 L1321.18 647.28 L1321.25 648.28 L1321.33 649.53 L1321.38 650.53 L1321.42 651.53 L1321.45 652.53 L1321.48 653.53 L1321.49 654.78 L1321.47 655.78 L1321.42 656.78 L1321.32 657.78 L1321.13 659.03 L1320.93 660.03 L1320.70 661.03 L1320.45 662.03 L1320.17 663.03 L1319.77 664.28 L1319.40 665.28 L1318.98 666.28 L1318.51 667.28 L1317.88 668.53 L1317.34 669.53 L1316.78 670.53 L1316.22 671.53 L1315.66 672.53 L1314.95 673.78 L1314.37 674.78 L1313.77 675.78 L1313.13 676.78 L1312.27 678.03 L1311.55 679.03 L1310.79 680.03 L1309.99 681.03 L1309.16 682.03 L1308.12 683.28 L1307.31 684.28 L1306.56 685.28 L1305.84 686.28 L1304.97 687.53 L1304.29 688.53 L1303.63 689.53 L1302.98 690.53 L1302.36 691.53 L1301.60 692.78 L1301.01 693.78 L1300.44 694.78 L1299.88 695.78 L1299.20 697.03 L1298.68 698.03 L1298.18 699.03 L1297.71 700.03 L1297.26 701.03 L1296.74 702.28 L1296.33 703.28 L1295.95 704.28 L1295.58 705.28 L1295.14 706.53 L1294.81 707.53 L1294.50 708.53 L1294.22 709.53 L1293.96 710.53 L1293.67 711.78 L1293.46 712.78 L1293.25 713.78 L1293.06 714.78 L1292.84 716.03 L1292.68 717.03 L1292.52 718.03 L1292.39 719.03 L1292.29 720.28 L1291.09 720.28 L1291.00 719.03 L1290.86 718.03 L1290.71 717.03 L1290.54 716.03 L1290.32 714.78 L1290.13 713.78 L1289.93 712.78 L1289.71 711.78 L1289.42 710.53 L1289.16 709.53 L1288.88 708.53 L1288.57 707.53 L1288.24 706.53 L1287.81 705.28 L1287.44 704.28 L1287.05 703.28 L1286.65 702.28 L1286.12 701.03 L1285.67 700.03 L1285.20 699.03 L1284.70 698.03 L1284.18 697.03 L1283.50 695.78 L1282.94 694.78 L1282.37 693.78 L1281.78 692.78 L1281.03 691.53 L1280.40 690.53 L1279.76 689.53 L1279.09 688.53 L1278.41 687.53 L1277.55 686.28 L1276.83 685.28 L1276.07 684.28 L1275.26 683.28 L1274.22 682.03 L1273.39 681.03 L1272.60 680.03 L1271.84 679.03 L1271.11 678.03 L1270.26 676.78 L1269.62 675.78 L1269.01 674.78 L1268.43 673.78 L1267.73 672.53 L1267.16 671.53 L1266.60 670.53 L1266.05 669.53 L1265.51 668.53 L1264.87 667.28 L1264.41 666.28 L1263.99 665.28 L1263.62 664.28 L1263.22 663.03 L1262.94 662.03 L1262.68 661.03 L1262.45 660.03 L1262.25 659.03 L1262.06 657.78 L1261.97 656.78 L1261.91 655.78 L1261.89 654.78 L1261.90 653.53 L1261.93 652.53 L1261.96 651.53 L1262.01 650.53 L1262.06 649.53 L1262.13 648.28 L1262.20 647.28 L1262.29 646.28 L1262.40 645.28 L1262.59 644.03 L1262.78 643.03 L1262.99 642.03 L1263.23 641.03 L1263.48 640.03 L1263.80 638.78 L1264.07 637.78 L1264.34 636.78 L1264.62 635.78 L1265.00 634.53 L1265.32 633.53 L1265.65 632.53 L1265.98 631.53 L1266.32 630.53 L1266.75 629.28 L1267.09 628.28 L1267.44 627.28 L1267.80 626.28 L1268.25 625.03 L1268.62 624.03 L1268.97 623.03 L1269.31 622.03 L1269.71 620.78 L1269.99 619.78 L1270.24 618.78 L1270.48 617.78 L1270.69 616.78 L1270.95 615.53 L1271.13 614.53 L1271.31 613.53 L1271.47 612.53 L1271.64 611.28 L1271.77 610.28 L1271.88 609.28 L1271.97 608.28 L1272.06 607.28 L1272.15 606.03 L1272.22 605.03 L1272.30 604.03 L1272.37 603.03 L1272.47 601.78 L1272.56 600.78 L1272.66 599.78 L1272.77 598.78 L1272.88 597.78 L1273.02 596.53 L1273.14 595.53 L1273.27 594.53 L1273.40 593.53 L1273.58 592.28 L1273.72 591.28 L1273.87 590.28 L1274.03 589.28 L1274.20 588.28 L1274.42 587.03 L1274.60 586.03 L1274.80 585.03 L1275.00 584.03 L1275.28 582.78 L1275.52 581.78 L1275.77 580.78 L1276.04 579.78 L1276.33 578.78 L1276.71 577.53 L1277.03 576.53 L1277.36 575.53 L1277.70 574.53 L1278.14 573.28 L1278.52 572.28 L1278.91 571.28 L1279.32 570.28 L1279.74 569.28 L1280.28 568.03 L1280.72 567.03 L1281.16 566.03 L1281.60 565.03 L1282.16 563.78 L1282.62 562.78 L1283.08 561.78 L1283.55 560.78 L1284.01 559.78 L1284.58 558.53 L1285.03 557.53 L1285.45 556.53 L1285.86 555.53 L1286.34 554.28 L1286.72 553.28 L1287.08 552.28 L1287.43 551.28 L1287.77 550.28 L1288.17 549.03 L1288.46 548.03 L1288.73 547.03 L1288.98 546.03 L1289.27 544.78 L1289.49 543.78 L1289.69 542.78 L1289.87 541.78 L1290.04 540.78 L1290.23 539.53 L1290.36 538.53 L1290.48 537.53 L1290.60 536.53 L1290.73 535.28 L1290.84 534.28 L1290.95 533.28 L1291.04 532.28 L1291.09 531.28 Z" fill="#3274a1" stroke="#3d3d3d" stroke-width="0.7" stroke-opacity="0.8"/>
<line x1="1291.69" y1="571.41" x2="1291.69" y2="682.14" stroke="#3d3d3d" stroke-width="2.0"/>
<rect x="1288.99" y="601.51" width="5.4" height="60.01" fill="#3d3d3d"/>
<circle cx="1291.69" cy="640.73" r="2.6" fill="#fff"/>
<path d="M1385.87 592.76 L1385.95 593.51 L1386.10 594.26 L1386.37 595.26 L1386.61 596.01 L1386.96 597.01 L1387.25 597.76 L1387.56 598.51 L1388.02 599.51 L1388.40 600.26 L1388.96 601.26 L1389.41 602.01 L1390.04 603.01 L1390.53 603.76 L1391.04 604.51 L1391.74 605.51 L1392.29 606.26 L1393.06 607.26 L1393.65 608.01 L1394.27 608.76 L1395.13 609.76 L1395.79 610.51 L1396.70 611.51 L1397.39 612.26 L1398.33 613.26 L1399.04 614.01 L1399.75 614.76 L1400.71 615.76 L1401.44 616.51 L1402.42 617.51 L1403.18 618.26 L1403.93 619.01 L1404.95 620.01 L1405.72 620.76 L1406.73 621.76 L1407.49 622.51 L1408.48 623.51 L1409.21 624.26 L1409.94 625.01 L1410.91 626.01 L1411.65 626.76 L1412.62 627.76 L1413.34 628.51 L1414.27 629.51 L1414.95 630.26 L1415.58 631.01 L1416.37 632.01 L1416.90 632.76 L1417.55 633.76 L1417.99 634.51 L1418.40 635.26 L1418.92 636.26 L1419.28 637.01 L1419.73 638.01 L1420.05 638.76 L1420.42 639.76 L1420.67 640.51 L1420.88 641.26 L1421.12 642.26 L1421.27 643.01 L1421.43 644.01 L1421.54 644.76 L1421.64 645.51 L1421.76 646.51 L1421.84 647.26 L1421.93 648.26 L1421.98 649.01 L1422.04 650.01 L1422.07 650.76 L1422.09 651.51 L1422.08 652.51 L1422.06 653.26 L1421.98 654.26 L1421.88 655.01 L1421.68 656.01 L1421.48 656.76 L1421.26 657.51 L1420.94 658.51 L1420.69 659.26 L1420.34 660.26 L1420.07 661.01 L1419.80 661.76 L1419.43 662.76 L1419.15 663.51 L1418.78 664.51 L1418.49 665.26 L1418.08 666.26 L1417.77 667.01 L1417.44 667.76 L1416.98 668.76 L1416.63 669.51 L1416.13 670.51 L1415.74 671.26 L1415.32 672.01 L1414.70 673.01 L1414.20 673.76 L1413.47 674.76 L1412.89 675.51 L1412.06 676.51 L1411.40 677.26 L1410.72 678.01 L1409.81 679.01 L1409.17 679.76 L1408.44 680.76 L1407.97 681.51 L1407.55 682.26 L1407.01 683.26 L1406.60 684.01 L1406.07 685.01 L1405.67 685.76 L1405.13 686.76 L1404.73 687.51 L1404.33 688.26 L1403.80 689.26 L1403.41 690.01 L1402.89 691.01 L1402.50 691.76 L1401.99 692.76 L1401.61 693.51 L1401.23 694.26 L1400.73 695.26 L1400.36 696.01 L1399.86 697.01 L1399.50 697.76 L1399.14 698.51 L1398.66 699.51 L1398.31 700.26 L1397.84 701.26 L1397.50 702.01 L1397.04 703.01 L1396.71 703.76 L1396.37 704.51 L1395.94 705.51 L1395.61 706.26 L1395.19 707.26 L1394.88 708.01 L1394.57 708.76 L1394.17 709.76 L1393.88 710.51 L1393.49 711.51 L1393.21 712.26 L1392.84 713.26 L1392.57 714.01 L1392.30 714.76 L1391.95 715.76 L1391.70 716.51 L1391.37 717.51 L1391.13 718.26 L1390.81 719.26 L1390.58 720.01 L1390.36 720.76 L1390.07 721.76 L1389.85 722.51 L1389.57 723.51 L1389.37 724.26 L1389.17 725.01 L1388.91 726.01 L1388.72 726.76 L1388.48 727.76 L1388.30 728.51 L1388.07 729.51 L1387.91 730.26 L1387.74 731.01 L1387.53 732.01 L1387.38 732.76 L1387.18 733.76 L1387.03 734.51 L1386.89 735.26 L1386.72 736.26 L1386.60 737.01 L1386.46 738.01 L1386.36 738.76 L1386.25 739.76 L1386.18 740.51 L1386.11 741.26 L1386.03 742.26 L1385.97 743.01 L1385.89 744.01 L1385.86 744.76 L1385.86 745.76 L1384.68 745.76 L1384.68 744.76 L1384.65 744.01 L1384.57 743.01 L1384.52 742.26 L1384.43 741.26 L1384.36 740.51 L1384.29 739.76 L1384.18 738.76 L1384.09 738.01 L1383.94 737.01 L1383.82 736.26 L1383.65 735.26 L1383.51 734.51 L1383.36 733.76 L1383.16 732.76 L1383.01 732.01 L1382.80 731.01 L1382.63 730.26 L1382.47 729.51 L1382.24 728.51 L1382.06 727.76 L1381.82 726.76 L1381.63 726.01 L1381.37 725.01 L1381.17 724.26 L1380.97 723.51 L1380.69 722.51 L1380.48 721.76 L1380.18 720.76 L1379.96 720.01 L1379.73 719.26 L1379.41 718.26 L1379.17 717.51 L1378.84 716.51 L1378.59 715.76 L1378.24 714.76 L1377.97 714.01 L1377.70 713.26 L1377.33 712.26 L1377.05 711.51 L1376.67 710.51 L1376.37 709.76 L1375.97 708.76 L1375.67 708.01 L1375.35 707.26 L1374.93 706.26 L1374.61 705.51 L1374.17 704.51 L1373.83 703.76 L1373.50 703.01 L1373.04 702.01 L1372.70 701.26 L1372.24 700.26 L1371.88 699.51 L1371.41 698.51 L1371.04 697.76 L1370.68 697.01 L1370.19 696.01 L1369.81 695.26 L1369.31 694.26 L1368.93 693.51 L1368.55 692.76 L1368.04 691.76 L1367.65 691.01 L1367.13 690.01 L1366.74 689.26 L1366.21 688.26 L1365.81 687.51 L1365.41 686.76 L1364.87 685.76 L1364.47 685.01 L1363.94 684.01 L1363.54 683.26 L1362.99 682.26 L1362.57 681.51 L1362.10 680.76 L1361.37 679.76 L1360.73 679.01 L1359.82 678.01 L1359.14 677.26 L1358.48 676.51 L1357.65 675.51 L1357.07 674.76 L1356.34 673.76 L1355.84 673.01 L1355.22 672.01 L1354.80 671.26 L1354.41 670.51 L1353.92 669.51 L1353.56 668.76 L1353.11 667.76 L1352.78 667.01 L1352.46 666.26 L1352.05 665.26 L1351.76 664.51 L1351.39 663.51 L1351.11 662.76 L1350.74 661.76 L1350.47 661.01 L1350.20 660.26 L1349.85 659.26 L1349.60 658.51 L1349.28 657.51 L1349.06 656.76 L1348.86 656.01 L1348.66 655.01 L1348.56 654.26 L1348.48 653.26 L1348.46 652.51 L1348.46 651.51 L1348.47 650.76 L1348.50 650.01 L1348.56 649.01 L1348.61 648.26 L1348.71 647.26 L1348.78 646.51 L1348.90 645.51 L1349.00 644.76 L1349.11 644.01 L1349.27 643.01 L1349.42 642.26 L1349.66 641.26 L1349.87 640.51 L1350.12 639.76 L1350.50 638.76 L1350.81 638.01 L1351.26 637.01 L1351.62 636.26 L1352.14 635.26 L1352.55 634.51 L1352.99 633.76 L1353.64 632.76 L1354.17 632.01 L1354.96 631.01 L1355.60 630.26 L1356.27 629.51 L1357.20 628.51 L1357.92 627.76 L1358.90 626.76 L1359.63 626.01 L1360.60 625.01 L1361.33 624.26 L1362.06 623.51 L1363.06 622.51 L1363.81 621.76 L1364.82 620.76 L1365.59 620.01 L1366.61 619.01 L1367.37 618.26 L1368.12 617.51 L1369.10 616.51 L1369.83 615.76 L1370.79 614.76 L1371.50 614.01 L1372.21 613.26 L1373.15 612.26 L1373.84 611.51 L1374.75 610.51 L1375.41 609.76 L1376.27 608.76 L1376.89 608.01 L1377.49 607.26 L1378.25 606.26 L1378.80 605.51 L1379.50 604.51 L1380.01 603.76 L1380.50 603.01 L1381.13 602.01 L1381.58 601.26 L1382.14 600.26 L1382.52 599.51 L1382.98 598.51 L1383.29 597.76 L1383.58 597.01 L1383.93 596.01 L1384.17 595.26 L1384.44 594.26 L1384.59 593.51 L1384.67 592.76 Z" fill="#e1812c" stroke="#3d3d3d" stroke-width="0.7" stroke-opacity="0.8"/>
<line x1="1385.27" y1="622.86" x2="1385.27" y2="716.35" stroke="#3d3d3d" stroke-width="2.0"/>
<rect x="1382.57" y="634.17" width="5.4" height="42.50" fill="#3d3d3d"/>
<circle cx="1385.27" cy="654.23" r="2.6" fill="#fff"/>
<path d="M1479.27 572.69 L1479.27 573.69 L1479.35 574.69 L1479.47 575.69 L1479.60 576.69 L1479.79 577.94 L1479.96 578.94 L1480.16 579.94 L1480.37 580.94 L1480.68 582.19 L1480.95 583.19 L1481.23 584.19 L1481.51 585.19 L1481.81 586.19 L1482.18 587.44 L1482.48 588.44 L1482.78 589.44 L1483.09 590.44 L1483.49 591.69 L1483.81 592.69 L1484.13 593.69 L1484.46 594.69 L1484.80 595.69 L1485.22 596.94 L1485.56 597.94 L1485.90 598.94 L1486.25 599.94 L1486.68 601.19 L1487.04 602.19 L1487.39 603.19 L1487.75 604.19 L1488.10 605.19 L1488.54 606.44 L1488.87 607.44 L1489.20 608.44 L1489.52 609.44 L1489.91 610.69 L1490.21 611.69 L1490.51 612.69 L1490.80 613.69 L1491.10 614.69 L1491.47 615.94 L1491.76 616.94 L1492.07 617.94 L1492.37 618.94 L1492.75 620.19 L1493.06 621.19 L1493.36 622.19 L1493.67 623.19 L1493.96 624.19 L1494.32 625.44 L1494.61 626.44 L1494.88 627.44 L1495.16 628.44 L1495.50 629.69 L1495.76 630.69 L1496.01 631.69 L1496.26 632.69 L1496.49 633.69 L1496.76 634.94 L1496.95 635.94 L1497.13 636.94 L1497.29 637.94 L1497.49 639.19 L1497.63 640.19 L1497.77 641.19 L1497.91 642.19 L1498.06 643.19 L1498.23 644.44 L1498.38 645.44 L1498.52 646.44 L1498.67 647.44 L1498.85 648.69 L1499.00 649.69 L1499.14 650.69 L1499.30 651.69 L1499.46 652.69 L1499.66 653.94 L1499.84 654.94 L1500.02 655.94 L1500.20 656.94 L1500.44 658.19 L1500.64 659.19 L1500.85 660.19 L1501.08 661.19 L1501.34 662.19 L1501.78 663.44 L1502.27 664.44 L1502.85 665.44 L1503.46 666.44 L1504.16 667.69 L1504.65 668.69 L1505.08 669.69 L1505.45 670.69 L1505.83 671.94 L1506.06 672.94 L1506.27 673.94 L1506.49 674.94 L1506.71 675.94 L1507.00 677.19 L1507.24 678.19 L1507.47 679.19 L1507.71 680.19 L1507.96 681.44 L1508.10 682.44 L1508.17 683.44 L1508.17 684.44 L1508.15 685.44 L1508.09 686.69 L1508.03 687.69 L1507.96 688.69 L1507.88 689.69 L1507.77 690.94 L1507.66 691.94 L1507.53 692.94 L1507.37 693.94 L1507.18 694.94 L1506.89 696.19 L1506.63 697.19 L1506.34 698.19 L1506.04 699.19 L1505.62 700.44 L1505.27 701.44 L1504.87 702.44 L1504.44 703.44 L1503.97 704.44 L1503.33 705.69 L1502.78 706.69 L1502.23 707.69 L1501.66 708.69 L1500.96 709.94 L1500.39 710.94 L1499.82 711.94 L1499.23 712.94 L1498.64 713.94 L1497.89 715.19 L1497.28 716.19 L1496.66 717.19 L1496.04 718.19 L1495.26 719.44 L1494.63 720.44 L1493.99 721.44 L1493.34 722.44 L1492.69 723.44 L1491.87 724.69 L1491.23 725.69 L1490.59 726.69 L1489.98 727.69 L1489.22 728.94 L1488.64 729.94 L1488.06 730.94 L1487.50 731.94 L1486.94 732.94 L1486.27 734.19 L1485.75 735.19 L1485.24 736.19 L1484.76 737.19 L1484.18 738.44 L1483.73 739.44 L1483.30 740.44 L1482.88 741.44 L1482.47 742.44 L1481.99 743.69 L1481.63 744.69 L1481.31 745.69 L1481.04 746.69 L1480.76 747.94 L1480.57 748.94 L1480.39 749.94 L1480.23 750.94 L1480.07 751.94 L1479.89 753.19 L1479.77 754.19 L1479.65 755.19 L1479.55 756.19 L1479.45 757.44 L1479.37 758.44 L1479.31 759.44 L1479.26 760.44 L1479.26 761.69 L1478.07 761.69 L1478.08 760.44 L1478.03 759.44 L1477.96 758.44 L1477.89 757.44 L1477.78 756.19 L1477.68 755.19 L1477.57 754.19 L1477.44 753.19 L1477.26 751.94 L1477.11 750.94 L1476.94 749.94 L1476.77 748.94 L1476.57 747.94 L1476.29 746.69 L1476.02 745.69 L1475.70 744.69 L1475.35 743.69 L1474.86 742.44 L1474.46 741.44 L1474.04 740.44 L1473.60 739.44 L1473.16 738.44 L1472.58 737.19 L1472.09 736.19 L1471.59 735.19 L1471.07 734.19 L1470.39 732.94 L1469.84 731.94 L1469.27 730.94 L1468.70 729.94 L1468.11 728.94 L1467.36 727.69 L1466.74 726.69 L1466.11 725.69 L1465.46 724.69 L1464.65 723.44 L1464.00 722.44 L1463.35 721.44 L1462.70 720.44 L1462.07 719.44 L1461.29 718.19 L1460.67 717.19 L1460.06 716.19 L1459.45 715.19 L1458.69 713.94 L1458.10 712.94 L1457.52 711.94 L1456.95 710.94 L1456.38 709.94 L1455.67 708.69 L1455.11 707.69 L1454.55 706.69 L1454.01 705.69 L1453.37 704.44 L1452.89 703.44 L1452.46 702.44 L1452.07 701.44 L1451.71 700.44 L1451.30 699.19 L1450.99 698.19 L1450.71 697.19 L1450.44 696.19 L1450.16 694.94 L1449.96 693.94 L1449.80 692.94 L1449.67 691.94 L1449.57 690.94 L1449.45 689.69 L1449.37 688.69 L1449.30 687.69 L1449.24 686.69 L1449.18 685.44 L1449.16 684.44 L1449.17 683.44 L1449.23 682.44 L1449.37 681.44 L1449.63 680.19 L1449.86 679.19 L1450.10 678.19 L1450.34 677.19 L1450.63 675.94 L1450.85 674.94 L1451.06 673.94 L1451.27 672.94 L1451.51 671.94 L1451.88 670.69 L1452.25 669.69 L1452.69 668.69 L1453.18 667.69 L1453.88 666.44 L1454.48 665.44 L1455.06 664.44 L1455.55 663.44 L1456.00 662.19 L1456.26 661.19 L1456.48 660.19 L1456.69 659.19 L1456.89 658.19 L1457.13 656.94 L1457.32 655.94 L1457.50 654.94 L1457.67 653.94 L1457.88 652.69 L1458.04 651.69 L1458.19 650.69 L1458.34 649.69 L1458.48 648.69 L1458.67 647.44 L1458.81 646.44 L1458.96 645.44 L1459.10 644.44 L1459.28 643.19 L1459.42 642.19 L1459.56 641.19 L1459.70 640.19 L1459.85 639.19 L1460.04 637.94 L1460.21 636.94 L1460.39 635.94 L1460.58 634.94 L1460.85 633.69 L1461.08 632.69 L1461.32 631.69 L1461.58 630.69 L1461.84 629.69 L1462.18 628.44 L1462.45 627.44 L1462.73 626.44 L1463.01 625.44 L1463.37 624.19 L1463.67 623.19 L1463.97 622.19 L1464.28 621.19 L1464.58 620.19 L1464.97 618.94 L1465.27 617.94 L1465.57 616.94 L1465.87 615.94 L1466.24 614.69 L1466.53 613.69 L1466.83 612.69 L1467.12 611.69 L1467.43 610.69 L1467.81 609.44 L1468.13 608.44 L1468.46 607.44 L1468.80 606.44 L1469.23 605.19 L1469.58 604.19 L1469.94 603.19 L1470.30 602.19 L1470.65 601.19 L1471.09 599.94 L1471.43 598.94 L1471.78 597.94 L1472.12 596.94 L1472.54 595.69 L1472.87 594.69 L1473.20 593.69 L1473.53 592.69 L1473.85 591.69 L1474.24 590.44 L1474.55 589.44 L1474.86 588.44 L1475.16 587.44 L1475.53 586.19 L1475.82 585.19 L1476.11 584.19 L1476.39 583.19 L1476.66 582.19 L1476.96 580.94 L1477.18 579.94 L1477.37 578.94 L1477.54 577.94 L1477.73 576.69 L1477.87 575.69 L1477.99 574.69 L1478.07 573.69 L1478.07 572.69 Z" fill="#3a923a" stroke="#3d3d3d" stroke-width="0.7" stroke-opacity="0.8"/>
<line x1="1478.67" y1="611.91" x2="1478.67" y2="723.10" stroke="#3d3d3d" stroke-width="2.0"/>
<rect x="1475.97" y="642.56" width="5.4" height="60.48" fill="#3d3d3d"/>
<circle cx="1478.67" cy="682.05" r="2.6" fill="#fff"/>
<g stroke="#8c8c8c" stroke-width="1.8" fill="none">
<rect x="126" y="41" width="1400.8" height="755.9"/>
<line x1="126" y1="418.1" x2="1526.8" y2="418.1"/>
<line x1="406.1" y1="41" x2="406.1" y2="573.5"/>
<line x1="686.3" y1="41" x2="686.3" y2="796.9"/>
<line x1="967.0" y1="41" x2="967.0" y2="796.9"/>
<line x1="1247.0" y1="41" x2="1247.0" y2="796.9"/>
</g>
<line x1="406.7" y1="573.5" x2="406.7" y2="796.9" stroke="#7a7a7a" stroke-width="1.4"/>
<g stroke="#444" stroke-width="1">
<line x1="123.2" y1="127.4" x2="126" y2="127.4"/>
<line x1="123.2" y1="412.3" x2="126" y2="412.3"/>
<line x1="123.2" y1="510.0" x2="126" y2="510.0"/>
<line x1="123.2" y1="791.3" x2="126" y2="791.3"/>
</g>
<g stroke="#333" stroke-width="1.4" fill="none">
<polyline points="171.5,103.0 171.5,90.5 367.8,90.5 367.8,103.0"/>
<polyline points="171.5,141.0 171.5,128.8 271.5,128.8 271.5,141.0"/>
<polyline points="450.3,103.0 450.3,90.5 646.4,90.5 646.4,103.0"/>
<polyline points="450.3,141.0 450.3,128.8 550.1,128.8 550.1,141.0"/>
<polyline points="553.2,141.0 553.2,128.8 643.5,128.8 643.5,141.0"/>
<polyline points="740.0,104.4 740.0,91.5 936.1,91.5 936.1,104.4"/>
<polyline points="740.0,141.7 740.0,129.8 840.1,129.8 840.1,141.7"/>
<polyline points="1017.5,102.7 1017.5,89.8 1206.4,89.8 1206.4,102.7"/>
<polyline points="1017.5,140.3 1017.5,127.8 1111.8,127.8 1111.8,140.3"/>
<polyline points="1284.0,102.3 1284.0,89.8 1480.4,89.8 1480.4,102.3"/>
<polyline points="1284.0,140.3 1284.0,127.8 1383.9,127.8 1383.9,140.3"/>
<polyline points="453.2,480.4 453.2,467.2 649.3,467.2 649.3,480.4"/>
<polyline points="741.1,487.3 741.1,474.4 937.1,474.4 937.1,487.3"/>
<polyline points="741.2,525.2 741.2,512.4 841.1,512.4 841.1,525.2"/>
<polyline points="1011.0,486.6 1011.0,474.1 1207.1,474.1 1207.1,486.6"/>
<polyline points="1291.5,487.3 1291.5,474.4 1487.4,474.4 1487.4,487.3"/>
</g>
<text transform="translate(262.01 88.12) scale(0.8570 1)" font-family="Liberation Serif, sans-serif" font-size="25.87" font-weight="bold" fill="#000">*</text>
<text transform="translate(217.11 127.42) scale(0.8570 1)" font-family="Liberation Serif, sans-serif" font-size="25.87" font-weight="bold" fill="#000">*</text>
<text transform="translate(540.81 88.22) scale(0.8570 1)" font-family="Liberation Serif, sans-serif" font-size="25.87" font-weight="bold" fill="#000">*</text>
<text transform="translate(495.11 132.12) scale(0.8570 1)" font-family="Liberation Serif, sans-serif" font-size="25.87" font-weight="bold" fill="#000">*</text>
<text transform="translate(591.01 132.12) scale(0.8570 1)" font-family="Liberation Serif, sans-serif" font-size="25.87" font-weight="bold" fill="#000">*</text>
<text transform="translate(830.31 89.42) scale(0.8570 1)" font-family="Liberation Serif, sans-serif" font-size="25.87" font-weight="bold" fill="#000">*</text>
<text transform="translate(785.41 128.12) scale(0.8570 1)" font-family="Liberation Serif, sans-serif" font-size="25.87" font-weight="bold" fill="#000">*</text>
<text transform="translate(1107.71 87.72) scale(0.8570 1)" font-family="Liberation Serif, sans-serif" font-size="25.87" font-weight="bold" fill="#000">*</text>
<text transform="translate(1062.61 126.42) scale(0.8570 1)" font-family="Liberation Serif, sans-serif" font-size="25.87" font-weight="bold" fill="#000">*</text>
<text transform="translate(1374.91 87.72) scale(0.8570 1)" font-family="Liberation Serif, sans-serif" font-size="25.87" font-weight="bold" fill="#000">*</text>
<text transform="translate(1329.71 126.42) scale(0.8570 1)" font-family="Liberation Serif, sans-serif" font-size="25.87" font-weight="bold" fill="#000">*</text>
<text transform="translate(543.71 465.42) scale(0.8570 1)" font-family="Liberation Serif, sans-serif" font-size="25.87" font-weight="bold" fill="#000">*</text>
<text transform="translate(832.01 478.42) scale(0.8570 1)" font-family="Liberation Serif, sans-serif" font-size="25.87" font-weight="bold" fill="#000">*</text>
<text transform="translate(785.91 516.12) scale(0.8570 1)" font-family="Liberation Serif, sans-serif" font-size="25.87" font-weight="bold" fill="#000">*</text>
<text transform="translate(1101.61 472.32) scale(0.8570 1)" font-family="Liberation Serif, sans-serif" font-size="25.87" font-weight="bold" fill="#000">*</text>
<text transform="translate(1382.01 473.02) scale(0.8570 1)" font-family="Liberation Serif, sans-serif" font-size="25.87" font-weight="bold" fill="#000">*</text>
<text transform="translate(244.19 24.00) scale(0.8612 1)" font-family="Liberation Sans, sans-serif" font-size="27.68" font-weight="normal" fill="#000">DELTA</text>
<text transform="translate(508.31 23.80) scale(0.8978 1)" font-family="Liberation Sans, sans-serif" font-size="27.39" font-weight="normal" fill="#000">THETA</text>
<text transform="translate(777.38 23.80) scale(0.9121 1)" font-family="Liberation Sans, sans-serif" font-size="27.39" font-weight="normal" fill="#000">ALPHA</text>
<text transform="translate(1064.30 24.00) scale(0.8601 1)" font-family="Liberation Sans, sans-serif" font-size="27.61" font-weight="normal" fill="#000">BETA</text>
<text transform="translate(1342.10 24.00) scale(1.0146 1)" font-family="Liberation Sans, sans-serif" font-size="27.57" font-weight="normal" fill="#000">GAMMA</text>
<text transform="translate(24.04 227.30) scale(0.8597 1)" font-family="Liberation Sans, sans-serif" font-size="27.00" font-weight="normal" fill="#000">PSD</text>
<text transform="translate(2.39 263.40) scale(0.9952 1)" font-family="Liberation Sans, sans-serif" font-size="28.00" font-weight="normal" fill="#000">relative</text>
<text transform="translate(12.22 586.90) scale(0.8478 1)" font-family="Liberation Sans, sans-serif" font-size="27.68" font-weight="normal" fill="#000">PLV</text>
<text transform="translate(717.42 858.50) scale(0.8565 1)" font-family="Liberation Sans, sans-serif" font-size="27.43" font-weight="normal" fill="#000">HS</text>
<text transform="translate(811.76 858.30) scale(0.9559 1)" font-family="Liberation Sans, sans-serif" font-size="26.71" font-weight="normal" fill="#000">PwE T0</text>
<text transform="translate(969.97 858.30) scale(0.9340 1)" font-family="Liberation Sans, sans-serif" font-size="27.10" font-weight="normal" fill="#000">PwE T1</text>
<text transform="translate(110.41 130.40) scale(1.0103 1)" font-family="Liberation Sans, sans-serif" font-size="11.74" font-weight="normal" fill="#000">1</text>
<text transform="translate(109.95 414.50) scale(1.1269 1)" font-family="Liberation Sans, sans-serif" font-size="12.14" font-weight="normal" fill="#000">0</text>
<text transform="translate(110.41 511.70) scale(0.9860 1)" font-family="Liberation Sans, sans-serif" font-size="12.03" font-weight="normal" fill="#000">1</text>
<text transform="translate(110.17 795.60) scale(1.1186 1)" font-family="Liberation Sans, sans-serif" font-size="11.86" font-weight="normal" fill="#000">0</text>
<rect x="682.5" y="836.9" width="23.6" height="23.8" fill="#3274a1" stroke="#162c40" stroke-width="1.2"/>
<rect x="776.9" y="836.9" width="24.0" height="23.8" fill="#e1812c" stroke="#222230" stroke-width="1.2"/>
<rect x="934.9" y="836.9" width="24.0" height="23.8" fill="#3a923a" stroke="#183820" stroke-width="1.2"/>
</svg></body></html>
